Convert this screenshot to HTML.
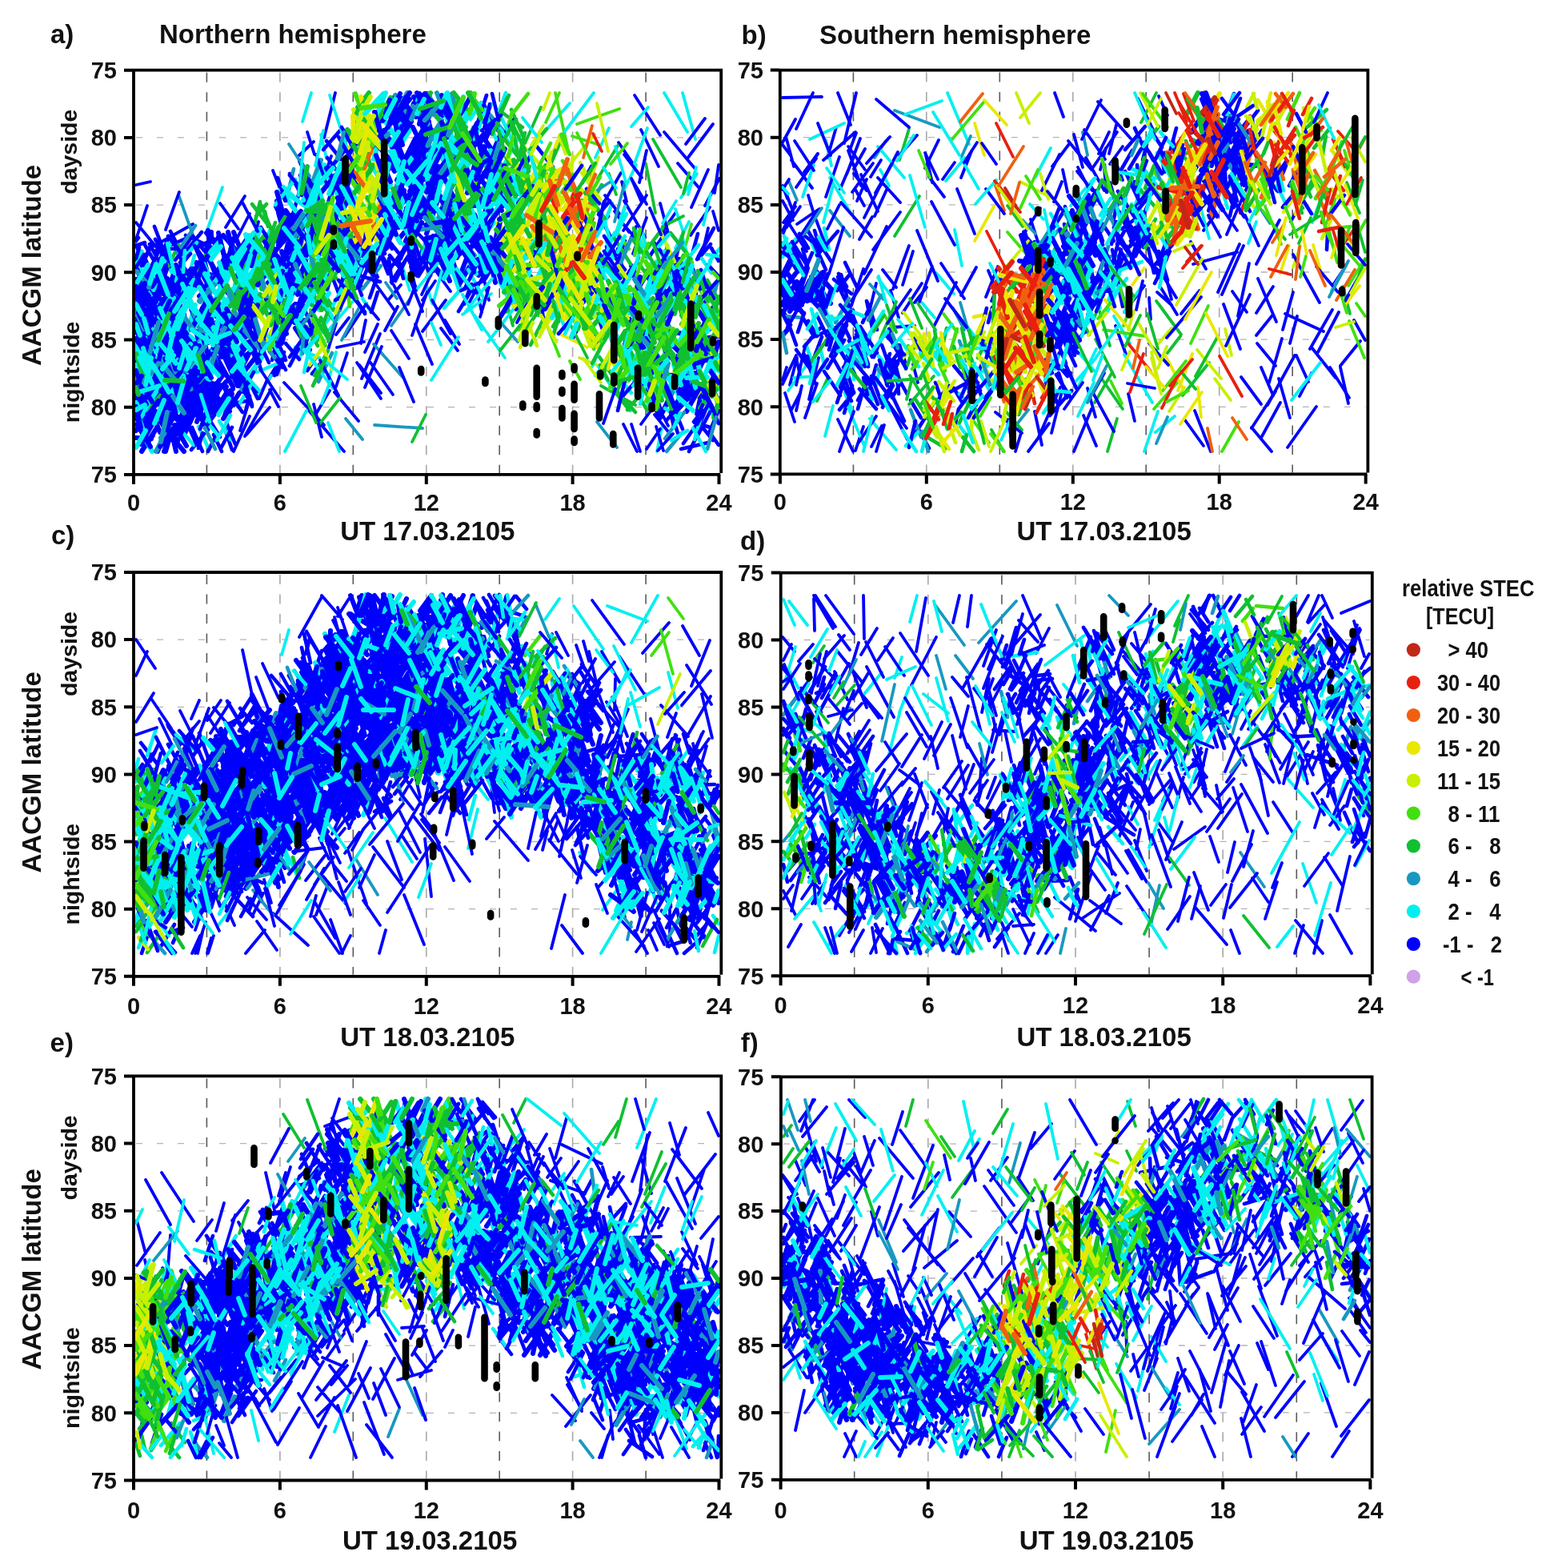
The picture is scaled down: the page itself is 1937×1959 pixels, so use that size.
<!DOCTYPE html><html><head><meta charset="utf-8"><style>html,body{margin:0;padding:0;background:#fff}svg{display:block}.tk{font:bold 29px 'Liberation Sans', Arial, sans-serif;fill:#111}.lb{font:bold 33px 'Liberation Sans', Arial, sans-serif;fill:#111}.sl{font:bold 28.5px 'Liberation Sans', Arial, sans-serif;fill:#111}.lg{font:bold 30px 'Liberation Sans', Arial, sans-serif;fill:#111}</style></head><body>
<svg xmlns="http://www.w3.org/2000/svg" width="1937" height="1959" viewBox="0 0 1937 1959">
<rect width="1937" height="1959" fill="#fff"/>
<line x1="258.4" y1="90.7" x2="258.4" y2="590.9" stroke="#5a5a5a" stroke-width="1.6" stroke-dasharray="12 12.5"/>
<line x1="441.3" y1="90.7" x2="441.3" y2="590.9" stroke="#5a5a5a" stroke-width="1.6" stroke-dasharray="12 12.5"/>
<line x1="624.2" y1="90.7" x2="624.2" y2="590.9" stroke="#5a5a5a" stroke-width="1.6" stroke-dasharray="12 12.5"/>
<line x1="807.1" y1="90.7" x2="807.1" y2="590.9" stroke="#5a5a5a" stroke-width="1.6" stroke-dasharray="12 12.5"/>
<line x1="349.9" y1="90.7" x2="349.9" y2="590.9" stroke="#a8a8a8" stroke-width="1.6" stroke-dasharray="12 12.5"/>
<line x1="532.8" y1="90.7" x2="532.8" y2="590.9" stroke="#a8a8a8" stroke-width="1.6" stroke-dasharray="12 12.5"/>
<line x1="715.6" y1="90.7" x2="715.6" y2="590.9" stroke="#a8a8a8" stroke-width="1.6" stroke-dasharray="12 12.5"/>
<line x1="170" y1="171.9" x2="898.2" y2="171.9" stroke="#b4b4b4" stroke-width="1.3" stroke-dasharray="8 18"/>
<line x1="170" y1="256.1" x2="898.2" y2="256.1" stroke="#b4b4b4" stroke-width="1.3" stroke-dasharray="8 18"/>
<line x1="170" y1="340.3" x2="898.2" y2="340.3" stroke="#b4b4b4" stroke-width="1.3" stroke-dasharray="8 18"/>
<line x1="170" y1="424.5" x2="898.2" y2="424.5" stroke="#b4b4b4" stroke-width="1.3" stroke-dasharray="8 18"/>
<line x1="170" y1="508.7" x2="898.2" y2="508.7" stroke="#b4b4b4" stroke-width="1.3" stroke-dasharray="8 18"/>
<line x1="1066.4" y1="90.6" x2="1066.4" y2="590.4" stroke="#5a5a5a" stroke-width="1.6" stroke-dasharray="12 12.5"/>
<line x1="1249.3" y1="90.6" x2="1249.3" y2="590.4" stroke="#5a5a5a" stroke-width="1.6" stroke-dasharray="12 12.5"/>
<line x1="1432.2" y1="90.6" x2="1432.2" y2="590.4" stroke="#5a5a5a" stroke-width="1.6" stroke-dasharray="12 12.5"/>
<line x1="1615.2" y1="90.6" x2="1615.2" y2="590.4" stroke="#5a5a5a" stroke-width="1.6" stroke-dasharray="12 12.5"/>
<line x1="1157.8" y1="90.6" x2="1157.8" y2="590.4" stroke="#a8a8a8" stroke-width="1.6" stroke-dasharray="12 12.5"/>
<line x1="1340.8" y1="90.6" x2="1340.8" y2="590.4" stroke="#a8a8a8" stroke-width="1.6" stroke-dasharray="12 12.5"/>
<line x1="1523.7" y1="90.6" x2="1523.7" y2="590.4" stroke="#a8a8a8" stroke-width="1.6" stroke-dasharray="12 12.5"/>
<line x1="977.8" y1="171.7" x2="1706.4" y2="171.7" stroke="#b4b4b4" stroke-width="1.3" stroke-dasharray="8 18"/>
<line x1="977.8" y1="255.9" x2="1706.4" y2="255.9" stroke="#b4b4b4" stroke-width="1.3" stroke-dasharray="8 18"/>
<line x1="977.8" y1="340" x2="1706.4" y2="340" stroke="#b4b4b4" stroke-width="1.3" stroke-dasharray="8 18"/>
<line x1="977.8" y1="424.1" x2="1706.4" y2="424.1" stroke="#b4b4b4" stroke-width="1.3" stroke-dasharray="8 18"/>
<line x1="977.8" y1="508.3" x2="1706.4" y2="508.3" stroke="#b4b4b4" stroke-width="1.3" stroke-dasharray="8 18"/>
<line x1="258.4" y1="718" x2="258.4" y2="1217.8" stroke="#5a5a5a" stroke-width="1.6" stroke-dasharray="12 12.5"/>
<line x1="441.3" y1="718" x2="441.3" y2="1217.8" stroke="#5a5a5a" stroke-width="1.6" stroke-dasharray="12 12.5"/>
<line x1="624.2" y1="718" x2="624.2" y2="1217.8" stroke="#5a5a5a" stroke-width="1.6" stroke-dasharray="12 12.5"/>
<line x1="807.1" y1="718" x2="807.1" y2="1217.8" stroke="#5a5a5a" stroke-width="1.6" stroke-dasharray="12 12.5"/>
<line x1="349.9" y1="718" x2="349.9" y2="1217.8" stroke="#a8a8a8" stroke-width="1.6" stroke-dasharray="12 12.5"/>
<line x1="532.8" y1="718" x2="532.8" y2="1217.8" stroke="#a8a8a8" stroke-width="1.6" stroke-dasharray="12 12.5"/>
<line x1="715.6" y1="718" x2="715.6" y2="1217.8" stroke="#a8a8a8" stroke-width="1.6" stroke-dasharray="12 12.5"/>
<line x1="170" y1="799.1" x2="898.3" y2="799.1" stroke="#b4b4b4" stroke-width="1.3" stroke-dasharray="8 18"/>
<line x1="170" y1="883.3" x2="898.3" y2="883.3" stroke="#b4b4b4" stroke-width="1.3" stroke-dasharray="8 18"/>
<line x1="170" y1="967.4" x2="898.3" y2="967.4" stroke="#b4b4b4" stroke-width="1.3" stroke-dasharray="8 18"/>
<line x1="170" y1="1051.5" x2="898.3" y2="1051.5" stroke="#b4b4b4" stroke-width="1.3" stroke-dasharray="8 18"/>
<line x1="170" y1="1135.7" x2="898.3" y2="1135.7" stroke="#b4b4b4" stroke-width="1.3" stroke-dasharray="8 18"/>
<line x1="1067.7" y1="718.6" x2="1067.7" y2="1217.2" stroke="#5a5a5a" stroke-width="1.6" stroke-dasharray="12 12.5"/>
<line x1="1251.9" y1="718.6" x2="1251.9" y2="1217.2" stroke="#5a5a5a" stroke-width="1.6" stroke-dasharray="12 12.5"/>
<line x1="1436.1" y1="718.6" x2="1436.1" y2="1217.2" stroke="#5a5a5a" stroke-width="1.6" stroke-dasharray="12 12.5"/>
<line x1="1620.3" y1="718.6" x2="1620.3" y2="1217.2" stroke="#5a5a5a" stroke-width="1.6" stroke-dasharray="12 12.5"/>
<line x1="1159.8" y1="718.6" x2="1159.8" y2="1217.2" stroke="#a8a8a8" stroke-width="1.6" stroke-dasharray="12 12.5"/>
<line x1="1344" y1="718.6" x2="1344" y2="1217.2" stroke="#a8a8a8" stroke-width="1.6" stroke-dasharray="12 12.5"/>
<line x1="1528.2" y1="718.6" x2="1528.2" y2="1217.2" stroke="#a8a8a8" stroke-width="1.6" stroke-dasharray="12 12.5"/>
<line x1="978.7" y1="799.5" x2="1711.8" y2="799.5" stroke="#b4b4b4" stroke-width="1.3" stroke-dasharray="8 18"/>
<line x1="978.7" y1="883.5" x2="1711.8" y2="883.5" stroke="#b4b4b4" stroke-width="1.3" stroke-dasharray="8 18"/>
<line x1="978.7" y1="967.4" x2="1711.8" y2="967.4" stroke="#b4b4b4" stroke-width="1.3" stroke-dasharray="8 18"/>
<line x1="978.7" y1="1051.3" x2="1711.8" y2="1051.3" stroke="#b4b4b4" stroke-width="1.3" stroke-dasharray="8 18"/>
<line x1="978.7" y1="1135.3" x2="1711.8" y2="1135.3" stroke="#b4b4b4" stroke-width="1.3" stroke-dasharray="8 18"/>
<line x1="258.4" y1="1347.4" x2="258.4" y2="1847.5" stroke="#5a5a5a" stroke-width="1.6" stroke-dasharray="12 12.5"/>
<line x1="441.3" y1="1347.4" x2="441.3" y2="1847.5" stroke="#5a5a5a" stroke-width="1.6" stroke-dasharray="12 12.5"/>
<line x1="624.2" y1="1347.4" x2="624.2" y2="1847.5" stroke="#5a5a5a" stroke-width="1.6" stroke-dasharray="12 12.5"/>
<line x1="807.1" y1="1347.4" x2="807.1" y2="1847.5" stroke="#5a5a5a" stroke-width="1.6" stroke-dasharray="12 12.5"/>
<line x1="349.9" y1="1347.4" x2="349.9" y2="1847.5" stroke="#a8a8a8" stroke-width="1.6" stroke-dasharray="12 12.5"/>
<line x1="532.8" y1="1347.4" x2="532.8" y2="1847.5" stroke="#a8a8a8" stroke-width="1.6" stroke-dasharray="12 12.5"/>
<line x1="715.6" y1="1347.4" x2="715.6" y2="1847.5" stroke="#a8a8a8" stroke-width="1.6" stroke-dasharray="12 12.5"/>
<line x1="170" y1="1428.6" x2="898.3" y2="1428.6" stroke="#b4b4b4" stroke-width="1.3" stroke-dasharray="8 18"/>
<line x1="170" y1="1512.8" x2="898.3" y2="1512.8" stroke="#b4b4b4" stroke-width="1.3" stroke-dasharray="8 18"/>
<line x1="170" y1="1597" x2="898.3" y2="1597" stroke="#b4b4b4" stroke-width="1.3" stroke-dasharray="8 18"/>
<line x1="170" y1="1681.1" x2="898.3" y2="1681.1" stroke="#b4b4b4" stroke-width="1.3" stroke-dasharray="8 18"/>
<line x1="170" y1="1765.3" x2="898.3" y2="1765.3" stroke="#b4b4b4" stroke-width="1.3" stroke-dasharray="8 18"/>
<line x1="1067.7" y1="1348.3" x2="1067.7" y2="1846.8" stroke="#5a5a5a" stroke-width="1.6" stroke-dasharray="12 12.5"/>
<line x1="1251.9" y1="1348.3" x2="1251.9" y2="1846.8" stroke="#5a5a5a" stroke-width="1.6" stroke-dasharray="12 12.5"/>
<line x1="1436.1" y1="1348.3" x2="1436.1" y2="1846.8" stroke="#5a5a5a" stroke-width="1.6" stroke-dasharray="12 12.5"/>
<line x1="1620.3" y1="1348.3" x2="1620.3" y2="1846.8" stroke="#5a5a5a" stroke-width="1.6" stroke-dasharray="12 12.5"/>
<line x1="1159.8" y1="1348.3" x2="1159.8" y2="1846.8" stroke="#a8a8a8" stroke-width="1.6" stroke-dasharray="12 12.5"/>
<line x1="1344" y1="1348.3" x2="1344" y2="1846.8" stroke="#a8a8a8" stroke-width="1.6" stroke-dasharray="12 12.5"/>
<line x1="1528.2" y1="1348.3" x2="1528.2" y2="1846.8" stroke="#a8a8a8" stroke-width="1.6" stroke-dasharray="12 12.5"/>
<line x1="978.9" y1="1429.2" x2="1711.6" y2="1429.2" stroke="#b4b4b4" stroke-width="1.3" stroke-dasharray="8 18"/>
<line x1="978.9" y1="1513.1" x2="1711.6" y2="1513.1" stroke="#b4b4b4" stroke-width="1.3" stroke-dasharray="8 18"/>
<line x1="978.9" y1="1597" x2="1711.6" y2="1597" stroke="#b4b4b4" stroke-width="1.3" stroke-dasharray="8 18"/>
<line x1="978.9" y1="1681" x2="1711.6" y2="1681" stroke="#b4b4b4" stroke-width="1.3" stroke-dasharray="8 18"/>
<line x1="978.9" y1="1764.9" x2="1711.6" y2="1764.9" stroke="#b4b4b4" stroke-width="1.3" stroke-dasharray="8 18"/>
<g fill="none" stroke-width="3.8" stroke-linecap="round">
<path stroke="#0000ff" d="M405 172l14 -56M392 177l-18 17M404 224l10 -29M790 203l-17 -25M859 198l32 -43M356 251l-15 -38M783 252l-6 -25M873 234l-26 -30M207 323l-37 -45M241 280l-55 31M313 316l10 -39M801 305l-25 -28M786 290l-18 -26M826 292l18 -26M863 294l24 -35M494 389l-28 -39M528 389l-15 -38M563 364l-31 -43M587 377l23 -44M602 390l-8 -37M410 437l10 -33M431 420l27 -41M515 419l19 -55M528 414l29 -39M455 427l-34 7M452 473l23 -56M348 508l-11 -21M355 478l50 53M448 526l-30 -36M491 493l-28 -40M300 538l11 -36M306 545l33 -59M800 564l-11 -34M835 532l-20 -39M801 530l29 -40"/>
<path stroke="#0000ff" stroke-width="4.6" d="M599 181l16 -26M603 173l9 -16M622 163l-17 -32M611 167l9 -17M430 207l16 -33M435 223l-5 -18M426 199l-18 -23M427 214l15 -34M650 222l12 -26M365 271l9 -31M377 244l-15 -27M728 228l11 -20M747 286l13 -16M200 329l-13 -24M186 344l-16 -38M177 314l-7 11M193 351l-12 -29M205 317l-11 -18M201 351l6 -23M232 298l-36 16M228 318l-15 -29M235 344l-10 -16M232 294l33 15M219 325l18 -25M498 316l-16 -20M486 323l4 31M488 336l-15 -23M481 317l-15 -36M501 323l7 -22M519 339l9 -28M520 289l24 26M520 344l-10 -21M754 324l10 -29M768 337l13 -36M781 337l-23 -29M798 321l-8 24M812 320l20 -30M839 345l9 -36M873 320l19 -35M866 314l6 -22M425 371l-9 -23M452 369l-8 -22M456 392l-13 -21M451 354l11 -25M573 389l17 -28M881 377l13 -16M883 359l-7 -22M392 417l-14 -38M340 450l8 -33M335 475l12 -20M357 462l-17 -32M348 462l7 -18M357 450l-9 -21M390 467l13 -16M298 483l4 -18M309 494l-9 -32M322 489l-20 -23M304 490l-11 -35M809 492l-14 -35M229 542l8 -19M253 564l-13 -30M222 536l18 -29M223 536l14 -29M290 562l-9 -26M277 564l-10 -21M275 546l-16 -26M847 541l-7 -21M853 536l-11 -27M872 527l14 -22M898 556l-10 -14M885 553l-34 8M886 541l12 -28"/>
<path stroke="#0000ff" stroke-width="6" d="M464 169l-16 -33M490 149l4 -18M509 148l-16 -27M503 123l-18 21M491 132l9 -15M483 161l25 -32M536 166l-16 -27M515 145l-16 24M527 150l-7 -20M537 187l-10 -32M511 161l-16 -27M536 152l-19 -31M552 181l8 -23M544 175l-19 -36M553 144l13 -20M586 182l6 -22M494 192l9 -38M504 214l-17 -36M483 216l4 -18M493 214l-14 -23M523 179l-14 23M530 209l-12 -25M529 192l3 25M518 178l19 20M520 202l12 -39M505 202l12 -20M551 170l7 33M565 193l-19 -24M528 212l15 -19M591 228l-13 -29M562 200l10 -34M611 202l14 -33M602 202l4 -18M623 199l-16 -23M630 227l-11 -29M380 255l13 -14M390 234l-15 -33M378 207l6 30M444 264l-15 -27M448 228l-14 -23M426 243l-22 -35M492 241l13 -16M472 233l22 -35M492 258l13 -20M512 239l14 -24M515 247l12 -21M527 233l-6 -28M513 248l17 -37M516 265l9 -34M543 244l23 7M533 270l16 -38M550 245l-25 -29M596 254l-7 -26M627 263l-19 -28M594 234l18 -28M601 250l15 -29M611 258l-15 -27M637 238l-36 17M675 270l-20 -36M367 309l5 -24M349 307l26 -29M354 274l-8 -23M384 300l-16 -30M375 293l11 -30M388 288l22 -24M415 306l-15 -26M422 284l13 -18M428 289l-17 -34M494 282l10 -35M484 307l8 -33M475 276l6 -25M481 291l11 -18M498 284l23 -28M516 283l-8 -21M498 299l23 -27M534 266l-13 -15M539 282l-10 -28M555 288l14 -19M554 273l-18 -26M533 292l13 -39M553 302l9 -17M563 303l20 -32M603 291l-24 -32M615 313l-18 -36M589 309l12 -23M617 269l-8 -19M617 310l7 -33M604 274l7 -27M672 306l16 -34M693 310l20 -29M740 288l-7 -16M277 340l13 -20M279 296l-34 13M297 315l-18 -21M255 330l9 -37M274 337l15 -23M298 343l17 -34M301 313l-9 -23M327 319l-9 -17M337 330l-23 -29M329 333l37 14M355 334l21 -29M356 346l18 -20M359 356l-19 -32M362 343l-10 -29M373 319l-20 -34M388 315l7 -26M404 337l13 -21M441 356l-12 -35M445 328l6 -27M450 357l-10 -34M433 321l18 -35M471 346l-18 -32M453 319l-18 -22M562 351l-17 -38M538 338l17 -37M542 313l14 -29M542 338l-9 -27M560 319l13 -19M574 352l-12 -38M573 357l19 -33M571 322l15 -25M598 344l14 -24M606 348l14 -24M613 313l15 -25M619 353l-7 -30M599 325l9 -16M668 315l18 10M736 357l-14 -33M184 373l-8 -17M180 366l-10 -17M174 373l28 9M182 376l8 -25M170 386l25 -33M187 341l-17 21M170 378l5 -9M224 391l-15 -19M203 367l12 -19M193 354l20 -26M224 349l-12 -14M225 381l-20 -34M209 385l8 -34M215 354l5 -23M233 383l-11 -40M230 336l23 27M264 361l-17 -30M259 354l-14 -26M298 382l-25 -31M263 359l-8 -35M260 366l17 -22M304 392l-9 -25M291 376l7 -24M355 377l-20 -24M353 344l19 24M378 372l-8 -31M359 348l37 13M363 374l-19 -28M401 372l9 -36M645 386l-8 -19M651 332l15 17M730 342l-8 27M735 372l-14 -23M773 370l-34 18M803 379l-7 -21M819 381l15 -17M820 388l19 -30M866 359l-18 -35M836 370l8 -38M181 438l11 -38M188 392l-7 -17M178 427l-8 -14M197 439l-17 -37M181 433l-11 -20M171 407l23 -32M193 433l-21 -36M176 410l22 -29M203 412l-13 -38M208 414l-13 -22M221 433l-7 -30M207 430l16 -18M233 427l-11 -26M230 393l-9 -16M248 439l15 -38M248 416l16 -20M223 420l20 -25M263 441l23 -33M260 428l11 -26M278 419l16 -24M280 408l7 -31M257 389l35 16M268 408l-15 -23M303 394l-9 -20M305 404l14 -30M325 424l-16 -35M305 416l-13 -27M341 399l16 -19M358 417l-11 -36M369 380l-22 21M341 424l25 -29M387 437l-18 -27M716 421l12 -24M755 415l-8 -22M799 414l-12 -15M822 410l17 -30M829 413l25 4M879 398l17 -19M898 420l-31 5M170 444l15 -26M170 468l15 -24M201 468l-12 -29M183 448l7 -26M188 447l23 -28M214 478l-8 -23M217 464l-14 -33M218 462l13 -16M196 429l17 13M234 417l-23 29M225 428l-13 18M254 473l8 -16M250 456l-8 -24M241 450l-22 -31M248 454l-17 -21M251 478l11 -36M293 459l-19 -21M295 447l-18 -23M277 467l-11 -19M291 483l-20 -36M303 467l15 -19M310 442l-24 15M298 477l7 -25M299 465l-15 -24M814 467l4 -18M868 459l-11 -18M850 476l-6 -22M872 465l8 -17M186 509l7 -19M172 498l16 -18M193 495l-23 -26M170 493l13 -16M185 505l-12 -29M189 493l-15 -22M173 502l9 -25M180 500l-10 -19M198 505l7 -23M218 507l-7 -28M231 496l-15 -22M215 491l-11 -40M207 492l25 -30M213 519l-18 -24M220 510l-23 -34M233 498l23 -26M226 475l11 -15M243 483l-12 -30M237 514l11 -28M245 512l-21 -36M233 514l23 -31M240 482l-18 -29M227 507l18 -22M250 496l-13 -19M258 490l-15 -31M274 504l-16 -38M259 503l28 -31M260 495l21 -30M281 485l11 21M287 514l-15 -17M268 507l-14 -27M825 522l-13 -27M844 514l10 -20M837 484l20 -24M870 466l-33 3M842 508l20 -27M871 517l8 -38M888 492l-20 3M177 564l20 -31M185 535l5 -19M177 549l9 -31M192 492l-16 34M178 562l13 -18M187 533l26 -32M220 557l-10 -18M229 527l-9 16M220 564l-5 -22M197 564l10 -26M205 564l9 -24"/>
<path stroke="#1898c0" d="M387 220l-26 -40M244 302l-20 -56M427 425l23 -43M503 471l-36 -41M771 559l-25 -32"/>
<path stroke="#1898c0" stroke-width="4.6" d="M633 168l-20 -24M361 237l6 -26M844 349l-20 -37M453 361l23 -29M317 465l17 -36M398 477l17 -36M833 564l19 -23"/>
<path stroke="#1898c0" stroke-width="6" d="M508 140l-14 -21M499 135l10 -19M556 142l-10 -26M565 117l4 20M533 191l8 -28M387 237l14 -37M485 263l20 -36M516 249l10 -17M647 228l13 -17M417 306l-17 -27M546 278l12 -34M593 319l-18 -20M191 384l7 -27M259 373l14 -28M294 356l6 22M362 369l-14 -21M859 381l11 -20M200 391l9 27M253 418l-12 -29M287 430l-13 -36M346 423l12 -16M836 408l-12 -14M170 465l8 -9M228 435l5 23M231 461l-6 -20M306 452l-19 -21M887 441l-13 -18M213 488l-11 -27M835 502l11 -24M170 519l6 -12M201 547l12 -17"/>
<path stroke="#00f0f0" d="M378 152l11 -36M682 163l30 -34M869 174l-16 -58M408 198l-7 -30M744 197l17 -37M780 237l15 -31M258 290l20 -56M854 290l-10 -29M512 363l-9 -30M540 379l-7 -23M411 412l33 -39M631 447l-38 -53M410 477l10 -37M321 497l18 -28M767 488l-20 -31M821 564l6 -30"/>
<path stroke="#00f0f0" stroke-width="4.6" d="M588 187l14 -36M620 174l-15 -38M629 207l20 -37M350 237l33 22M331 302l8 -18M756 277l9 -23M176 325l-0 29M203 335l11 -34M237 342l6 -23M526 325l6 -26M766 323l-8 -21M795 330l9 -33M828 350l-16 -20M856 353l8 -29M887 326l12 -15M464 390l-11 -17M555 385l22 -25M888 376l-15 -21M397 416l16 -20M347 454l-26 11M366 445l16 -22M369 434l30 13M744 469l24 -29M788 513l-11 -15M789 491l-22 -28M260 559l-12 -26M271 542l-20 -24M859 538l-20 12M896 527l-17 -28"/>
<path stroke="#00f0f0" stroke-width="6" d="M448 158l13 -22M480 182l-18 -36M503 161l-17 -33M518 143l6 -25M565 175l-8 -33M575 164l14 -27M572 172l12 -34M483 210l16 -37M531 186l-5 -21M540 209l10 -29M565 225l-15 -34M578 197l-17 -26M593 210l13 -15M391 252l25 -30M416 227l-12 -14M389 239l16 -33M452 258l-21 -28M402 228l18 -27M480 233l-14 -24M481 239l25 11M526 262l12 -19M546 226l-11 -18M544 228l-15 -20M528 213l14 24M579 213l-3 38M634 242l-23 17M630 248l22 2M654 241l-19 -29M675 240l-15 -20M377 274l-20 -28M476 290l9 -27M491 269l-9 27M505 305l20 -33M523 266l-7 19M540 270l25 32M573 304l15 -35M585 286l-11 -19M600 300l17 -22M613 278l14 -21M635 294l7 -19M282 347l8 -20M295 327l-10 -36M304 331l-16 -20M313 317l11 -14M296 330l15 -36M330 342l-13 -30M383 324l-19 -33M388 330l11 -37M432 334l9 -32M406 343l16 -24M433 355l9 -32M456 316l-18 -23M435 340l14 -26M550 327l-17 -28M529 316l23 -31M595 342l-12 -21M608 339l-10 -16M602 333l9 -18M671 349l11 -24M178 371l-8 -11M170 373l11 -24M173 392l22 -30M206 385l11 -24M230 369l-16 -31M240 366l-5 -22M244 362l11 -38M233 367l-6 -22M278 372l-7 -31M283 388l6 -26M301 362l11 -14M313 351l14 28M316 373l17 13M381 371l-6 -18M350 362l9 -33M383 361l13 -16M402 349l-16 -18M635 371l-10 -19M661 366l-7 -18M709 368l-12 -31M730 372l22 -30M784 392l-17 -22M784 370l-20 -28M790 393l-20 -31M794 390l5 -19M830 389l9 -22M817 357l7 -25M840 392l9 -34M202 426l-18 -21M202 378l-22 25M230 408l-14 -18M205 397l9 -17M221 425l13 -21M233 419l11 -38M224 409l18 15M240 406l25 -29M278 406l12 -35M285 392l-16 -19M264 402l9 -39M258 427l20 -36M338 385l14 14M732 416l-9 -40M774 425l-13 -21M752 394l6 -23M785 432l24 -30M814 420l-14 -24M866 392l-14 -17M876 380l22 33M170 432l12 -18M205 462l-31 6M170 466l5 -16M182 422l-12 7M176 461l-6 -28M198 437l-8 -25M216 446l-13 -15M231 479l-7 -32M193 436l16 -21M244 475l7 -25M236 467l5 -19M259 467l-7 -23M267 441l9 -21M263 454l9 -20M303 455l-27 -30M284 453l22 -27M790 444l3 31M807 456l-30 3M784 476l20 -28M817 480l13 -37M857 451l21 -33M877 472l-6 -22M879 438l-5 -23M170 499l24 3M206 487l5 -20M212 476l-6 21M849 491l-25 -33M852 504l-14 -34M862 500l9 -27M897 486l-7 -27M193 522l-11 -18M190 564l-9 -17"/>
<path stroke="#10c030" d="M656 179l20 -45M770 243l-9 -26M854 270l-26 13M641 407l-8 -29M751 482l43 24"/>
<path stroke="#10c030" stroke-width="4.6" d="M590 162l17 -23M654 171l-15 -34M628 141l25 18M651 200l-13 -18M638 205l-13 -19M626 216l12 -16M689 203l16 -37M735 260l17 -29M318 280l7 -28M320 270l13 -15M206 342l17 -36M755 337l-6 -21M810 346l-11 -16M825 339l9 -32M808 312l20 -27M836 352l18 -33M439 361l-20 -34M433 357l-8 31M898 375l-14 -25M390 425l11 -28M418 401l-22 -29M663 431l17 -34M693 407l16 -37M393 469l17 -31M755 465l17 -31M777 444l-12 -36M794 515l-27 -31M784 512l18 -21"/>
<path stroke="#10c030" stroke-width="6" d="M447 134l14 -18M466 181l-21 -28M558 160l-21 -24M575 173l-10 -40M562 181l20 -22M564 151l7 -23M583 136l-16 -20M462 207l-6 -29M579 154l-19 37M568 220l23 -30M609 212l-5 -21M428 259l9 -16M451 238l15 -32M571 238l7 -19M565 260l11 -30M563 237l13 -21M599 241l19 -21M632 247l-10 -21M639 230l-13 -24M666 254l-9 -21M653 232l8 -24M691 251l11 -35M403 296l-13 -34M389 281l15 -26M394 276l21 -27M433 295l-17 -25M444 305l-8 -28M423 310l-16 -28M575 304l-7 -20M627 295l19 -27M634 304l-11 -18M668 264l19 30M663 299l19 -37M716 266l-8 -19M747 289l-13 17M300 340l24 -31M313 315l19 -22M321 344l5 -20M400 339l18 -30M414 316l-21 -35M599 313l-21 -28M661 317l-19 -30M670 329l14 -22M688 348l-8 -39M692 354l-8 -32M740 295l-31 12M303 361l-10 -17M312 350l7 -17M308 375l16 -33M325 368l15 10M327 361l-5 -18M391 352l-11 -24M390 381l-9 -40M417 387l-20 -32M630 365l16 -18M632 389l9 -22M673 393l-17 -38M675 364l14 -36M710 377l-18 -30M698 391l14 -20M729 388l-14 -25M727 391l-15 -36M768 369l-8 -18M769 342l17 6M837 394l-13 -25M838 371l22 -32M843 392l9 -38M288 398l13 -30M347 412l-21 -32M310 407l21 -27M378 423l-13 -36M722 411l5 -22M749 392l-26 12M766 408l-21 -28M767 431l-9 -27M780 438l12 -39M798 401l-16 13M817 420l12 -16M802 423l12 -31M857 436l16 -32M859 427l7 -24M853 436l-22 -25M881 436l18 -28M885 403l-11 -32M801 444l-17 -23M791 447l-11 -25M814 444l-8 -37M832 440l-9 -24M834 467l-17 -29M865 475l-11 -33M874 483l-21 -36M895 453l-13 -27M898 459l-7 -10M191 484l9 -27M216 500l-19 -22M819 486l7 -28M819 501l12 -39M875 510l12 -19M882 494l-11 -15"/>
<path stroke="#40e010" d="M709 183l-15 -67M715 170l34 11M857 306l7 -26M761 487l8 -26"/>
<path stroke="#40e010" stroke-width="4.6" d="M634 160l6 -20M674 223l-10 -26M715 219l-12 -18M744 254l-7 -21M786 311l-13 -18M865 328l-11 -20M885 377l-17 -24M648 412l20 -31M742 436l15 -19"/>
<path stroke="#40e010" stroke-width="6" d="M451 185l7 -26M456 148l-12 -31M569 153l-11 -21M449 201l-9 -36M456 208l11 -33M449 240l-10 -15M565 208l14 14M687 238l-6 -25M703 240l15 -21M400 299l-9 -26M442 307l-11 -40M587 288l-6 -20M653 280l-19 -31M676 298l11 -19M684 284l-15 -38M739 279l-13 -28M319 328l14 -19M376 353l17 -28M656 336l-8 -23M679 337l-7 -28M689 319l16 -34M735 322l-7 -29M384 354l10 -16M658 355l-20 -29M639 378l-10 -40M704 353l18 -23M723 389l-11 -31M735 355l12 -18M768 388l-8 -17M789 362l-31 6M791 393l-15 -39M812 345l20 32M857 369l17 -27M313 396l20 -24M727 395l18 -24M767 377l-31 13M756 392l23 9M810 429l16 -27M830 406l-34 21M868 407l-19 -35M898 393l-8 -22M804 446l-9 -26M821 455l12 -14M856 449l-14 -27M882 447l-26 -33M818 507l15 -22M817 477l14 -16"/>
<path stroke="#c8f000" d="M679 137l8 -21M710 208l33 -40M724 447l22 9"/>
<path stroke="#c8f000" stroke-width="4.6" d="M655 223l-22 -29M678 209l-27 -30M707 192l-8 -22M739 251l-13 -15M807 317l-10 -24M879 366l-7 -22M671 432l-14 -36M693 384l-14 23M415 461l-15 -35M784 476l-21 -26"/>
<path stroke="#c8f000" stroke-width="6" d="M449 166l9 -38M457 172l-15 -35M458 200l14 -37M458 222l-8 -25M467 249l-12 -27M445 258l17 -35M468 237l-14 -34M668 263l8 -19M658 238l12 -20M705 246l8 -19M432 306l27 -32M454 271l-16 -21M635 296l-13 -17M667 297l7 -17M711 298l-16 -26M745 301l-9 -21M352 336l-14 -24M640 318l-17 -27M634 337l-13 -33M656 343l-14 -36M675 329l11 -40M703 339l-13 -24M710 311l-10 -19M736 337l-7 -28M332 374l23 -31M682 345l-24 5M710 398l-9 -36M696 367l-10 -35M722 391l-8 -24M715 397l16 -32M757 376l17 -21M333 424l12 -18M743 395l-7 -26M737 412l-16 -22M784 398l-8 -20M843 464l20 3M866 500l18 -26"/>
<path stroke="#e8e800" d="M697 416l37 18"/>
<path stroke="#e8e800" stroke-width="4.6" d="M682 214l15 -38M701 383l-26 32M769 463l11 -26"/>
<path stroke="#e8e800" stroke-width="6" d="M447 161l15 -16M456 139l-5 -18M465 182l9 35M454 234l-16 -25M704 262l17 -24M453 285l12 -23M465 272l14 -28M471 269l-12 -19M678 282l-13 -23M690 275l12 -24M725 294l-18 -31M647 316l21 -26M708 325l8 -30M732 347l-10 -31M642 383l27 -30M716 365l-9 -18M740 384l6 -28"/>
<path stroke="#f06010" d="M729 197l11 -40"/>
<path stroke="#f06010" stroke-width="4.6" d="M737 227l6 -20"/>
<path stroke="#f06010" stroke-width="6" d="M455 210l15 -39M681 241l12 -16M432 307l21 -33M475 258l-10 35M708 281l12 -21M738 253l-13 26M730 324l14 -34"/>
<path stroke="#e82010" d="M752 189l-11 -22"/>
<path stroke="#e82010" stroke-width="6" d="M710 266l7 -23M700 303l-17 -28M717 307l23 -34"/>
<path stroke="#0000ff" d="M825 169l-32 -50M408 230l-13 -37M802 222l-22 -29M823 208l-22 -46M898 206l-5 35M774 267l-18 -23M802 253l-13 -30M864 259l21 -47M170 299l14 -42M298 286l-23 -32M282 284l24 -39M779 288l29 -44M806 296l-26 -45M835 291l-10 -37M898 288l-7 -24M485 375l16 -19M520 363l-7 -30M527 368l22 -48M611 375l-10 -42M420 418l16 -21M451 429l6 -29M472 405l-16 35M572 438l-21 -28M574 430l-18 -30M420 483l14 -42M511 448l-22 -35M324 498l10 -24M395 517l17 -29M476 498l-30 -45M499 459l18 43M292 564l20 -44M430 564l-44 -51M796 564l-17 -34M838 543l-20 -25M829 563l-9 -30"/>
<path stroke="#0000ff" stroke-width="4.6" d="M596 156l12 -37M607 175l10 -23M613 132l-8 21M622 180l20 -30M425 219l-16 -22M432 214l18 -27M404 187l21 -24M410 213l22 -26M691 209l-21 -27M357 251l-10 -29M749 254l-16 -18M342 310l-16 -26M761 292l-11 -21M195 330l-14 -24M187 337l13 -26M179 327l11 -24M181 303l-11 4M232 339l-13 -33M223 310l-28 3M215 331l-18 -25M201 322l10 -27M255 313l-14 -18M234 312l18 -22M489 352l21 -32M485 342l-12 -30M504 348l-5 -20M471 317l9 -37M494 351l13 -26M497 329l14 -26M538 344l-10 -22M522 345l-10 -35M524 342l-8 -34M738 317l17 30M775 348l-25 -30M747 336l10 -16M844 337l-26 -33M845 345l-14 -25M873 323l15 -18M898 326l-9 -16M422 374l8 -33M409 362l7 -26M456 390l-17 -22M464 390l8 -25M593 366l-12 -16M580 380l9 -25M875 361l-9 -25M892 373l-12 -22M676 375l3 24M353 459l-16 -20M324 444l6 -19M326 462l-9 -31M362 457l11 -21M346 468l9 -28M384 463l11 -17M307 513l5 -18M322 498l-11 -22M308 501l-28 5M779 494l20 -23M239 562l16 -20M260 537l-14 -21M250 536l13 -36M231 543l16 -34M223 524l15 -21M260 564l8 -16M256 535l22 -30M854 554l23 -33M861 564l11 -21M869 527l9 -21M870 540l11 -26M867 527l11 -14M868 528l23 7"/>
<path stroke="#0000ff" stroke-width="6" d="M489 152l23 -28M503 150l-14 -24M491 130l5 36M497 151l-15 -17M480 142l8 -19M472 140l2 23M507 122l-9 18M506 169l11 -40M520 146l-13 -15M524 155l7 -30M510 157l14 -30M541 172l-9 -33M563 151l-12 -19M544 179l22 -32M550 141l-17 -24M567 157l21 -36M492 192l10 -34M497 186l-13 -15M496 225l13 -22M500 197l-20 -33M522 227l-26 -32M501 222l17 -24M521 230l8 -38M515 190l9 -17M512 215l22 -30M552 222l17 -26M556 220l12 -15M527 193l20 -34M595 195l-10 -27M580 189l8 -23M582 195l23 -28M618 204l-18 -23M611 197l20 -26M602 192l-9 -32M619 224l-8 -24M401 241l18 -22M381 253l12 -22M447 268l-15 -39M411 252l12 -38M425 242l9 -19M432 213l-6 20M488 272l-20 -35M490 255l8 -29M498 250l4 -19M535 264l-17 -22M519 234l-17 21M518 237l14 -35M519 245l9 -22M539 234l22 -25M566 245l-17 -36M533 261l9 -32M544 239l12 -19M584 241l9 -35M622 235l-17 -19M619 235l-5 -21M593 235l23 -29M612 239l-19 -26M645 243l-15 -36M663 260l19 -28M353 284l-5 -18M361 304l15 -22M378 307l-11 -38M346 301l17 -32M362 294l-17 -36M410 295l-24 -30M428 293l15 -27M425 268l11 -20M424 300l24 -29M487 271l-4 -18M477 295l7 -27M471 273l26 -33M489 276l-11 -21M502 278l20 -29M515 284l7 -31M517 283l25 -33M507 301l16 -33M549 309l22 -26M567 279l-11 -27M553 281l9 -26M570 275l-22 -29M549 301l10 -16M563 278l12 -26M569 280l-11 -24M607 298l-16 -19M604 300l14 -32M604 300l-11 -32M619 304l6 -27M606 312l-11 -31M679 285l-11 -29M735 300l-18 -32M266 351l14 -28M285 335l-12 -39M271 309l-11 -21M275 339l10 -19M274 311l-16 -20M273 352l-15 -38M313 322l-6 -19M290 327l18 -28M338 322l19 -25M352 339l-19 -30M358 333l16 -21M377 346l-19 -25M373 351l9 -25M342 338l24 -30M353 330l7 -26M385 344l-13 -38M398 319l17 -39M436 349l-14 -21M423 326l-22 -26M449 342l-14 -28M460 320l-12 -23M467 344l-12 -15M460 328l-15 -33M445 311l6 -23M546 338l-15 -39M559 313l-12 -14M554 345l-21 -23M565 320l-11 -40M592 340l-7 -24M587 317l-12 -14M585 325l-18 -31M561 311l13 -20M631 320l-18 -23M627 337l-7 -28M604 340l19 -35M603 343l-6 -19M613 319l9 -25M720 334l-37 2M747 324l-11 -23M174 376l6 -30M185 377l-12 -28M170 358l6 -8M179 355l-9 -21M205 380l-21 -30M190 341l-14 12M171 360l15 -19M191 368l16 -36M197 371l11 -35M208 377l8 -32M216 376l11 -22M223 364l8 -24M212 366l27 -30M219 369l-13 -21M208 393l26 -29M253 370l10 -27M241 362l-16 -24M227 356l12 -14M277 345l-28 25M278 395l-21 -33M259 365l17 -27M311 382l-6 -19M344 389l-11 -15M322 356l23 -30M356 359l13 -19M392 348l-27 18M357 368l16 -23M385 379l20 -35M378 378l12 -21M633 354l9 -21M699 367l8 -26M717 390l22 -24M733 368l21 -31M791 371l21 -35M799 355l-10 -23M817 384l12 -23M825 374l-15 -28M843 367l13 -27M853 360l-8 -35M170 407l8 -28M176 399l-6 -18M173 428l16 -23M173 417l23 -35M199 407l-12 -14M187 401l10 -32M181 410l-9 -38M174 398l7 -32M182 430l15 -18M214 424l-20 -24M208 419l-17 -38M204 412l15 -21M204 430l-9 -31M211 419l14 -23M244 435l-18 -22M235 431l-8 -25M248 407l-9 -21M283 410l-12 -36M264 411l-6 -21M274 437l-10 -38M290 436l-19 -24M267 420l12 -21M298 415l-15 -29M309 419l13 -38M310 403l-9 -41M307 421l-17 -25M328 425l11 -33M350 397l9 -19M340 400l23 -26M360 402l12 -22M352 429l6 -21M353 397l6 -20M751 431l-24 -34M785 434l15 -27M781 430l16 -36M812 423l10 -37M859 425l7 -18M887 411l-21 -34M886 436l-22 -28M193 462l-19 -37M185 473l-15 -23M184 469l-14 -25M184 443l-14 -35M216 452l-18 5M223 439l-4 -20M193 475l24 -30M207 460l23 -31M229 464l-15 -20M209 462l-16 -33M253 443l-8 -29M246 475l-25 -32M241 443l-10 -24M255 472l-13 -15M248 451l-11 -25M223 430l16 29M276 434l21 8M253 452l22 -27M286 453l-20 -27M277 446l-10 -27M305 472l-11 -21M306 452l10 -20M286 457l20 -29M297 476l-13 -31M822 436l9 -18M861 422l-17 28M837 428l14 14M892 447l6 -20M202 523l-26 -30M175 491l7 -25M186 493l-16 8M189 477l12 -18M185 498l9 -19M180 505l-7 -27M183 497l-13 0M206 507l-21 -33M224 499l-9 -29M226 502l-15 -34M209 497l-18 -29M200 520l11 -22M220 504l-11 -22M214 484l10 -25M258 495l-13 -16M258 497l-19 -24M246 479l-16 -19M259 484l-7 -19M224 524l20 -36M246 490l-17 -37M250 522l-11 -34M244 518l-11 -19M246 527l14 -38M264 516l-18 -23M268 505l-16 -38M257 507l17 -20M270 512l-20 -28M252 476l31 7M261 521l12 -33M249 505l22 -26M828 515l8 -17M825 513l-5 -18M853 499l10 -36M848 489l15 -20M858 514l16 -29M849 493l8 -30M881 497l12 -20M891 512l-15 -31M176 555l20 -35M170 538l9 -13M178 533l-8 -11M170 547l19 1M170 520l8 -23M203 530l11 -37M222 551l-26 -29M233 557l-15 -26M213 549l24 -28M204 532l27 -32M207 537l12 -19"/>
<path stroke="#1898c0" d="M763 227l-20 13M496 373l-14 -20M489 407l23 -33M453 549l-21 -26"/>
<path stroke="#1898c0" stroke-width="4.6" d="M437 164l-14 35M221 316l23 -34M874 354l-14 -27M893 365l5 -17M343 447l-17 -25M298 493l12 -22M831 548l24 -33"/>
<path stroke="#1898c0" stroke-width="6" d="M535 155l-19 -22M534 182l18 -32M542 143l-6 -26M487 166l-19 17M601 204l21 7M391 248l-6 -17M494 237l9 -24M537 262l12 -23M369 295l20 -29M550 283l-35 5M392 333l-6 -24M630 332l-17 -20M188 359l-18 -21M249 376l20 -24M333 370l-6 -23M804 379l-8 -34M180 411l-10 -22M196 410l16 -32M250 410l-8 -19M309 413l-15 -22M799 406l-12 -21M854 422l7 -23M214 464l-9 -35M244 435l13 -20M249 477l20 -26M324 435l-18 -22M170 485l13 -25M239 486l-19 -21M867 485l-6 -20M196 525l-17 -20M195 564l10 -19"/>
<path stroke="#00f0f0" d="M434 186l-22 -67M706 164l36 -48M859 165l-29 -49M394 207l10 -44M793 204l16 -44M851 247l20 -30M803 309l-9 -24M844 310l17 -33M541 380l11 -41M614 367l-36 26M551 431l-12 -28M641 387l-31 40M539 475l34 -54M416 485l-21 -28M356 564l27 -51"/>
<path stroke="#00f0f0" stroke-width="4.6" d="M603 145l11 -15M640 175l-14 -29M644 191l-19 -30M344 256l25 -32M769 294l12 -36M762 300l-8 -30M170 332l7 -18M261 344l-8 -21M231 322l15 -19M756 321l12 -30M810 322l-8 -35M845 340l-15 -26M858 316l-6 -21M877 323l12 18M416 382l11 -21M574 364l-10 -29M603 370l-18 -33M418 400l-21 -35M706 411l-11 -33M351 445l-15 -25M384 415l-9 31M380 465l8 -37M297 508l16 -26M791 482l13 -16M242 556l-12 -14M288 549l-14 -23M831 510l16 11M868 549l8 -28"/>
<path stroke="#00f0f0" stroke-width="6" d="M456 162l-8 -21M495 172l-20 -30M476 145l-5 -19M500 182l13 -21M568 155l-9 -39M583 179l-10 -23M501 217l-9 -28M467 199l11 -36M498 220l17 -23M542 223l-7 -30M541 191l6 -28M576 187l-12 -16M623 210l-10 -22M379 250l18 -21M403 251l-8 -22M431 264l-15 -33M418 227l15 -24M476 246l12 -15M489 254l-16 -38M528 237l-23 -27M497 200l21 29M533 239l12 -38M532 234l11 -32M559 232l20 -32M608 199l-24 33M611 267l-10 -25M660 255l-19 -24M642 231l17 -23M656 239l21 -23M393 308l-13 -35M498 272l6 -24M500 303l-19 -35M514 309l8 -33M515 301l-17 -30M598 288l-12 -37M583 298l7 -27M576 300l-13 -23M612 279l17 -35M610 301l-9 -35M658 286l-9 -24M257 322l19 -22M291 332l15 -20M303 355l24 -31M319 326l-12 -33M316 312l9 -26M319 338l14 -19M365 325l13 -34M407 348l-9 -27M419 286l25 28M430 345l-8 -22M440 342l-16 -27M471 333l-11 -35M444 336l7 -25M566 337l-11 -33M572 316l17 -33M555 348l19 -37M607 340l-10 -33M658 322l-17 -30M669 331l12 -33M203 394l-18 -29M170 355l15 -24M207 384l5 -17M192 362l11 -39M220 364l25 27M237 372l5 -22M243 361l-20 -24M285 363l-11 -35M271 386l-14 -23M267 354l12 -15M284 376l17 -32M340 396l18 -37M351 336l-40 10M361 369l-9 -38M360 383l14 -38M399 387l12 -21M640 376l5 -19M636 373l23 -28M651 370l11 -31M686 362l12 -24M737 373l-11 -16M754 389l-4 -20M805 390l-17 -21M800 396l12 -40M843 362l-22 -35M805 370l11 -28M803 393l9 -31M826 363l24 -31M175 419l-5 -14M217 418l-9 -25M199 396l18 -24M208 416l-9 -31M212 420l-8 -39M248 432l19 -23M241 412l15 -25M251 399l16 -23M272 401l9 -27M279 413l7 -19M252 406l14 -32M298 410l9 -17M340 428l8 -18M741 415l-17 -19M768 416l15 -31M802 413l9 -22M798 428l11 -17M840 431l-15 -28M850 426l10 -24M882 415l14 -16M180 450l-10 -16M186 474l11 -27M188 458l-15 -18M181 464l8 -16M178 467l-8 -11M183 443l15 -30M195 440l14 -22M215 443l-23 8M201 458l17 -23M260 473l-13 -15M222 451l16 -21M235 465l17 -31M271 459l-5 -22M262 474l5 -20M310 470l17 -23M304 452l-12 -28M786 470l24 -29M787 468l12 -32M792 461l20 -27M827 452l-20 -32M862 457l-11 -31M898 463l-13 -16M189 504l-19 -32M179 515l19 -30M215 490l14 -30M223 513l-7 -34M810 507l14 -29M851 481l-9 -25M830 494l21 -32M898 507l-8 -24M179 520l-9 -17M180 541l-9 -27"/>
<path stroke="#10c030" d="M747 223l25 -41M807 204l12 62M625 438l25 -32M734 447l-22 -43M399 530l26 -33"/>
<path stroke="#10c030" stroke-width="4.6" d="M615 168l10 -20M621 153l15 -34M656 187l-17 -35M647 190l-8 -35M657 208l-25 -32M662 187l21 -26M676 221l18 -33M731 262l-12 -16M335 283l-4 -19M332 313l12 -35M247 338l11 -21M804 317l-15 -20M788 330l-20 -32M828 338l11 -18M848 312l6 -22M863 323l-25 -32M408 357l23 -30M429 367l11 -18M884 376l-12 -38M396 426l13 -35M397 432l-14 -24M691 408l17 -28M691 420l11 -35M768 479l17 -37M773 480l-24 -34M809 513l-12 -20M786 512l-19 -25M771 489l13 -31"/>
<path stroke="#10c030" stroke-width="6" d="M446 141l12 -17M471 154l17 -32M530 136l8 -20M563 165l11 -32M577 182l-12 -31M601 148l-13 -32M458 190l-24 -28M526 179l-3 36M587 203l-13 -33M583 201l-12 -22M617 198l9 31M443 241l22 -32M470 262l-11 -15M583 206l-11 18M583 220l-13 37M587 266l-13 -32M656 241l-9 -18M652 240l-10 -40M633 253l7 -18M672 253l18 -36M668 245l14 -38M397 298l7 -27M384 282l18 -25M396 281l14 -27M388 276l9 -33M450 283l-20 22M414 279l8 -24M549 292l-13 -26M630 308l15 -32M642 295l12 -22M647 277l-16 -22M671 280l9 -32M687 293l-12 -39M706 279l-23 13M755 273l-23 -32M331 316l-15 -23M322 349l15 -19M392 344l13 -19M419 347l-17 -22M400 312l-11 -21M640 312l-20 -25M660 318l-12 -20M689 317l-12 -35M670 332l-8 -22M681 351l26 -31M720 339l14 -16M307 392l-8 -26M299 384l-15 -26M309 369l13 -33M345 352l-13 -23M325 395l17 -27M402 387l-15 -26M405 377l-12 -24M391 365l20 -36M653 374l-20 -32M644 349l37 8M663 393l14 -36M698 396l-20 -32M707 371l10 -17M718 371l13 -35M735 364l-23 -29M773 359l-20 -35M764 385l16 -20M803 388l13 -15M822 365l12 -18M843 388l7 -19M210 420l18 -30M284 423l19 -31M353 406l-18 -28M338 406l21 -33M349 414l21 -30M738 421l-11 -19M741 407l15 -17M780 400l-9 -21M766 407l19 -22M784 431l22 -29M779 422l23 -26M811 405l5 -25M818 405l-4 -18M859 411l-12 -34M870 422l-18 -28M852 405l18 -23M886 404l13 -33M181 475l-11 -33M790 463l-24 -31M786 474l20 -33M842 444l-23 -28M800 468l17 -25M806 453l13 -18M858 458l17 -23M849 444l16 -35M876 450l-12 -16M874 444l8 -19M184 491l-14 -19M189 509l23 -29M822 510l-12 -34M840 512l-9 -23M892 522l7 -24"/>
<path stroke="#40e010" d="M682 153l17 -37M742 207l-21 -41M699 445l-14 -35"/>
<path stroke="#40e010" stroke-width="4.6" d="M642 140l18 -23M671 213l17 -34M679 209l30 9M796 343l14 -39M840 327l-24 13M433 350l4 33M396 421l-8 -34M718 402l-23 -32"/>
<path stroke="#40e010" stroke-width="6" d="M463 172l8 -26M602 137l-16 -21M587 142l6 -25M448 192l17 -25M445 220l11 -20M460 230l-18 -28M589 242l10 -31M657 238l19 -28M714 237l-20 -23M416 247l-5 23M416 273l8 -24M622 298l18 -24M625 276l14 -16M687 298l-8 -20M697 290l7 -19M736 300l6 -21M392 319l10 -18M629 346l14 -28M643 319l13 -17M698 341l26 -30M683 323l12 -35M731 317l-22 12M656 395l-7 -25M642 367l-18 15M668 376l-17 -24M731 356l15 -23M713 372l25 -30M767 397l-8 -35M764 392l23 -33M801 390l-18 -22M795 361l22 -32M825 362l-18 -35M337 436l8 -23M336 403l15 -20M741 426l-10 -36M752 402l18 -21M788 410l20 -25M822 390l10 39M835 409l-21 17M866 425l-13 -35M898 402l-15 -20M775 473l23 -27M831 438l10 -27M871 447l-9 -27M886 452l-24 -33M820 495l-11 -38M888 493l10 -12"/>
<path stroke="#c8f000" d="M664 181l15 -24M737 228l11 -32"/>
<path stroke="#c8f000" stroke-width="4.6" d="M635 219l12 -14M716 195l-2 19M750 249l-23 -33M738 228l-13 -25M843 327l-17 -36M674 421l16 -34M652 401l11 -22M683 401l8 -37M387 456l19 -25"/>
<path stroke="#c8f000" stroke-width="6" d="M469 168l-15 -36M451 142l12 -21M437 205l11 -15M436 187l12 -22M458 238l-7 -22M469 245l-18 -22M583 257l-14 -39M668 266l13 -21M703 252l-18 -29M705 210l-20 10M444 292l13 -20M471 301l-13 -21M666 289l9 -28M674 296l19 -24M697 290l-11 -32M739 286l-10 -24M385 316l-10 -16M642 325l-15 -28M633 302l31 2M656 337l-20 -34M694 329l12 -23M709 354l-14 -29M726 337l-10 -29M330 369l17 -27M672 372l22 -29M669 368l-19 -36M708 368l15 -24M716 393l-20 -29M711 369l25 -32M745 365l-14 -30M752 388l12 -30M316 382l18 25M726 399l12 33M717 416l10 -38M853 407l12 -40M898 455l-8 -14M887 489l12 -18"/>
<path stroke="#e8e800" stroke-width="4.6" d="M695 220l-11 -24M746 434l12 -16"/>
<path stroke="#e8e800" stroke-width="6" d="M441 145l1 26M461 187l-12 -27M454 218l-0 27M658 233l12 -19M699 262l-7 -22M440 286l9 -38M443 302l27 -31M641 303l19 -23M688 281l10 -29M696 304l-10 -33M642 338l13 -21M693 334l-18 -21M708 343l-19 -29M749 346l-23 -34M669 366l-11 -18M742 362l-6 -24M744 425l-14 -16"/>
<path stroke="#f06010" stroke-width="4.6" d="M734 241l10 -23"/>
<path stroke="#f06010" stroke-width="6" d="M455 232l-23 -30M722 245l-14 -34M452 303l-16 -28M693 314l-28 -31M723 274l-18 -34M709 332l-13 -33M737 321l14 -18"/>
<path stroke="#e82010" stroke-width="6" d="M695 265l-5 -24M704 271l21 -29M708 337l18 -26"/>
<path stroke="#0000ff" d="M857 180l24 -32M393 193l-9 -28M799 228l9 -40M868 210l-38 -45M188 227l-18 4M753 256l23 -40M790 225l18 30M881 257l18 -34M207 287l17 -47M295 300l17 -33M322 289l-19 -36M782 312l13 -29M791 317l17 -45M826 293l-14 -33M879 311l6 -26M511 393l-19 -37M510 380l9 -23M528 375l16 -24M611 359l-11 37M419 398l15 -31M473 399l-16 -19M481 413l16 -30M563 417l-23 -42M646 403l13 -24M456 484l21 -51M540 455l-21 -50M350 499l-23 -35M423 494l-23 -44M449 456l27 35M754 529l15 -43M308 543l29 -34M402 546l-10 -41M822 563l19 -21M808 561l17 -25"/>
<path stroke="#0000ff" stroke-width="4.6" d="M623 150l-8 -33M626 144l-24 19M605 161l7 -31M443 206l-20 -35M443 222l-10 -18M429 200l23 -29M442 186l-15 -27M646 217l10 -21M384 245l-9 -26M382 242l-20 -23M707 236l20 -29M748 268l14 -17M747 286l8 -34M170 334l10 -16M170 301l3 -4M188 309l-11 23M170 323l4 -14M208 322l-15 -39M226 316l-16 -21M211 320l-14 -19M256 325l-12 -17M257 338l-14 -31M220 338l18 -21M486 338l23 -33M484 310l-15 -21M467 339l17 -37M503 339l-16 -20M523 345l10 -16M522 342l13 -37M525 324l-12 -37M517 342l-8 -36M754 329l20 -33M772 338l-17 -24M770 318l-15 -23M779 340l-7 -29M818 342l17 -28M859 341l-10 -17M871 324l20 -37M898 345l-13 -14M450 357l-31 18M440 371l-17 -21M462 372l8 -23M445 343l30 9M581 360l15 -30M602 352l-26 11M874 376l24 -27M378 438l14 -33M698 417l18 -21M343 469l13 -23M336 453l-18 -38M325 452l-10 -17M362 446l24 -34M374 449l-17 -20M303 515l-21 -30M315 506l-13 -40M305 487l12 -22M315 508l-9 -18M772 513l9 -38M220 537l20 -28M253 541l-5 19M222 552l14 -31M246 556l-12 -27M236 528l-13 -31M294 555l-11 -27M276 560l14 -26M842 533l-4 -18M833 525l24 -27M872 544l15 -29M891 550l-13 -16M898 529l-9 -23M871 530l15 -26"/>
<path stroke="#0000ff" stroke-width="6" d="M478 174l-10 -34M482 142l5 -17M503 181l-11 -32M485 159l13 -38M478 151l20 -26M532 140l-11 -24M497 177l17 -25M501 133l11 -17M525 149l13 -17M505 156l7 -18M526 167l12 -25M564 145l-12 -26M524 117l22 21M558 172l-6 -19M551 143l-20 -26M587 172l9 -18M508 208l-13 -34M479 219l-9 -25M489 202l-23 -28M467 181l13 -18M519 216l11 -40M526 204l-14 -17M530 188l-14 -29M520 196l9 -27M503 205l16 -32M548 213l12 -16M539 215l14 -29M531 204l13 -17M595 161l-27 22M595 202l-16 -28M592 218l13 -35M608 214l11 -26M611 166l-29 22M616 217l15 -31M627 190l-26 15M394 268l-13 -28M397 248l-11 -22M415 239l15 -25M425 240l-17 -30M432 240l10 -38M421 260l8 -27M480 239l-5 -21M488 227l-11 -26M512 228l-20 -26M538 261l-20 -28M515 236l-10 -16M501 232l15 34M508 260l13 -14M545 261l-10 -32M533 240l15 -32M547 220l-10 19M594 239l-12 -26M556 254l39 3M595 224l7 -18M629 249l-18 -37M608 255l-17 -24M616 241l-4 -18M638 243l-8 -26M648 254l18 -21M359 285l17 -21M376 292l-19 -29M356 275l-10 -35M348 306l14 -26M354 302l24 -31M411 289l-5 -20M416 280l12 -33M422 247l9 29M485 301l14 -24M495 293l-8 -20M490 310l-18 -28M482 311l15 -38M513 291l-6 -27M516 289l-22 -32M514 304l13 -26M521 276l-9 -22M506 283l21 -28M566 298l-9 -17M563 284l-11 -23M558 292l-26 6M563 275l-31 6M558 295l16 -36M597 307l-14 -21M596 298l-19 -25M632 252l-22 28M612 312l22 -29M593 294l19 -30M604 281l6 -17M644 264l-20 10M691 296l18 -23M738 286l-12 -23M278 354l-19 -34M257 314l7 -24M281 323l-8 -32M293 324l-8 -34M284 329l8 -31M303 325l12 -27M314 332l5 -18M297 345l9 -27M347 331l-16 -29M355 330l-14 -16M353 324l10 -16M367 340l17 -31M373 314l5 -20M370 328l18 -29M348 331l24 -29M383 319l9 -39M447 318l-23 -30M412 314l10 -26M423 338l-22 -27M446 348l10 -23M451 330l-13 -29M454 311l4 -20M457 315l11 -27M540 322l14 -25M551 328l-15 -18M536 311l13 -21M539 322l9 -21M541 295l16 27M575 317l-15 -37M559 325l11 -20M575 344l8 -21M591 319l-13 -22M617 322l10 31M611 335l-16 -38M626 305l-21 6M600 314l-12 -14M660 335l15 -23M698 346l-11 -40M181 354l-11 13M193 387l-8 -19M174 372l17 -21M190 382l-20 -24M171 380l19 -28M185 382l-15 -19M170 372l19 12M192 380l14 -34M190 358l15 -21M225 369l-16 -21M219 381l16 -23M191 375l16 -27M207 369l-10 -24M196 388l14 -22M233 352l-15 -20M215 368l16 -28M255 362l-14 -26M231 356l19 -29M244 357l9 -24M284 365l-13 -24M273 387l-21 -29M301 387l8 -28M309 394l6 -26M344 356l9 -17M345 387l7 -24M374 388l10 -34M363 355l17 5M366 366l-8 -23M389 393l14 -22M626 395l19 -32M666 376l12 -17M681 386l16 -29M754 375l-23 -31M772 389l-14 -27M776 359l12 -21M792 379l8 -33M822 370l14 -35M869 367l-23 -28M865 389l-8 -22M843 341l4 30M182 398l14 -24M203 397l-17 -26M184 430l16 -23M177 434l-7 -11M185 398l-10 -19M187 420l-14 -29M186 395l-12 -17M194 425l-20 -32M233 417l-19 -26M222 442l10 -40M208 435l7 -30M203 396l9 -20M207 425l9 -29M213 420l17 -27M233 402l-8 -20M239 412l19 -36M268 434l-7 -22M267 435l16 -30M267 378l-12 29M296 427l-16 -35M275 395l-5 -20M281 429l11 -21M322 415l-13 -36M318 424l-17 -33M283 416l25 -30M286 426l9 -16M342 420l5 -22M380 413l-15 -29M368 403l8 -30M347 432l16 -30M382 400l-28 2M388 417l-25 -29M764 402l-9 -21M799 435l5 -24M803 401l-13 -16M834 405l10 -27M870 438l11 -36M865 424l23 -28M175 477l-5 -14M184 468l10 -17M200 475l-11 -24M190 459l-9 -35M217 475l-11 -27M206 441l-9 -15M220 457l12 -14M233 457l-21 -32M197 457l9 -39M216 448l15 -22M231 437l-10 -22M243 446l-23 15M259 441l-6 -22M233 454l16 -22M236 463l-12 -35M257 463l-21 -29M258 467l-14 -38M268 442l17 -21M264 472l-10 -17M275 471l-9 -29M298 467l-20 -31M281 447l16 35M292 455l19 -27M322 453l-11 -26M804 434l-13 -16M828 456l-21 -33M849 458l-17 -19M882 442l-18 -35M898 445l-31 10M180 485l12 -34M172 519l11 -24M170 492l13 -18M182 496l17 -35M190 502l-16 -27M170 480l7 -10M183 505l-13 -22M230 504l-13 -33M201 489l9 -28M221 524l-16 -36M213 482l16 -22M200 505l9 -23M225 506l-6 -22M212 510l-9 -37M252 518l-8 -29M223 494l21 -35M248 519l-14 -23M266 493l-22 25M239 520l-7 -31M228 498l19 -34M251 505l-7 -21M247 477l11 -14M254 484l-16 31M246 511l9 -21M269 514l15 -25M272 508l19 -22M258 516l13 -33M280 522l10 -30M279 523l20 -32M270 510l18 -22M843 508l-16 -38M823 517l-12 -37M845 514l21 -24M860 498l11 -31M856 496l13 -16M898 478l-12 -17M880 496l11 -24M176 534l-6 -26M188 558l-17 -28M182 523l16 -22M200 540l-11 -24M191 529l11 -15M200 558l22 -27M230 564l-17 -20M216 501l4 18M190 526l23 -32M207 564l8 -28M220 540l5 -19"/>
<path stroke="#1898c0" d="M768 277l13 -50M410 427l14 -39M647 427l-22 -25M468 531l60 4"/>
<path stroke="#1898c0" stroke-width="4.6" d="M421 198l9 -33M789 298l-13 30M829 334l24 -31M374 411l15 -21M379 412l-1 30M269 561l-13 -27M884 561l11 -40"/>
<path stroke="#1898c0" stroke-width="6" d="M514 149l8 -17M560 169l6 -18M531 150l19 -21M551 216l17 -25M618 198l6 -19M405 274l-18 -36M481 254l-12 -19M554 267l10 -33M367 286l13 -20M553 296l-22 -24M448 323l-24 -30M186 359l6 -21M250 377l17 -22M282 356l11 27M382 365l-13 -35M811 377l-18 -28M187 442l11 -39M244 415l-21 -29M271 426l10 -16M329 432l-10 -33M821 395l16 -22M180 478l18 -24M219 475l-17 -21M232 463l24 -30M263 459l9 -26M815 437l-19 -22M230 516l-14 -21M826 487l9 -33M898 500l-11 -19M209 515l-8 37"/>
<path stroke="#00f0f0" d="M653 147l24 31M789 158l21 -24M380 178l-7 66M783 230l-14 -47M770 235l-16 -26M860 243l10 -34M828 279l17 -28M879 281l9 -39M522 360l25 -31M582 389l33 -41M602 412l-24 -44M404 449l30 25M740 458l10 -22M402 504l11 -28M424 564l-14 -36"/>
<path stroke="#00f0f0" stroke-width="4.6" d="M601 128l-13 21M624 138l8 -22M672 226l-10 -36M354 233l20 19M746 295l10 -18M770 293l13 -26M218 342l-9 -38M231 313l-2 27M474 317l7 -19M757 348l-8 -19M772 315l9 -20M823 308l13 -15M853 332l20 -26M883 318l15 2M440 363l11 -27M589 360l-18 -24M868 358l20 -31M384 436l20 -24M706 417l14 -28M327 440l23 -30M395 456l-15 -19M765 464l24 -29M324 488l-26 -29M800 505l10 -38M262 527l-11 -34M288 519l-17 31M842 534l8 -18M882 564l-16 -29"/>
<path stroke="#00f0f0" stroke-width="6" d="M456 142l23 -25M474 135l8 -19M482 147l12 -23M521 142l9 -18M551 134l7 -17M574 140l5 -19M504 226l-16 -37M488 181l10 -16M568 227l-10 -34M536 199l7 -18M551 179l28 17M585 206l-23 -27M382 264l13 -33M398 230l18 -20M391 258l6 -23M411 242l15 -38M427 233l15 28M497 229l8 -27M480 230l6 -25M509 230l24 -28M515 268l12 -28M545 252l6 -25M555 248l8 -23M583 235l8 -20M603 258l11 -40M611 240l11 -22M654 270l-23 -28M635 260l-19 -24M374 309l-19 -24M432 278l-14 -20M483 294l-11 -19M502 284l-21 -35M504 281l7 -28M554 271l-14 -18M584 298l11 -15M577 288l-9 -33M580 299l26 -32M604 284l-9 -38M634 285l9 -22M264 324l12 -16M307 341l6 -22M305 346l-15 -24M287 343l19 -32M292 324l25 -33M328 318l-15 -18M387 339l-17 -30M385 295l3 21M433 337l-17 -29M426 320l7 -22M427 311l-11 -25M443 342l-12 -25M452 328l19 -23M538 325l7 -26M564 340l-13 -29M556 319l18 -20M595 330l-20 -28M620 340l-18 -38M653 326l20 -31M665 332l16 -28M187 354l8 -24M177 393l-7 -13M218 389l18 -29M210 368l-14 -36M222 397l21 -35M245 390l-17 -35M262 382l-13 -23M269 366l-13 -24M281 356l10 -24M321 374l-18 -28M304 356l-8 -20M350 374l-18 -36M391 376l-22 -35M356 391l10 -31M357 364l-14 -40M375 398l18 -34M629 358l11 -32M636 346l8 31M690 397l17 -30M727 362l6 -28M740 392l10 -29M782 364l-25 -28M815 394l-18 -28M778 363l16 -32M816 365l11 -26M808 373l12 -20M856 357l9 -25M871 376l-19 -36M185 416l-5 -18M214 420l7 -19M222 411l13 -35M214 417l-14 -32M196 431l15 -28M251 397l-10 -15M240 412l21 15M278 402l-17 -21M271 427l-24 -28M287 416l-29 12M266 431l6 -26M313 437l-25 -30M384 421l-14 -20M714 421l7 -17M768 429l-18 -33M792 415l-17 -20M824 402l20 -28M861 399l-5 -23M883 415l12 -27M889 400l-9 -18M189 447l-7 34M202 474l-18 -29M185 455l-6 -20M205 476l-18 -23M190 479l-16 -32M220 454l-20 -25M203 461l14 -17M209 448l9 -40M224 460l7 -23M249 455l-22 -29M236 450l-6 -19M245 435l-12 26M273 469l-14 -16M306 467l-15 -35M290 464l12 -15M792 470l-8 -31M804 477l-10 -24M779 440l8 -26M820 467l14 -17M850 474l16 -26M898 444l-11 14M880 470l8 -19M199 482l-26 8M222 503l8 -29M211 490l-19 -33M273 518l13 -20M848 497l18 16M869 484l-8 -32M884 471l-26 1M181 506l-11 6M170 559l12 -21M193 529l12 -29"/>
<path stroke="#10c030" d="M851 234l-35 -60M854 242l7 -26M640 404l22 -39M395 528l-19 -46M515 552l17 -34"/>
<path stroke="#10c030" stroke-width="4.6" d="M627 179l18 -30M625 140l9 -18M630 188l-7 -25M637 214l19 -26M648 199l8 -33M661 214l-7 -26M721 238l23 -34M338 300l18 -29M340 289l-14 -33M335 281l-20 -26M527 310l-12 -17M799 315l-7 -30M821 336l-13 -21M825 329l-9 -26M853 353l8 -31M446 373l-9 -21M443 360l-17 -28M896 389l-9 -18M412 421l-11 -24M411 425l-19 -32M654 417l21 -32M698 402l-7 -27M391 482l16 -34M760 475l-10 -19M740 454l19 -36M807 467l-33 9M810 494l-17 -20"/>
<path stroke="#10c030" stroke-width="6" d="M470 173l-16 -24M554 126l-29 10M560 159l-28 9M599 140l-14 -24M578 166l-7 -19M587 175l-15 -34M455 203l-14 -22M566 204l-11 -31M564 213l17 -32M579 194l17 12M377 241l7 -33M461 262l8 -21M500 259l-9 -23M586 236l-6 -18M581 267l17 -23M591 245l-21 -35M617 249l19 -34M644 245l-11 -22M642 260l-13 -25M664 241l-6 -22M683 253l19 -27M401 302l-11 -32M403 251l-15 11M383 263l25 3M396 276l6 -18M427 308l-8 -22M431 282l13 -19M568 273l27 -31M636 281l16 -20M645 308l-16 -39M646 272l16 -27M662 295l-14 -25M694 312l13 -27M710 295l-24 -34M728 251l-6 22M335 322l13 -38M318 351l17 -28M404 333l7 -32M398 348l9 -17M431 314l-9 -19M649 337l-7 -27M628 310l12 -14M660 317l11 -15M682 347l-9 -28M684 318l6 -24M264 388l20 -31M294 383l5 -19M288 382l19 -21M295 353l-7 -18M343 353l-14 -24M382 355l15 -25M375 360l16 -21M410 381l-13 -19M649 375l-11 -17M644 352l15 23M659 356l21 25M682 373l5 -18M723 362l-23 -25M705 371l-11 -18M719 361l-6 -20M721 356l-3 36M770 392l-23 -30M779 384l-9 -31M826 356l11 -22M843 387l6 -20M850 377l17 -30M198 425l13 -33M293 412l12 -16M348 403l-10 -28M363 394l-12 18M730 410l13 -27M732 410l-11 -25M754 427l9 -16M770 433l11 -19M799 426l-17 -23M794 424l-13 -25M823 407l16 -32M808 399l10 29M800 419l14 -32M831 437l15 -24M861 398l-8 -17M869 396l6 -24M898 407l-9 -19M254 464l-6 -20M806 468l-11 -36M836 441l-30 23M843 455l-13 -38M801 465l14 -35M860 449l-5 -22M845 469l16 -35M844 463l13 -26M894 443l-19 -32M898 461l-4 -8M173 493l-3 -9M206 475l23 1M827 500l-17 -37M867 477l28 10M890 495l-16 -31"/>
<path stroke="#40e010" d="M774 136l-53 19M784 179l-21 26M725 474l-13 -23"/>
<path stroke="#40e010" stroke-width="4.6" d="M635 196l6 -25M712 193l-11 -25M738 242l12 -21M793 319l7 -33M846 332l12 -15M898 348l-7 -8M407 432l-16 -33M723 396l-21 -25"/>
<path stroke="#40e010" stroke-width="6" d="M481 131l-30 4M562 159l17 -37M466 181l-12 -17M436 214l19 -28M600 201l-22 -34M469 264l-6 -19M631 210l27 10M684 252l-9 -29M683 242l8 -31M419 289l-7 -32M462 269l-11 -16M640 270l13 -21M668 273l5 -23M677 300l-9 -30M729 296l15 -37M730 299l7 -25M404 318l14 -27M634 325l12 -22M688 331l-29 0M696 332l15 -29M734 328l-21 19M398 372l17 -30M657 399l-15 -37M646 356l-13 -23M669 378l-13 -33M712 370l10 -16M736 379l-9 -32M756 374l13 -18M757 377l-7 -32M801 378l-9 -16M809 391l-14 -21M823 358l16 -31M354 394l-15 -22M751 426l-15 -24M763 408l11 -33M779 406l-14 -36M784 432l7 -24M805 409l16 -31M850 430l16 -18M871 427l15 -28M780 458l-5 -25M811 455l19 -33M825 476l-8 -18M877 441l-32 25M820 511l8 -35M808 501l16 -35"/>
<path stroke="#c8f000" d="M760 189l-14 -60M751 478l-22 -30"/>
<path stroke="#c8f000" stroke-width="4.6" d="M664 192l11 -22M684 210l5 -20M721 249l22 13M783 347l-10 -15M419 391l13 -30M649 425l13 -38M650 434l16 -31M695 427l-19 -33M752 459l15 -28"/>
<path stroke="#c8f000" stroke-width="6" d="M440 172l11 -26M446 177l21 -32M451 206l9 -28M476 185l-21 -23M477 236l-13 -15M465 251l8 -33M665 243l9 -16M659 266l15 -23M707 227l-36 5M401 298l12 -39M456 261l-28 5M462 290l-12 -22M659 281l13 -35M690 274l15 24M695 308l-12 -21M726 306l10 -24M411 294l-16 22M643 315l-7 -22M655 333l-18 -38M671 322l15 15M703 319l9 -22M719 334l-14 -36M738 354l-14 -32M341 377l4 -19M653 394l16 -25M681 375l-22 -26M692 363l9 -22M725 371l12 -38M733 362l-12 -25M744 357l-13 -24M857 395l14 -38M325 425l12 -29M737 404l-24 -31M740 432l22 -30M898 419l-11 -14M812 493l6 -17M897 501l-11 -20"/>
<path stroke="#e8e800" stroke-width="4.6" d="M705 399l-11 -32M760 461l8 -30"/>
<path stroke="#e8e800" stroke-width="6" d="M472 176l-19 -21M450 191l8 -26M447 258l14 -30M699 213l-20 25M455 308l22 -34M462 304l-10 -40M450 287l-12 -28M639 305l15 -22M708 291l-20 -33M732 247l-5 26M668 332l-15 -34M708 331l9 -35M726 337l-8 -34M735 345l13 -35M713 359l-8 -18M724 373l-12 -21"/>
<path stroke="#f06010" stroke-width="6" d="M698 231l11 -32M697 256l-10 -30M463 276l-37 6M658 269l32 21M723 282l-11 -21M727 325l15 -31"/>
<path stroke="#e82010" stroke-width="6" d="M677 263l16 -30M728 272l-7 -28M730 347l-14 -19"/>
<path stroke="#000" stroke-width="8.6" stroke-linecap="round" d="M431.5 198.5V228.7M480.2 177.3V242.2M416.9 285.1V289.5M416.9 303.4V307.8M465.0 317.2V338.0M513.7 298.5V302.9M513.7 343.0V348.6M526.2 461.0V465.4M673.4 278.8V305.3M721.6 317.7V322.1M670.7 370.2V382.8M622.8 398.9V408.0M656.3 415.7V429.1M606.4 474.5V478.9M670.7 459.8V495.6M653.3 504.5V508.9M670.7 506.3V510.7M670.7 539.0V543.4M702.4 466.1V470.5M702.4 487.1V491.5M702.4 510.0V522.5M717.6 457.7V462.1M717.6 479.7V499.8M717.6 516.8V536.0M717.6 548.6V553.0M750.2 466.1V470.5M749.0 492.3V522.5M767.3 406.1V450.1M767.3 469.6V478.8M766.3 542.0V555.4M798.0 392.0V396.4M797.1 459.8V495.6M814.5 506.5V510.9M843.1 471.3V483.0M863.2 379.5V435.0M891.0 424.0V428.4M890.1 477.2V492.2"/>
</g>
<g fill="none" stroke-width="3.8" stroke-linecap="round">
<path stroke="#0000ff" d="M1027 121l-49 1M1055 179l15 -63M1329 146l-11 -30M1441 162l-19 -39M988 194l-10 -13M1005 215l17 -23M1061 190l9 -24M1034 197l11 -38M1088 221l13 -21M1099 234l23 -44M1156 210l17 -35M1201 222l13 -33M1315 208l21 -28M1353 209l-11 -41M1373 192l13 -27M1366 209l30 -44M984 248l-6 -16M995 234l25 -36M1080 272l19 -38M1065 240l26 -36M1125 253l-28 -31M1180 246l-19 -25M1334 240l-6 -28M1380 238l-23 -41M1365 238l-19 -24M983 284l17 -26M991 275l-13 -24M1024 261l-28 19M1074 299l16 -28M1218 292l-22 -56M1504 288l14 -19M1533 293l27 -63M1613 277l18 -32M1116 361l20 -54M1546 315l-55 15M1522 365l27 -60M1064 376l25 -39M1123 397l-10 -34M1128 391l24 -37M1201 369l19 -35M1232 371l15 -38M1405 390l25 -33M1464 374l-12 -50M1558 390l-18 -26M1570 391l21 -33M1666 356l14 -21M1143 407l-28 2M1436 372l2 27M1550 436l-21 -56M1612 429l9 -34M1637 436l28 -49M987 481l9 -34M1408 445l-14 -38M1586 478l16 -55M1675 457l25 -31M978 475l5 -16M1011 499l12 -52M1369 521l-10 -36M1576 505l-25 -34M1612 522l-14 -49M1685 504l-10 -45M1066 564l-19 -40M1069 563l10 -30M1133 535l-29 -40M1259 532l14 -36M1285 564l26 -35M1370 557l-16 -38M1418 526l-8 -34M1564 535l30 -46M1609 559l36 -51"/>
<path stroke="#0000ff" stroke-width="4.6" d="M1524 149l27 9M1552 179l-20 -27M1543 171l16 -20M1531 147l11 -30M1548 169l24 -31M1428 200l5 -20M1400 214l15 -26M1464 209l-9 -18M1451 188l4 27M1462 190l8 -30M1468 218l10 -37M1556 195l21 -32M1397 264l-10 -36M1421 206l2 33M1417 270l-20 -31M1562 264l-17 -31M1537 270l8 -36M1542 259l-14 -32M1550 238l-13 -16M1595 237l12 -30M1585 229l13 -22M1611 232l20 -36M1313 290l15 -24M1378 301l-6 -17M1392 301l-14 -21M1396 284l-23 -33M1430 265l-28 21M1416 297l-9 -24M1413 289l-7 -26M1660 276l-2 36M978 304l29 21M997 340l-19 -33M978 320l6 -11M1005 339l10 -23M1039 327l-15 -23M1391 340l9 -16M1410 316l-18 -32M1391 349l14 -30M1392 347l16 -19M1435 326l-22 -25M1414 323l13 -37M1428 298l-16 32M1457 349l-20 -22M1442 341l-7 -31M1459 350l-11 -36M1444 330l21 -24M1046 363l15 -19M1033 379l8 -17M1404 374l-11 -35M1377 372l7 -29M1403 383l-6 -29M986 401l-8 -13M978 420l7 -8M1047 408l-33 14M1036 425l-14 -29M1072 410l-14 -36M1057 364l6 37M1091 414l-8 -38M1078 403l9 -20M1355 408l-9 -22M1356 413l-15 21M1015 453l12 -32M1056 448l-9 -17M1051 465l-10 -18M1050 484l9 -40M1096 441l-21 -33M1082 442l-12 -24M1081 458l-8 -19M1077 458l10 -39M1129 449l-18 -38M1127 449l-17 -30M1125 478l-7 -25M1132 456l-8 -25M1232 437l-7 -23M1331 429l13 28M1309 469l11 -18M1315 466l-8 -17M1307 478l17 -37M1049 512l18 -22M1062 492l-9 -28M1097 505l-14 -34M1087 485l8 -29M1130 526l-18 -38M1116 482l-8 -18M1115 497l10 -18M1123 479l-14 -23M1174 497l12 -15M1217 487l-25 -30M1202 502l-10 -17M1211 490l17 -37M1227 496l-7 -17M1338 497l-18 -29M1312 519l27 -31M1161 560l-18 -33M1141 546l15 -24"/>
<path stroke="#0000ff" stroke-width="6" d="M1494 181l21 -25M1505 174l11 -19M1518 161l-16 -37M1527 187l-7 -25M1514 207l8 -30M1489 175l33 16M1525 221l14 -21M1527 225l8 -36M1537 191l-12 -25M1536 203l33 4M1551 185l-14 -18M1537 196l23 -32M1511 263l7 -20M1525 258l-9 -24M1517 237l8 -29M1522 251l-17 -25M1351 278l9 -34M1363 307l15 -23M1350 274l20 -35M1337 267l18 15M1352 279l20 -36M1296 340l11 -24M1316 321l-14 -16M1278 333l12 -16M1312 333l-10 -25M1280 327l13 -24M1333 339l13 -34M1334 292l5 19M1340 323l-11 -15M1300 333l29 10M1369 319l-11 -22M1346 337l-8 -20M1368 312l-12 -22M1358 337l-10 -22M1009 376l-13 -16M1002 381l-17 -22M978 348l9 -16M996 362l9 -16M987 367l-8 -19M987 389l20 -28M1038 379l-24 -33M1041 364l-22 -26M1025 367l9 -24M1002 371l10 -21M999 381l19 -28M1320 385l10 -34M1330 353l-5 21M1311 365l12 -23M1325 357l-20 -27M1360 393l13 -26M1348 367l15 -29M1368 361l-6 -28M1362 362l17 -21M1320 403l-11 -21M1334 439l12 -38M1339 412l-7 -20M1320 433l11 -36M1333 423l-7 -24"/>
<path stroke="#1898c0" d="M1118 138l56 21M1359 194l-6 -29M1062 295l-25 -32M1587 279l-15 -23M1205 412l-14 -27M1266 536l19 -24"/>
<path stroke="#1898c0" stroke-width="4.6" d="M1527 176l10 -32M1403 254l12 -31M1306 308l16 -20M1413 319l-34 2M981 395l22 2M1037 426l12 -16M1338 418l7 -32M1208 451l-9 -25M1151 546l-13 -34"/>
<path stroke="#1898c0" stroke-width="6" d="M1541 212l-13 -17M1374 291l-11 -31M1353 319l-9 -29M1350 363l-24 -29"/>
<path stroke="#00f0f0" d="M1055 154l-43 20M1211 180l-27 -64M1039 207l-7 -32M1182 226l24 -29M1029 278l12 -46M1063 266l-26 -44M1223 236l-22 -38M1338 257l29 -34M1511 298l-12 -44M1640 278l10 -28M1118 376l-21 -29M1405 390l22 -33M1145 427l-23 -28M1412 429l-20 -34M1369 465l-25 -29M985 488l25 -35M1347 520l20 -42M1031 545l10 -38M1120 562l-33 -39M1468 520l-24 20"/>
<path stroke="#00f0f0" stroke-width="4.6" d="M1533 143l9 -25M1463 222l-17 -31M1424 251l-11 -26M1416 264l10 -27M1448 235l-21 -27M1539 232l7 -25M1604 238l-7 -27M1323 285l-10 -18M1367 293l15 -27M1430 300l-11 -24M1439 308l-8 -35M978 306l5 -8M1036 312l-6 -27M1427 327l-31 12M1036 380l10 -26M1385 376l14 -34M1384 389l15 -32M1042 418l-5 -19M1056 416l-17 -21M1081 429l21 -34M1233 441l-25 -34M1354 410l12 -15M1015 453l-8 -23M1058 450l-11 -16M1064 438l3 36M1095 481l7 -32M1148 458l-23 -34M1177 455l-24 -29M1243 446l-15 18M1319 461l-8 -18M1065 514l-9 -23M1221 518l-22 -26M1238 490l-18 -31M1317 485l-7 -17M1132 557l15 -17M1208 544l-17 -23"/>
<path stroke="#00f0f0" stroke-width="6" d="M1299 303l-19 7M1316 354l-9 -36M1334 332l11 -22M1356 328l13 -37M1031 375l-10 -33M1325 377l-13 -28M1337 373l-8 -21M1374 385l-8 -22M1336 419l8 -32"/>
<path stroke="#10c030" d="M1426 153l19 -37M1124 200l12 -39M1699 266l-16 -38M1606 299l-22 -27M1706 315l-9 -31M1687 392l-9 -34M1100 423l20 -46M1365 403l15 -37M1476 418l-31 -42M1393 471l-24 -47M1021 501l14 -30M1164 513l-27 -44M1403 511l-27 -39M1478 494l33 -41M1277 537l-20 -23"/>
<path stroke="#10c030" stroke-width="4.6" d="M1533 166l-12 -20M1423 191l25 -33M1487 206l-15 -21M1579 192l7 -17M1613 196l25 -33M1399 255l-19 -26M1367 250l10 -25M1420 267l14 -31M1436 230l5 -20M1444 259l-19 -22M1577 255l13 -21M1627 266l-14 -36M1657 248l-18 -28M1428 299l16 -25M1465 284l-14 -23M1361 418l-10 -19M1144 429l-12 32M1168 413l5 29M1211 451l-9 -41M1222 447l17 -32M1179 513l-14 -17M1274 509l-21 -27M1263 504l-25 -28M1165 531l-21 -32M1160 547l22 13M1217 564l-14 -18"/>
<path stroke="#10c030" stroke-width="6" d="M1484 141l13 -25M1507 216l7 -32M1456 301l24 -28M1312 329l7 -18M1313 375l-16 -28M1336 364l18 -35M1314 412l-19 -33"/>
<path stroke="#40e010" d="M1189 175l40 -47M1690 221l-10 -33M1601 305l-20 -47M1698 282l-43 4M1284 319l-25 -29M1671 328l-10 -40M1685 357l21 -34M1117 413l-14 -23M1379 412l52 8M1706 395l-11 -16M1442 511l29 -33M1216 525l20 28M1527 564l21 -37"/>
<path stroke="#40e010" stroke-width="4.6" d="M1651 163l-13 -17M1637 196l-18 -37M1458 235l-16 -21M1568 239l-23 -28M1569 267l22 -36M1644 248l16 -28M1659 277l9 -28M1181 463l-9 -27M1187 442l9 -31M1184 478l-10 -23"/>
<path stroke="#40e010" stroke-width="6" d="M1309 477l-9 -24"/>
<path stroke="#c8f000" d="M1286 154l-16 -38M1447 158l-22 -42M1275 227l41 21M1690 306l-14 -23M1616 334l9 -27M1157 428l-28 -38M1448 429l16 -19M1449 482l-10 -42M1526 473l-30 -36M1461 514l19 -30M1236 558l-10 -32"/>
<path stroke="#c8f000" stroke-width="4.6" d="M1558 134l9 -17M1577 171l10 -40M1593 164l-9 -37M1640 162l-11 -27M1613 201l17 -38M1686 218l-20 -28M1568 260l-21 -30M1688 267l-24 -31M1443 294l15 -29M1652 298l13 -27M1138 416l8 19M1127 449l22 -27M1149 445l10 -16M1162 444l12 -21M1205 445l-26 15M1241 478l-19 -35M1237 474l-12 -25M1174 505l19 -29M1273 500l13 -25M1171 546l-11 -16M1215 511l-1 26"/>
<path stroke="#c8f000" stroke-width="6" d="M1503 222l-27 12M1479 230l8 -25M1287 374l17 -19M1261 433l7 -23M1276 478l-14 -32M1300 460l-17 -32M1279 448l24 -27"/>
<path stroke="#e8e800" d="M1230 125l28 31M1697 273l-16 -42M1600 341l11 -34M1652 344l-11 -38M1680 382l19 -25M1478 485l-22 -41M1497 484l4 37"/>
<path stroke="#e8e800" stroke-width="4.6" d="M1593 159l-21 -34M1584 174l5 -19M1591 138l19 -22M1475 216l20 -32M1590 210l9 -37M1601 193l-9 -15M1630 211l14 -18M1604 265l24 -33M1455 298l-14 -19M1255 388l-38 8M1226 420l34 15M1304 490l-10 -24M1186 561l-20 -30"/>
<path stroke="#e8e800" stroke-width="6" d="M1512 137l12 -20M1469 246l-7 -22M1471 305l21 -29M1268 364l-11 -25M1258 396l-9 -32M1262 419l-12 -30M1271 375l-2 27M1310 419l-16 -20M1314 426l-10 -17M1262 463l12 -20M1301 464l-14 -20"/>
<path stroke="#f06010" d="M1200 152l28 -35M1698 187l8 -15M1255 263l-11 -31M1588 346l21 -39M1670 375l23 -38M1558 549l-18 -27"/>
<path stroke="#f06010" stroke-width="4.6" d="M1566 166l8 -17M1587 152l13 -25M1458 190l24 2M1568 164l-15 29M1604 224l-11 -37M1622 214l-4 -19M1576 247l11 -26M1629 250l-13 -38M1661 273l-12 -24M1255 502l-8 -25M1280 489l22 -25"/>
<path stroke="#f06010" stroke-width="6" d="M1508 175l14 -32M1503 152l-17 -25M1490 201l13 -19M1487 239l-24 -33M1512 272l13 -36M1489 285l-19 -24M1497 286l-10 -30M1243 397l15 -33M1253 360l12 -18M1288 365l20 -35M1301 373l-7 -32M1298 361l16 -34M1250 407l6 -18M1274 425l9 -25M1307 419l-7 -32M1275 463l-15 -24M1275 479l-13 -26M1269 447l24 -33"/>
<path stroke="#e82010" d="M1464 190l27 -39M1492 151l-13 -34M1696 191l-24 -27M1679 305l14 -20M1483 327l18 -20M1438 464l-29 -36M1452 510l19 -39"/>
<path stroke="#e82010" stroke-width="4.6" d="M1551 172l11 -27M1578 151l17 -20M1628 143l11 -20M1584 225l-17 -36M1589 207l9 -30M1612 187l-20 -24M1681 208l-15 -34M1679 238l-13 -18M1652 278l10 -41M1302 497l10 -15M1293 504l-5 -23M1159 545l17 -32M1162 535l11 -29"/>
<path stroke="#e82010" stroke-width="6" d="M1528 165l-17 -27M1505 162l6 -20M1481 229l-12 -21M1471 261l21 -24M1494 242l-12 -27M1493 262l12 -30M1459 283l16 -28M1494 285l-26 -32M1271 379l13 -34M1248 335l23 29M1313 373l-10 -25M1264 434l-16 -34M1288 396l12 -21M1296 400l10 -17M1263 479l-13 -33M1245 445l14 -17M1309 472l-12 -23"/>
<path stroke="#c02818" d="M1470 142l-13 -26"/>
<path stroke="#c02818" stroke-width="4.6" d="M1484 226l-24 -34M1313 495l-17 -24"/>
<path stroke="#c02818" stroke-width="6" d="M1518 178l-11 -35M1494 166l16 16M1295 367l6 -23M1248 438l21 -33"/>
<path stroke="#0000ff" d="M978 178l16 -29M1063 156l-16 -40M1352 174l24 -49M1459 144l-11 -24M992 208l-9 -34M1038 194l-16 -40M1058 218l17 -45M1067 211l14 -25M1076 232l-16 -44M1124 194l22 -25M1172 224l-16 -33M1205 203l16 -25M1381 199l-26 -37M1375 212l7 -27M1403 225l-10 -26M1015 235l-26 -35M992 267l-9 -24M1050 236l17 -40M1097 264l-21 -46M1071 251l12 -27M1093 270l15 -33M1255 267l-23 -31M1302 238l22 -45M1361 236l-14 -27M979 278l15 -20M978 288l13 -24M995 303l26 -40M1034 286l15 -30M1091 312l34 -47M1288 274l9 28M1525 296l-15 -27M1546 288l-39 -57M1036 342l18 -58M1128 356l13 -42M1507 336l-19 -34M1570 330l29 -55M1087 387l8 -33M1120 359l-17 -22M1143 378l15 -19M1205 373l-29 -44M1246 365l-11 -27M1471 393l-20 -33M1446 365l18 16M1547 395l14 -66M1649 378l-33 -60M1681 376l15 -27M1204 403l-23 -30M1458 422l43 -51M1570 419l20 -25M1606 392l48 22M1706 425l-14 -25M1000 470l-5 -23M1460 456l-24 -27M1635 477l-15 -33M989 512l11 -21M1019 480l-8 -26M1147 478l-6 -23M1366 491l14 -25M1591 494l-15 -35M1639 466l-15 29M993 527l-12 -36M1089 558l13 -26M1095 564l10 -33M1244 515l33 26M1265 553l-6 -29M1314 541l13 -52M1342 564l22 -53M1504 557l-23 -32M1589 564l-25 -30"/>
<path stroke="#0000ff" stroke-width="4.6" d="M1529 143l20 -27M1525 170l13 -20M1566 132l-25 17M1529 177l8 -29M1565 147l2 40M1426 219l7 -18M1406 187l25 -29M1441 200l-12 -22M1452 184l-13 -20M1466 176l6 35M1550 215l13 -32M1590 229l-16 -32M1380 206l3 34M1418 260l23 -29M1423 250l-17 -36M1523 239l5 -18M1546 251l-9 -31M1534 234l11 -27M1541 244l19 -25M1589 229l18 -27M1597 239l-13 -15M1639 267l-15 -24M1337 309l-7 -29M1391 277l7 -30M1378 306l-8 -26M1396 305l9 -16M1416 303l-15 -34M1420 291l-22 -27M1418 292l17 -37M1003 335l-15 -30M978 342l14 -28M1009 332l-6 -21M1010 310l-11 -18M1022 309l-12 -20M1025 313l-7 -25M1390 330l8 -29M1391 352l10 -40M1371 347l10 -27M1391 349l-20 -36M1417 327l-17 -31M1416 323l-17 -22M1429 309l8 -16M1447 330l11 -30M1450 347l-11 -16M1443 354l15 -31M1051 343l6 20M1055 363l-8 -17M1066 395l-17 -35M1370 389l11 -27M1365 359l23 5M1005 391l-8 24M978 418l10 -12M986 408l-8 -16M1021 420l-11 -19M1017 420l-13 -22M1044 440l14 -34M1049 419l17 -31M1096 412l-12 -34M1235 403l5 -19M1356 415l-13 -15M1019 470l-24 -33M1015 468l-10 -25M1054 459l17 -22M1068 467l-22 -35M1036 437l6 -22M1085 455l-6 -17M1080 452l-19 -26M1085 458l-18 -29M1070 413l20 33M1111 471l17 -29M1104 465l17 -22M1108 420l22 23M1144 422l11 25M1227 429l14 22M1334 470l-16 -19M1314 456l24 10M1324 434l7 -17M1046 503l13 -38M1055 516l10 -34M1050 494l-20 -30M1072 500l12 -22M1072 511l11 -39M1103 499l11 -17M1119 451l4 41M1134 493l-19 -35M1111 495l-17 -23M1176 498l-7 -20M1220 506l-12 -26M1198 511l24 -33M1217 522l22 -33M1231 497l19 -23M1308 480l7 -23M1333 497l-10 -31M1151 522l-13 -22M1193 532l5 -21"/>
<path stroke="#0000ff" stroke-width="6" d="M1489 165l21 -33M1502 163l13 -20M1527 168l-13 -19M1501 213l20 -31M1487 221l20 -32M1522 210l-7 -28M1550 188l-25 13M1546 188l-5 35M1525 195l17 -34M1531 206l-11 -28M1522 219l20 -29M1558 189l-10 -32M1511 251l10 -23M1521 270l-18 -29M1520 244l-12 -31M1362 317l9 -40M1364 305l13 -19M1354 269l-18 -24M1339 279l20 -32M1363 304l-14 -28M1372 288l-24 -31M1289 327l19 -30M1314 346l-13 -26M1274 326l41 8M1291 307l-12 -14M1290 322l-10 -32M1316 349l14 -33M1333 314l-6 -20M1332 317l11 -23M1333 310l-8 -23M1358 310l18 -23M1376 324l-13 -27M1357 343l-19 -22M1347 327l11 -15M978 379l18 -27M982 363l-4 -7M1004 392l-21 -26M996 374l13 -39M978 364l16 -22M980 388l22 -29M1004 377l17 -29M1031 385l8 -24M1031 382l-9 -34M1029 390l-16 -17M1012 375l13 -22M1321 377l15 -28M1342 362l-12 -28M1332 369l16 -26M1313 364l14 -30M1367 380l-19 -23M1349 376l20 -28M1355 358l-15 26M1354 385l-18 -29M1322 408l14 -35M1313 405l23 23M1308 421l15 -24M1348 387l-32 24M1349 425l-22 -31"/>
<path stroke="#1898c0" d="M1093 197l14 -21M996 250l-10 -23M1298 308l23 -37M1104 374l-17 -19M1210 413l-10 -35M1445 554l14 -33"/>
<path stroke="#1898c0" stroke-width="4.6" d="M1563 178l-20 -32M1449 224l-5 -18M1392 281l-7 -19M1375 339l10 -31M983 441l-5 -25M1044 403l17 -30M1077 459l-17 -22M1110 477l-13 -16M1160 564l-7 -25"/>
<path stroke="#1898c0" stroke-width="6" d="M1525 200l13 -29M1308 344l11 -19M1359 324l-26 -32M1351 406l-22 -32"/>
<path stroke="#00f0f0" d="M1177 126l-46 17M1443 174l-25 -58M1130 222l-33 -39M1294 221l19 -36M1003 246l14 -40M1111 232l-11 -20M1219 255l26 -30M1304 274l-17 -19M1560 304l10 -27M1193 287l9 45M1192 367l-22 -26M1664 363l18 -31M1168 397l-16 -19M1348 482l22 -46M1366 475l12 -32M1019 470l-27 2M1440 503l-35 -60M1080 557l-20 -48M1251 550l16 -35"/>
<path stroke="#00f0f0" stroke-width="4.6" d="M1423 192l15 -22M1466 183l-16 -18M1395 215l30 4M1414 211l30 12M1460 262l-10 -18M1534 260l-9 -33M1608 257l-12 -25M1375 269l13 -21M1399 272l-6 -22M1435 281l-12 -23M978 321l16 -22M993 328l-13 -33M1024 326l-11 -26M1458 309l-10 -18M1388 362l8 -18M1388 376l20 -28M1009 411l12 -19M1053 395l-20 7M1041 410l-9 -22M1057 386l22 9M1352 420l9 -32M1342 393l5 -19M1031 459l-6 -24M1067 450l-22 -26M1083 455l-7 -33M1123 477l-25 -32M1169 440l15 13M1173 468l-23 -27M1238 435l-38 0M1306 475l16 -30M1090 499l-9 -17M1206 486l12 -32M1241 486l5 -22M1304 516l17 -25M1152 564l9 -34"/>
<path stroke="#00f0f0" stroke-width="6" d="M1303 323l14 -33M1327 336l18 -23M1344 322l16 -27M1364 338l-21 -35M1019 371l7 -23M1343 365l-12 -36M1340 344l34 19M1356 355l8 -22M1318 421l7 -21"/>
<path stroke="#10c030" d="M1688 202l18 -31M1694 256l9 -31M1118 295l31 -50M1623 304l15 -32M1693 357l13 -33M1120 415l-12 -34M1152 410l-15 -37M1387 432l-13 -43M1447 436l-13 -44M1459 441l16 -21M1136 505l31 -35M1133 499l6 -23M1368 503l22 -38M1230 554l-12 -47M1384 564l12 -41"/>
<path stroke="#10c030" stroke-width="4.6" d="M1658 137l-26 23M1484 191l8 -16M1493 205l-11 -29M1546 225l17 -32M1642 185l20 -25M1387 261l17 -26M1400 254l-21 -27M1431 235l11 -28M1461 260l-9 -32M1557 263l17 -27M1623 254l18 -23M1629 248l12 -25M1327 291l10 -15M1431 309l22 -27M1644 271l10 -31M1013 453l22 -31M1174 450l9 -40M1200 459l-8 -26M1217 435l-6 -22M1247 463l-7 -17M1160 514l10 -15M1263 502l19 -28M1273 518l12 -35M1184 536l-11 -34M1199 528l15 -31M1202 564l6 -21"/>
<path stroke="#10c030" stroke-width="6" d="M1503 149l-18 -25M1473 251l18 -35M1470 267l-9 -22M1351 342l-15 -33M1304 362l16 -29M1256 411l11 -14M1283 445l6 -23"/>
<path stroke="#40e010" d="M1459 159l-31 -42M1275 260l22 -48M1600 293l-22 -30M1695 296l12 -21M1625 346l7 -26M1675 313l12 -30M1408 387l-8 -27M1196 415l-17 -23M1404 407l12 -33M1705 447l-19 -46M1485 488l-27 14M1225 520l13 -23"/>
<path stroke="#40e010" stroke-width="4.6" d="M1609 149l15 -33M1665 209l12 -32M1451 249l-20 -30M1582 231l-12 -31M1625 256l-10 -30M1462 283l-14 -29M1144 458l-9 -26M1219 478l-8 -28M1207 472l-8 -27M1276 484l-8 -22"/>
<path stroke="#40e010" stroke-width="6" d="M1288 450l19 -26"/>
<path stroke="#c8f000" d="M1300 116l-25 31M1694 213l-9 -23M1310 249l-10 -32M1251 341l34 -40M1470 381l32 -57M1360 419l23 -28M1692 402l-23 7M1449 450l-26 -46M1539 444l-8 -33M1538 500l-20 -27"/>
<path stroke="#c8f000" stroke-width="4.6" d="M1574 178l-12 -32M1571 162l-14 -17M1590 162l19 -32M1636 211l-4 -19M1654 193l-9 -22M1588 255l-19 -31M1647 237l-14 -33M1454 285l-7 -33M1435 277l11 -21M1235 426l24 -29M1156 435l-14 -19M1161 475l-7 -21M1161 416l5 42M1190 448l-16 -22M1211 455l-5 -20M1211 443l19 -28M1173 518l10 -39M1253 526l9 -39M1304 500l9 -29M1155 521l12 -19M1223 562l-11 -28"/>
<path stroke="#c8f000" stroke-width="6" d="M1494 264l-9 -20M1487 295l12 -32M1263 380l-15 26M1294 411l19 -33M1268 465l-8 -33M1309 446l-23 -29M1293 442l10 -21"/>
<path stroke="#e8e800" d="M1230 194l-12 -40M1218 301l24 -43M1633 317l-7 -33M1415 356l15 -21M1414 414l-34 -40M1472 488l18 -46M1475 530l27 -40"/>
<path stroke="#e8e800" stroke-width="4.6" d="M1584 133l4 -17M1605 127l-34 24M1644 157l-13 13M1464 204l17 -38M1606 185l-12 -23M1618 211l12 -20M1664 188l10 -16M1457 289l11 -32M1257 420l-17 -33M1163 454l-8 -37M1155 512l12 -29M1291 494l-15 -24M1168 524l16 -27"/>
<path stroke="#e8e800" stroke-width="6" d="M1500 206l-13 -18M1487 265l-21 -28M1484 282l-13 -22M1265 383l-12 -23M1268 391l-20 -28M1250 413l16 -23M1258 409l13 -33M1303 406l12 -35M1258 439l-16 -20M1268 472l10 -36M1301 458l-7 -17"/>
<path stroke="#f06010" d="M1501 145l-20 -29M1690 203l-9 -30M1590 303l15 -23M1624 308l-5 41M1416 460l8 -35"/>
<path stroke="#f06010" stroke-width="4.6" d="M1607 134l-13 -17M1599 139l17 -22M1492 207l-10 -29M1564 186l-7 28M1628 212l-17 -38M1660 212l14 -24M1568 226l13 -23M1659 243l-16 -30M1263 489l-17 -22M1277 499l-12 -15"/>
<path stroke="#f06010" stroke-width="6" d="M1519 148l-14 -32M1500 205l14 -39M1496 246l-6 -19M1469 249l20 -36M1519 247l-11 -29M1464 279l19 -26M1472 265l-5 38M1267 354l-11 -20M1301 384l13 -28M1297 395l-6 -29M1305 355l-10 -20M1289 390l-7 -22M1265 415l-17 -24M1298 410l-16 -34M1284 424l10 -39M1247 457l17 -29M1285 473l11 -26M1311 441l-4 23"/>
<path stroke="#e82010" d="M1483 152l-15 -36M1489 165l-16 -24M1275 265l-32 -39M1264 350l-31 -61M1586 336l27 7M1412 490l17 -48M1552 495l-28 -50"/>
<path stroke="#e82010" stroke-width="4.6" d="M1615 139l-13 -22M1589 150l18 -24M1499 195l-16 -32M1611 204l-17 -23M1614 195l-21 -36M1594 199l-6 -23M1550 266l14 -30M1663 254l12 -34M1268 476l12 -18M1277 497l9 -16M1157 548l16 -36M1173 524l-17 -23"/>
<path stroke="#e82010" stroke-width="6" d="M1510 149l10 -24M1505 202l9 -24M1476 227l-22 -26M1448 234l40 9M1488 267l12 -35M1462 305l20 -22M1467 269l-8 -23M1259 397l-11 -36M1240 359l25 -32M1301 394l-14 -30M1288 371l-16 -19M1273 396l-7 -19M1298 396l-30 23M1302 394l-5 -21M1266 477l-22 -31M1292 457l-24 -27"/>
<path stroke="#c02818" d="M1271 260l-15 -25"/>
<path stroke="#c02818" stroke-width="4.6" d="M1592 214l11 -23M1281 511l7 -17"/>
<path stroke="#c02818" stroke-width="6" d="M1502 141l16 -19M1491 248l7 -26M1261 419l21 9M1304 432l-17 -22"/>
<path stroke="#0000ff" d="M995 161l21 -45M1095 124l41 35M1413 173l-41 -46M1642 153l17 -37M1017 213l-24 -37M1006 216l16 -24M1069 165l-40 35M1081 212l-21 -29M1083 204l29 -33M1165 228l-8 -34M1178 224l15 -21M1245 205l-18 -26M1335 176l29 36M1386 192l9 -36M1387 205l16 -22M978 237l8 -13M1017 267l-7 -23M1032 246l17 -50M1080 257l-11 -20M1083 238l-16 -21M1094 241l21 -37M1317 252l10 -25M1336 273l-27 -34M1379 255l-17 -24M1008 314l-21 -33M979 291l15 -38M1033 310l-13 -35M1089 296l-38 -43M1193 306l-29 -54M1277 296l23 -36M1484 241l20 41M1573 307l-17 -38M1080 342l28 -59M1172 351l-26 -63M1527 368l27 -61M1706 331l-22 -26M1064 382l15 -46M1149 377l16 -44M1167 408l28 -55M1239 376l13 -30M1428 351l-8 36M1470 372l-17 -28M1476 392l23 -29M1595 402l-23 -54M1672 365l-27 -32M1109 404l29 -42M1208 409l-14 -19M1532 432l30 -64M1603 412l13 -47M1647 440l26 -50M995 481l11 -48M978 480l17 -36M1594 457l-23 -28M1669 472l-30 -38M995 513l7 -31M1006 522l15 -43M1330 511l23 -33M1409 479l34 6M1618 444l-34 62M1686 497l-24 -38M1049 564l18 -50M1073 553l22 -33M1134 549l-24 -46M1269 564l7 -23M1302 556l-9 -42M1298 546l27 -62M1392 539l-26 -48M1513 564l-20 -51M1576 547l24 -44"/>
<path stroke="#0000ff" stroke-width="4.6" d="M1538 178l-7 -18M1541 142l-14 -19M1532 169l16 -20M1538 155l12 -32M1632 165l-12 -23M1411 211l15 -25M1430 186l-12 -26M1444 199l13 -27M1436 190l16 27M1472 220l8 -34M1557 199l21 -26M1624 201l-8 -18M1418 227l4 18M1423 261l16 -19M1450 250l-18 -25M1555 271l-23 -35M1527 234l-6 -24M1531 216l1 19M1593 253l-7 -27M1603 259l13 -16M1600 239l-8 -35M1311 291l13 -32M1339 288l-8 -30M1389 305l6 -28M1398 304l-4 -18M1413 307l6 -23M1412 308l17 -30M1424 305l-8 -19M1663 267l17 -23M978 315l17 12M984 336l7 -17M1008 331l-18 -29M1032 337l-15 -34M1021 319l26 -30M1006 295l15 11M1385 328l-27 -31M1394 343l-14 -32M1394 329l-4 -17M1424 343l-16 -35M1413 335l-14 -24M1419 320l16 -34M1452 337l-12 -36M1447 340l-12 -14M1446 318l-21 -36M1447 344l15 -30M1042 349l22 18M1071 359l-15 -31M1058 358l-10 -16M1393 383l-9 -27M1373 361l13 -34M995 431l-9 -25M984 409l14 -25M1005 433l20 -23M1033 431l5 -18M1065 400l-15 -19M1062 423l-8 -17M1042 413l21 -24M1086 427l-27 -32M1225 417l8 -32M1375 433l-11 -34M1016 476l18 -27M1018 478l-9 -33M1053 408l-15 37M1034 460l21 -35M1056 465l10 -28M1080 456l-12 -34M1087 475l-23 -27M1092 446l8 -20M1120 467l-10 -22M1114 465l-12 -34M1132 460l-10 -18M1105 463l7 -21M1231 453l8 -30M1323 461l-9 -34M1347 441l-28 -31M1343 444l-13 -30M1332 454l-12 -31M1064 501l-9 -17M1067 491l-11 -34M1095 511l-21 -25M1084 493l-5 -21M1102 504l-13 -34M1109 482l-10 -32M1108 480l14 -26M1115 481l-15 -25M1103 509l12 -26M1214 486l-8 -29M1214 475l-27 15M1201 496l10 -23M1225 488l-11 -27M1214 497l27 -32M1345 485l-15 -33M1322 505l-9 -20M1136 559l8 -33M1210 522l11 -21"/>
<path stroke="#0000ff" stroke-width="6" d="M1519 143l-17 -26M1512 130l-5 -14M1524 178l-7 -17M1503 217l8 -22M1526 197l-10 -25M1511 230l20 -36M1556 230l-7 -32M1555 200l-12 -23M1513 201l25 -32M1555 231l-18 -38M1531 206l14 -26M1494 239l7 -20M1493 268l21 -25M1528 262l-15 -23M1516 237l9 -17M1370 295l-6 -18M1350 300l-10 -37M1339 310l18 -31M1357 293l-7 -24M1346 306l6 -19M1289 336l18 -30M1292 334l17 -27M1314 324l-13 -16M1277 336l16 -25M1288 329l-12 -35M1283 349l14 -26M1331 329l-16 -31M1328 336l-5 -24M1335 309l9 -22M1366 332l-9 -16M1349 335l19 -32M1332 336l19 -32M1350 355l-14 -31M978 381l21 6M993 380l-15 -19M995 357l-12 -17M982 374l-4 -19M989 370l-9 -19M985 378l-7 -11M1022 357l7 -17M1009 365l18 -24M1011 372l9 -20M1018 377l10 -16M1031 392l-11 -30M1330 369l-14 -29M1344 397l-19 -32M1305 349l12 -15M1337 365l-9 -36M1362 386l16 -18M1362 386l-11 -40M1355 364l-12 -17M1354 384l13 -28M1346 433l-19 -35M1316 421l-9 -26M1331 411l-9 -19M1337 433l-22 -26M1326 393l-16 -18M1336 432l-5 -18"/>
<path stroke="#1898c0" d="M1202 195l11 -25M1006 292l21 -32M1278 275l16 17M1661 371l24 -45M1359 503l24 -46"/>
<path stroke="#1898c0" stroke-width="4.6" d="M1414 194l8 -19M1347 294l-16 -27M1377 288l17 -34M1387 356l-17 10M1042 419l-18 -33M1085 400l16 -31M1122 435l-7 -18M1237 481l-9 -30"/>
<path stroke="#1898c0" stroke-width="6" d="M1359 277l-12 -33M1327 341l19 -37M1008 363l15 -38"/>
<path stroke="#00f0f0" d="M1199 194l-33 -54M1667 173l-19 -42M1121 201l21 -32M985 242l-7 -8M1055 241l-22 -31M1156 284l-19 -65M1349 255l20 -33M1313 300l-8 -38M1561 277l13 -25M1107 378l-9 -33M1250 356l-13 -27M1115 433l25 -29M1166 435l24 -30M1345 476l24 -28M1370 446l26 -37M1016 502l22 -27M1614 500l36 -47M1079 564l11 -44M1430 564l17 -50"/>
<path stroke="#00f0f0" stroke-width="4.6" d="M1429 183l10 -21M1382 262l-10 -22M1421 240l9 -22M1433 262l5 -21M1453 241l13 -22M1555 244l-16 -27M1345 295l-13 -34M1383 305l19 -35M1398 288l9 -40M1433 292l-19 -37M1004 344l-14 -24M1032 312l-9 -16M1393 339l-19 -32M1457 321l-8 38M1395 365l-20 -25M1374 371l16 -33M1022 416l-8 -30M1053 435l-16 -24M1086 442l-15 -36M1086 418l18 -29M1355 407l-7 -27M1012 479l7 -29M1059 471l10 -31M1072 425l-25 14M1077 453l-10 -19M1089 440l20 -26M1186 453l-20 -25M1218 481l-16 -31M1327 459l7 -29M1046 481l13 -26M1111 513l-9 -18M1228 495l-14 16M1315 488l22 2M1145 564l-17 -26M1216 553l-12 -34"/>
<path stroke="#00f0f0" stroke-width="6" d="M1336 350l-20 -35M1305 320l19 18M1352 319l-17 -19M989 368l-11 -18M1327 378l-9 -19M1315 390l14 -20M1350 363l-15 -27M1366 397l-20 -35"/>
<path stroke="#10c030" d="M1674 186l20 -34M1698 234l-17 -29M1278 283l-19 -26M1649 270l-37 23M1417 370l-30 -37M1092 414l13 -20M1169 412l-22 -33M1406 433l19 -39M1364 464l-23 -48M1494 470l28 -50M1161 487l-8 -22M1151 473l-42 3M1494 486l-20 -24M1254 564l-15 -27"/>
<path stroke="#10c030" stroke-width="4.6" d="M1420 230l10 -33M1473 231l-15 -37M1560 217l17 -22M1637 221l-12 -19M1653 191l4 -21M1400 224l-10 -19M1404 245l10 -23M1461 245l-10 -15M1466 227l-7 -19M1556 259l6 -23M1628 260l-13 -15M1638 246l-9 -21M1395 286l19 -29M1461 303l-10 -25M1243 362l-2 42M1150 472l14 -23M1162 441l6 -19M1215 451l-9 -20M1204 441l13 -19M1081 484l-18 -22M1152 504l14 -20M1254 494l19 -23M1153 545l8 -17M1186 529l-14 -23M1184 535l17 -20"/>
<path stroke="#10c030" stroke-width="6" d="M1502 165l-6 -30M1339 287l16 -35M1301 321l-9 -16M1287 333l-25 28M1358 360l-10 -28M1304 413l-9 -35"/>
<path stroke="#40e010" d="M1162 222l-14 -34M1300 249l-18 -29M1621 296l-15 -38M1687 269l-12 -25M1668 313l-11 -26M1700 333l-21 -25M1683 391l-8 -26M1372 398l16 -20M1488 429l22 -47M1402 504l-14 -28M1453 488l29 -37M1255 564l-17 -22"/>
<path stroke="#40e010" stroke-width="4.6" d="M1631 153l12 -18M1388 238l-11 -40M1573 261l-8 -36M1586 247l-10 -23M1659 237l-15 -17M1658 290l-7 -25M1140 461l24 -33M1211 448l14 -38M1249 457l-7 -27M1166 534l-11 -32"/>
<path stroke="#40e010" stroke-width="6" d="M1291 447l13 -35"/>
<path stroke="#c8f000" d="M1434 156l17 -33M1706 202l-17 -30M1284 286l-38 -54M1490 304l-23 10M1688 366l18 -31M1410 412l7 -23M1402 462l10 -23M1447 460l11 -27M1451 492l-12 -45M1257 522l-19 42"/>
<path stroke="#c8f000" stroke-width="4.6" d="M1571 135l-5 -18M1566 161l20 -25M1598 149l-9 -17M1626 194l18 -38M1657 214l-9 -39M1571 241l-9 -17M1678 249l-10 -33M1452 272l7 -21M1446 304l-6 -20M1233 427l14 -37M1160 447l-12 -20M1149 449l-12 -15M1188 455l-6 -19M1209 436l-27 6M1239 443l7 -19M1225 447l28 17M1192 501l-19 -24M1282 477l11 -19M1180 564l-10 -31M1200 544l-18 -33M1194 553l-10 -29"/>
<path stroke="#c8f000" stroke-width="6" d="M1487 229l6 -19M1482 294l-11 -32M1291 423l-24 -33M1281 464l-14 -36M1243 464l25 -33M1290 458l-12 -32"/>
<path stroke="#e8e800" d="M1674 232l17 -26M1595 319l12 -47M1664 322l11 -33M1481 399l33 -59M1534 445l-27 -54M1455 484l-23 -26"/>
<path stroke="#e8e800" stroke-width="4.6" d="M1601 167l-9 -37M1589 140l9 -16M1628 162l8 -29M1563 228l-12 -39M1593 207l16 -18M1612 205l15 -33M1619 268l11 -29M1449 296l19 -30M1221 416l10 -21M1181 440l-5 -24M1270 518l8 -35M1278 486l10 -16M1177 554l19 -21"/>
<path stroke="#e8e800" stroke-width="6" d="M1485 217l21 -36M1485 228l17 27M1259 390l6 -26M1250 344l36 8M1294 334l-1 40M1283 424l-16 -31M1291 424l11 -18M1276 408l20 -30M1253 422l-1 24M1302 467l-16 -27"/>
<path stroke="#f06010" d="M1248 232l31 -49M1263 267l11 -39M1696 310l-33 -42M1656 357l-19 -44M1515 564l-6 -29"/>
<path stroke="#f06010" stroke-width="4.6" d="M1576 156l24 -35M1638 169l15 -21M1564 223l-8 -20M1588 218l-18 -28M1620 224l21 -33M1681 199l-26 22M1623 254l12 -37M1647 245l20 -31M1263 522l12 -37M1277 510l14 -27"/>
<path stroke="#f06010" stroke-width="6" d="M1510 166l11 -32M1512 198l10 -20M1497 233l-33 2M1509 222l8 23M1459 275l16 -35M1459 269l12 -18M1275 384l5 -21M1259 341l21 6M1288 377l10 -26M1274 382l18 -35M1301 366l-10 -23M1254 430l16 -34M1282 411l-12 -34M1288 424l10 -23M1255 448l8 -23M1286 455l-16 10M1307 458l-14 -25"/>
<path stroke="#e82010" d="M1498 170l-25 -43M1266 196l-21 -42M1683 255l18 -33M1478 335l24 -28M1679 331l-13 -43M1462 482l28 -33"/>
<path stroke="#e82010" stroke-width="4.6" d="M1610 157l7 -19M1653 159l-23 13M1562 162l5 24M1605 183l13 -14M1599 191l19 -30M1630 191l16 -22M1624 273l-9 -34M1673 284l-25 5M1264 506l-16 -19M1295 516l19 -37M1186 535l4 -18M1179 530l9 -28"/>
<path stroke="#e82010" stroke-width="6" d="M1506 140l17 30M1517 224l12 -24M1490 241l-15 21M1487 233l-9 -23M1533 246l-19 -31M1476 278l9 -23M1476 290l13 -32M1249 380l4 -19M1242 365l22 -24M1289 361l15 -37M1293 356l-17 -21M1298 418l-17 -29M1296 411l-15 -30M1288 458l-19 -23M1249 472l22 -35M1292 452l-11 -31"/>
<path stroke="#c02818" d="M1497 330l-16 -21"/>
<path stroke="#c02818" stroke-width="4.6" d="M1586 219l10 -24"/>
<path stroke="#c02818" stroke-width="6" d="M1518 191l-8 -17M1485 284l-9 -33M1280 407l-18 -32M1248 459l10 -35"/>
<path stroke="#000" stroke-width="8.6" stroke-linecap="round" d="M1297.3 261.9V266.3M1297.3 313.0V337.7M1312.5 325.2V329.6M1299.1 364.9V394.2M1299.1 417.0V431.2M1312.5 425.5V436.3M1250.3 411.1V493.5M1214.7 464.7V500.7M1265.6 492.8V557.4M1313.4 475.9V513.7M1455.7 137.4V161.0M1407.9 151.2V155.6M1393.6 200.5V227.1M1344.8 235.0V243.3M1344.8 272.3V273.9M1456.6 238.7V263.5M1645.5 158.4V172.4M1627.3 184.2V239.4M1693.4 147.8V243.3M1694.3 278.0V316.0M1676.0 287.5V331.4M1410.9 361.2V393.5M1677.2 361.7V366.1"/>
</g>
<g fill="none" stroke-width="3.8" stroke-linecap="round">
<path stroke="#0000ff" d="M374 796l28 -50M434 811l-18 -36M780 805l-40 -55M683 817l7 -25M731 837l-11 -31M736 826l-7 -25M864 857l23 -57M336 888l-16 -42M769 848l-1 39M888 838l-36 43M170 902l22 -36M224 929l-14 -21M247 932l-22 -44M259 900l17 -25M263 916l24 -38M777 909l-19 -32M784 920l-19 -49M826 881l34 39M869 947l17 -24M869 981l14 -49M500 999l15 -25M527 1005l-27 -43M612 966l6 49M614 997l-15 -28M415 1042l15 -32M436 1035l16 -37M454 1036l-14 26M525 1065l-26 -52M549 1053l-22 -29M608 1048l22 -27M669 1061l26 -45M706 1044l-11 -25M709 1024l6 -25M405 1059l-39 5M382 1100l24 -31M431 1066l18 -26M505 1109l-39 -51M504 1109l34 -53M587 1101l-31 -43M726 1097l-11 -35M339 1128l-9 -29M327 1118l-12 -28M383 1124l22 -39M432 1129l-28 -34M458 1129l-24 -69M748 1108l22 -25M219 1132l21 26M244 1162l13 -38M293 1156l-12 -27M346 1187l-25 -36M424 1191l-32 -46M475 1156l-21 -31M689 1185l17 -67M809 1191l-16 -28M821 1187l-11 -25M795 1189l29 -41"/>
<path stroke="#0000ff" stroke-width="4.6" d="M616 759l8 -16M609 788l-12 -29M623 789l-15 -38M603 765l-13 -21M625 771l8 -27M658 761l-13 -16M648 810l-14 -34M396 845l23 -35M392 843l10 -30M385 846l-8 -37M612 812l12 -17M609 847l10 -16M609 847l-6 -25M661 854l-20 -30M631 833l-5 -21M649 809l-7 -17M659 813l26 33M366 879l17 -21M372 863l-11 -19M365 874l-26 -30M710 871l-19 -32M704 878l14 -30M725 871l11 -22M729 875l-14 -27M722 859l-7 -17M730 881l15 -19M754 888l-20 -24M315 903l-15 -18M303 895l-16 9M300 903l-16 -27M170 968l8 -13M197 955l-21 -27M222 971l10 -16M209 974l13 -34M226 951l13 -20M236 972l-11 -27M229 949l9 -27M238 978l24 -31M766 955l10 -37M759 946l10 -20M779 939l-6 -22M801 942l-7 -22M802 957l-19 -28M799 943l-26 2M777 975l11 -28M818 951l27 -32M829 955l11 -17M832 965l-13 -17M855 969l18 -31M865 978l-14 -29M851 945l-7 -27M856 955l-22 4M493 992l16 -21M489 1001l-21 13M477 1021l-10 -28M531 1003l14 -24M561 977l-8 -19M550 1015l7 -19M569 1013l19 -33M554 996l19 -24M572 987l-9 -31M566 1019l8 -29M881 1005l-14 -32M893 980l-35 1M887 1008l12 -15M734 1032l17 -23M708 1048l24 -27M747 1034l-6 -18M750 1048l-15 -27M898 1044l-16 -20M866 1041l16 -21M883 1044l-18 -32M358 1051l-16 24M297 1116l-22 -29M264 1134l11 -36M282 1120l11 -32M270 1109l13 -17M288 1113l20 -34M300 1109l20 -27M302 1114l-9 -35M302 1111l-15 -17M823 1113l-12 -37M827 1120l20 -26M177 1191l8 -24M215 1191l-21 -27M202 1181l16 -26M870 1175l-12 -15M851 1157l-5 -21M846 1191l-9 -20M880 1169l-25 22M872 1150l4 -18M882 1173l-21 -27"/>
<path stroke="#0000ff" stroke-width="6" d="M448 769l15 -17M446 765l-8 -21M472 770l-10 -26M460 780l-11 -34M438 767l28 17M446 765l6 -21M457 801l9 -35M489 772l-21 -28M468 789l11 -39M495 775l-8 -31M467 772l23 -27M479 803l8 -19M467 786l20 -25M527 800l-14 -19M531 767l-28 7M527 788l-17 -29M544 787l13 -18M557 786l11 -28M547 794l-11 -15M540 784l5 -22M545 778l8 -35M551 750l31 28M583 792l13 -37M581 769l21 15M571 790l-14 -16M581 775l10 -31M411 850l8 -19M429 835l9 -18M433 836l-12 -18M427 850l22 -32M447 817l-21 -26M434 824l-11 -26M409 839l12 -17M413 824l14 -17M415 843l14 -20M456 836l-28 3M454 839l23 -30M483 820l-24 -31M460 792l-28 26M456 816l10 -29M441 829l17 -31M472 844l-8 -33M465 839l9 -35M450 847l-13 -22M496 829l-10 -18M473 834l10 -19M503 824l-22 -35M483 831l10 -41M494 834l-20 -27M486 827l-11 -15M466 822l23 -31M485 826l-16 -37M467 828l24 -30M499 847l10 -19M523 820l17 -20M521 830l-9 -34M526 817l14 -25M502 828l23 -35M535 832l-11 -21M513 818l-12 -23M501 842l21 -27M532 837l8 -35M550 843l-21 -26M535 844l11 -30M585 821l-9 -17M599 842l-25 -30M582 825l17 -30M393 889l6 -28M396 857l8 -19M413 873l-5 -19M393 862l19 -23M388 865l14 -23M388 864l15 -25M404 860l-7 -23M399 858l10 -25M396 862l-11 -31M396 858l10 -29M429 879l12 -23M424 841l-17 22M428 854l13 -23M423 860l-24 -30M420 859l10 -22M423 838l-16 19M422 854l18 -23M434 875l10 -34M425 873l-11 -17M464 881l-10 -31M459 874l18 -28M463 869l-21 -25M468 867l-23 -28M453 870l19 -23M460 886l16 -22M453 890l23 -34M469 877l-12 -18M472 876l-12 -31M472 857l-7 -19M484 868l11 -38M475 865l15 -22M491 878l12 -27M468 864l27 -32M495 860l6 -25M494 891l-12 -30M506 884l-14 -16M487 881l-10 -36M466 894l21 -31M501 869l15 -38M503 889l6 -26M534 851l-7 -17M534 895l-19 -31M524 871l-15 -21M532 874l-13 -30M507 830l25 27M533 901l-13 -39M536 872l11 -16M575 889l-24 -32M548 890l-11 -16M549 877l-11 -22M540 864l14 -31M545 862l14 -25M557 886l7 -22M535 892l10 -39M549 887l-17 -23M573 862l16 -22M590 879l-10 -18M597 880l-10 -26M580 860l-8 -37M579 867l8 -21M579 886l8 -21M597 856l-21 6M564 869l10 26M610 857l15 11M610 872l-14 -29M613 854l-19 -22M639 888l-10 -24M626 861l6 -22M647 880l-13 -19M630 834l20 21M681 879l-17 -25M665 860l-12 -20M348 934l-14 -28M352 882l-5 23M324 930l12 -26M316 937l14 -25M340 911l-20 -30M335 926l-16 -36M370 927l15 -22M366 901l-14 -29M356 925l14 -23M354 924l11 -21M369 895l-8 -18M352 909l17 -21M376 915l-7 -26M345 917l20 -23M345 930l15 -23M392 924l-8 -33M389 931l-14 -23M385 932l15 -37M409 919l-24 -32M391 908l12 -39M386 899l11 -15M393 900l16 -24M406 936l-22 -25M375 896l28 10M410 924l12 -17M419 935l-13 -35M432 931l6 -24M422 933l14 -36M427 904l-12 -24M422 920l-14 -36M428 918l16 -20M430 930l5 -21M405 884l16 29M438 905l17 -21M476 920l-11 -33M440 910l13 -27M469 906l-27 -31M462 943l11 -39M466 922l-10 -36M462 902l-16 -31M472 921l-17 -28M447 904l24 -31M468 932l17 -25M508 898l-15 -25M508 898l-32 14M468 901l21 -35M476 894l4 -18M490 915l9 -40M506 907l-8 -16M494 910l9 -20M469 918l8 -25M503 918l-10 -39M541 909l-22 -27M536 940l-14 -37M514 903l15 -19M505 914l-5 -23M513 928l-10 -27M508 916l-6 -25M541 934l-20 -32M549 918l9 -27M545 901l17 -26M545 915l-16 -29M565 906l-24 -34M547 925l-13 -25M547 901l24 -27M551 910l-14 -20M556 902l11 -31M542 898l-8 -28M530 917l10 -19M589 920l-19 -37M571 920l23 -31M584 940l9 -30M600 918l-12 -22M587 899l8 -30M559 912l15 -29M583 923l-9 -18M615 909l-12 -21M600 924l-13 -23M615 921l12 -22M607 903l-12 -28M616 909l-11 -18M643 900l6 -17M620 919l17 -26M686 908l-22 -32M669 935l-10 -37M710 907l9 -33M708 905l-19 -32M713 923l11 -39M711 901l15 -17M721 910l11 -34M712 917l13 15M748 900l-34 21M726 928l19 -31M287 945l-8 -22M287 936l-12 -19M291 967l-18 -33M276 949l-6 -29M289 961l-5 -20M293 924l8 37M289 945l9 -24M312 971l-7 -27M307 971l17 -21M306 977l-14 -23M304 962l-20 -23M290 945l11 -20M303 978l-8 -23M289 927l9 19M304 947l-15 -18M332 943l15 -35M327 974l-15 -37M336 963l17 -27M311 952l23 27M338 953l-14 -30M313 956l14 -26M329 961l-18 -27M313 944l15 -37M353 953l-14 -39M334 956l14 -16M351 960l19 -28M357 966l10 -35M347 960l21 -26M391 953l-21 -26M351 946l22 -26M376 958l-17 -34M352 943l9 -18M371 971l9 -18M358 970l-9 -17M401 947l12 -16M399 964l-21 -24M381 968l12 -26M381 974l22 -25M380 939l34 2M405 962l-8 -33M392 949l15 -28M393 973l12 -35M384 956l8 -17M439 938l-16 -22M420 929l-3 24M424 979l20 -25M432 971l-16 -29M426 965l11 -17M403 968l19 -24M430 920l-14 13M442 939l-12 -17M414 947l9 -35M442 960l16 -33M485 919l-37 14M444 952l16 -25M450 955l-8 -17M462 974l-9 -36M451 967l-8 -36M452 968l12 -21M474 962l-14 -30M456 968l6 -19M483 939l-7 -22M489 948l15 -38M487 945l8 -20M473 971l15 -29M483 951l-15 -25M476 972l10 -27M506 970l-9 -26M483 953l18 -22M498 954l15 -28M510 949l-8 -29M537 937l-13 -17M538 961l-33 5M505 952l17 -27M535 959l14 -28M570 950l-16 -31M557 936l-14 -18M547 965l-13 -40M560 953l-28 12M557 967l11 -25M537 958l11 -25M530 978l10 -35M586 955l14 -24M596 953l-12 -24M596 948l-32 7M583 941l13 -24M595 944l-26 11M580 922l-28 22M596 973l-21 -34M581 966l-22 -35M593 971l9 -40M626 945l-14 -15M615 943l-20 11M616 974l10 -34M629 918l-5 18M648 969l-7 -19M639 949l-13 -33M647 959l5 -18M658 943l-12 -14M682 944l-7 -26M687 968l-21 -30M689 952l-19 -24M665 963l18 -32M667 976l10 -36M684 966l17 -26M690 941l6 -17M680 958l25 -31M711 953l-11 -15M703 949l21 -24M704 974l-15 -20M694 967l9 -23M731 954l-21 -28M727 950l-10 -36M727 940l-22 -26M753 978l-23 -27M719 963l10 -30M728 973l25 -31M198 1011l-18 -26M171 1014l14 -29M200 991l11 -32M203 1000l20 -22M215 1007l9 -34M216 990l17 -19M191 993l19 -27M194 996l9 -31M225 991l10 -28M241 1020l8 -27M234 976l14 -18M246 1018l13 -19M276 991l-7 -29M272 983l16 -28M258 985l12 -29M284 1021l7 -27M292 989l-13 -31M266 986l22 24M279 1024l-10 -34M272 1005l18 -29M281 993l16 -27M293 990l12 -15M307 1001l18 -37M304 1002l-16 9M305 1010l8 -31M326 1024l-15 -29M305 1008l-9 -18M314 992l-24 -31M302 986l8 -17M344 1028l-18 -38M353 964l-23 20M342 998l-18 -33M341 1010l-11 -16M325 982l-8 22M337 986l-6 -28M325 980l-5 -23M339 988l-13 -28M373 991l-18 -20M371 978l-4 -18M360 979l-13 -19M349 1000l10 -19M364 1009l-10 -23M367 992l13 -22M369 987l13 -18M361 1007l-13 -29M341 982l18 -26M363 984l-12 -21M380 1000l10 -27M379 957l22 35M389 1018l-12 -39M395 1005l-15 -34M419 1016l-21 -32M410 1011l-11 -16M377 1022l13 -40M374 998l18 -27M376 1023l14 -28M412 1011l9 -39M436 1022l11 -33M436 988l-18 -31M443 989l-13 -38M444 995l-13 -39M445 1002l-17 5M421 1007l13 -26M447 1016l-12 -16M413 982l13 -18M431 993l-21 -32M451 981l-11 39M444 987l16 -26M437 980l11 -18M439 997l8 -17M437 1020l10 -41M621 1003l32 1M634 993l13 -15M649 993l-12 -38M684 1003l-14 -32M653 1002l16 -25M672 1007l18 -21M676 1006l7 -27M714 1008l-16 -18M683 961l21 16M705 996l-19 -32M700 991l-11 -38M699 1013l11 -16M720 997l-9 -33M696 983l-12 -24M695 990l18 -27M717 1004l12 -20M717 982l9 -23M725 1020l7 -33M738 999l11 -26M740 1006l-27 3M736 983l-16 -22M716 983l5 23M714 1022l7 -29M746 1016l23 -26M765 991l-23 2M769 992l-20 16M787 999l-21 -31M771 984l-11 -25M778 995l-13 -25M767 1020l15 -36M799 1023l8 -29M812 998l-15 -22M800 1013l-17 -32M811 987l-7 -22M825 993l-10 -18M838 982l-8 -18M854 981l-11 -26M838 1002l6 -21M870 989l-10 -33M846 971l29 20M186 1062l12 -38M170 1019l3 -14M202 1055l-8 -17M211 1037l-8 -18M204 1047l9 -22M234 998l-15 24M228 1043l-22 -35M258 1052l-8 -22M250 1055l12 -32M230 1035l41 9M289 1035l-18 -28M279 1057l-26 -31M283 1035l-19 -32M272 1023l17 -25M262 1048l12 -17M284 1060l7 -19M272 1034l-10 -32M293 1025l-23 16M288 1035l-17 -30M298 1055l-15 -17M310 1038l-9 -20M304 1066l21 -34M285 1038l17 -20M311 1052l16 -22M306 1053l-8 -36M306 1049l-17 -21M296 1038l9 -27M308 1059l-15 -19M345 1049l-24 -31M336 1039l-6 -22M327 1028l19 2M352 1068l-18 -36M326 1025l-11 -24M336 1032l25 21M350 1055l-18 -22M353 1028l-18 -29M328 1046l-8 -17M361 1028l-7 -17M369 1042l-12 -24M353 1046l15 -18M363 1046l8 -19M368 1065l20 -27M349 1029l12 -21M359 1041l-11 -32M372 1056l10 -15M361 1043l12 -16M379 1036l24 -33M396 1030l-17 -28M392 1028l9 -16M400 1029l-13 -22M386 1025l16 -22M772 1059l-26 -29M762 1025l15 13M768 1031l13 -23M743 1034l12 -40M763 1059l-11 -27M793 1060l-11 -26M784 1051l9 -19M792 1033l8 -21M815 1049l-19 -24M803 1032l-9 -16M816 1060l11 -19M801 1043l13 -27M825 1024l-5 -25M814 1034l16 33M841 1061l15 -28M836 1029l17 -29M847 1061l16 -23M180 1084l6 -24M207 1057l-23 33M211 1088l16 -23M199 1108l24 -32M232 1095l-12 -39M211 1101l-23 -27M183 1056l36 6M247 1072l-11 -15M252 1083l-12 -29M234 1063l2 24M262 1083l9 -27M274 1096l18 -34M283 1087l-8 -19M275 1105l9 -34M272 1095l-10 -29M277 1095l-6 -20M280 1068l-18 -32M307 1110l18 -36M309 1093l-10 -32M317 1096l-15 -33M303 1085l-7 -33M301 1086l15 -18M293 1083l10 -31M303 1094l-18 -20M308 1068l-22 -25M321 1070l-7 -23M304 1094l11 -29M328 1076l9 -36M329 1071l27 10M348 1108l-8 -31M342 1091l-8 -30M356 1084l-17 -35M757 1090l-8 -34M771 1064l-24 24M769 1070l-5 -21M806 1096l-12 -21M812 1066l-17 -25M800 1087l-16 -35M801 1082l6 -23M781 1072l22 -27M821 1086l6 -23M826 1093l-12 -19M838 1076l-7 -29M830 1073l-3 37M823 1081l-21 13M873 1072l-26 -29M872 1084l-10 -16M845 1097l9 -37M887 1083l11 -24M865 1076l23 4M880 1098l7 -19M879 1101l-6 -20M874 1045l11 29M170 1123l17 3M207 1152l22 -33M207 1120l15 -30M230 1096l-6 33M212 1097l-21 5M244 1132l-20 -26M251 1147l-14 -26M264 1119l-15 -25M780 1138l8 -26M786 1117l25 20M792 1139l-16 -20M787 1130l-7 -20M850 1125l16 -18M865 1137l-16 -27M870 1114l-15 -38M855 1117l14 -26M870 1092l15 18M878 1110l-12 -32M883 1132l-17 -30M872 1122l17 -27M892 1127l-8 -17"/>
<path stroke="#1898c0" d="M686 796l-17 -42M472 1118l-28 -46"/>
<path stroke="#1898c0" stroke-width="4.6" d="M624 807l-23 -30M647 792l11 -21M383 863l-15 -25M695 870l-7 -28M741 970l12 -16M504 1000l-13 -38M898 1046l-9 -30M363 1088l-16 -22M309 1110l19 -23M206 1191l-19 -22"/>
<path stroke="#1898c0" stroke-width="6" d="M456 801l16 -20M511 780l-10 -24M538 824l-14 -27M544 812l-5 -18M390 864l-12 -23M485 868l-8 -17M521 860l13 -34M632 892l10 -29M641 889l-10 -22M368 918l21 -31M423 923l-5 -21M477 929l-11 -14M500 910l7 -17M575 931l-9 -29M595 923l-15 -19M599 937l-11 -36M712 914l-24 -31M271 975l-9 -30M362 970l14 -25M379 958l11 -17M481 947l-14 39M500 960l15 -26M563 941l5 -23M610 958l-10 -30M643 943l-13 -20M692 948l-21 5M717 961l9 -37M253 985l8 -18M317 985l-13 -19M349 1004l-11 -16M313 1010l14 -28M649 990l-11 -35M737 1006l-19 -35M767 1013l-15 -19M836 982l9 -26M196 1013l34 22M197 1062l15 -38M239 1028l-12 -35M240 1039l18 -25M290 1058l16 -28M314 1030l14 -17M788 1051l-12 -30M182 1079l10 -41M231 1092l-11 -27M264 1082l9 -30M277 1089l-24 -34M285 1101l16 -32M791 1070l4 -18M852 1103l23 -33M859 1105l18 -34M173 1142l14 -16M213 1137l12 -39M873 1101l-16 10"/>
<path stroke="#00f0f0" d="M681 774l18 -26M789 803l33 -59M698 834l-9 -41M767 875l18 -39M847 885l-12 -45M618 991l-23 -44M515 1077l-34 -55M740 1089l-16 -24M753 1137l26 -37M272 1157l17 -22"/>
<path stroke="#00f0f0" stroke-width="4.6" d="M618 799l-9 -22M652 789l-18 -24M632 772l21 2M623 820l-4 -20M617 844l13 -24M636 853l21 -25M367 893l-16 -27M709 875l-12 -25M184 944l11 -33M255 974l-5 -18M812 971l-13 -24M806 940l16 -20M845 970l-13 -24M874 1016l16 -22M723 1043l11 -25M371 1093l-15 -31M820 1128l-6 -22M810 1117l18 -35M179 1166l14 -26M211 1169l-20 -27M898 1154l-7 -10"/>
<path stroke="#00f0f0" stroke-width="6" d="M447 780l10 -37M467 779l17 -21M501 803l-17 -20M516 801l-11 -20M516 799l-18 -29M554 787l14 -29M569 814l-13 -30M572 782l20 -34M594 778l-7 -17M553 793l27 12M461 839l12 -15M458 834l19 -23M509 814l-20 -30M525 854l-12 -39M515 824l10 -21M557 843l-13 -18M539 818l-9 -34M532 818l10 -33M574 851l-12 -39M570 838l-14 -17M411 866l-17 -38M416 851l30 10M482 883l-17 -36M545 882l-28 -31M569 851l-12 -18M557 868l8 -24M578 864l8 -21M585 879l-4 -19M612 891l-6 -18M635 887l-22 -29M618 863l10 -24M682 882l-11 -36M329 895l-18 28M403 920l-8 -33M427 910l13 -19M439 898l14 -17M485 929l-12 -16M533 919l-9 -27M584 929l12 -14M575 898l-22 -26M576 911l15 -21M594 913l7 -31M623 898l-6 -28M607 901l20 -32M600 908l12 -16M624 919l12 -21M620 926l17 -28M647 924l-11 -16M660 912l4 -20M712 902l-20 -31M719 898l-9 -17M685 922l17 -29M329 963l13 -33M380 936l-12 -16M391 977l8 -31M411 951l14 -28M466 959l-19 -33M472 982l25 -31M507 959l6 -22M511 953l-12 -21M524 960l-20 -27M551 937l8 -17M548 966l-16 -29M582 975l-9 -19M592 974l-11 -32M600 971l17 -24M596 961l26 -32M610 962l-16 -21M601 946l16 -21M624 941l9 -17M631 987l10 -39M644 976l-9 -19M637 964l-8 -32M644 977l16 -28M671 948l-11 -18M655 955l11 -25M675 951l17 -25M714 951l-16 -31M713 970l-9 -34M710 954l-20 2M706 957l11 -23M178 1007l-8 -21M222 984l-10 -19M208 1016l-14 -29M194 982l29 24M236 998l10 -19M269 993l-12 -30M321 1017l-7 -29M349 966l-23 11M354 1018l17 -27M423 963l-34 18M454 1018l9 -17M639 1021l-10 -25M652 978l-5 -22M676 1021l-12 -30M722 1012l-20 -26M707 1005l-6 -19M711 998l9 -38M722 1013l22 -27M754 1017l-12 -23M767 1002l14 -23M795 998l12 -27M797 980l-20 -24M801 991l9 -17M817 1006l15 -32M827 974l-30 3M839 1007l-18 -35M860 983l-12 -22M865 997l-26 -29M178 1045l18 -33M200 1028l-8 -22M188 1054l-14 -32M223 1029l-8 -24M204 1041l17 -30M213 1055l-7 -25M248 1046l6 -20M241 1044l-25 -31M223 1033l20 -36M235 1028l12 -14M237 1021l-12 -20M277 1041l11 -14M287 1025l11 -22M334 1042l9 -22M360 1060l-11 -36M406 1027l-4 -18M809 1041l-10 -27M833 1040l-22 2M808 1032l12 -15M848 1036l-8 -22M838 1031l11 -20M184 1105l-10 -40M170 1071l5 -23M189 1103l-8 -20M215 1067l8 -18M236 1099l-19 -28M219 1075l-13 -30M209 1099l-16 -37M247 1091l18 -38M224 1092l17 -23M279 1069l-19 -28M268 1070l-9 -22M314 1050l29 16M756 1064l12 -20M773 1076l-14 -17M797 1074l-19 -28M822 1097l20 -31M868 1078l-20 -37M871 1083l-25 -29M877 1102l-11 -28M201 1116l-11 -22M170 1121l10 -11M218 1146l20 -35M217 1126l16 -24M193 1149l20 -28M234 1137l-14 -16M229 1097l-38 5M246 1145l5 -21M245 1146l-10 -30M773 1108l23 20M770 1138l13 -30M859 1127l7 -28M862 1106l9 -16M842 1111l7 -28M885 1122l-13 14"/>
<path stroke="#10c030" d="M670 753l-21 42"/>
<path stroke="#10c030" stroke-width="4.6" d="M612 830l-15 -20M663 849l-11 -25M694 797l-30 28M791 937l5 -22M884 1050l-14 -24M829 1115l-10 -23M184 1190l12 -18M878 1182l18 -33"/>
<path stroke="#10c030" stroke-width="6" d="M505 796l10 -16M576 764l-11 -17M505 900l11 -34M660 858l-11 -22M528 909l5 -19M676 908l9 -28M665 924l-18 -22M663 933l11 -17M692 915l9 -26M510 958l14 -24M631 978l-25 -30M174 1017l24 -30M201 1003l-7 -19M179 981l-9 -15M196 990l-17 -24M181 993l6 -20M183 977l10 -15M202 986l-12 34M638 991l10 -30M785 989l-12 -27M170 1042l8 -10M178 1043l-8 -24M205 1009l-18 28M226 1064l-13 -31M400 1030l-16 -22M802 1026l17 -24M184 1098l-14 -16M177 1065l8 -24M202 1078l14 -18M759 1068l-22 -26M179 1133l7 -19M189 1145l7 -32M173 1118l13 -37M170 1132l9 -13M191 1131l-11 -31M213 1116l-22 -30"/>
<path stroke="#40e010" d="M854 773l-19 -26"/>
<path stroke="#40e010" stroke-width="4.6" d="M656 819l20 -26"/>
<path stroke="#40e010" stroke-width="6" d="M670 874l-14 -26M668 922l-13 -29M179 1036l-9 -23M172 1055l20 -32M183 1077l-11 -18M192 1125l10 -21"/>
<path stroke="#c8f000" d="M822 905l28 -63"/>
<path stroke="#c8f000" stroke-width="4.6" d="M185 1186l-12 -15M206 1127l-33 19"/>
<path stroke="#c8f000" stroke-width="6" d="M663 864l-11 37M179 994l9 -23M183 1067l9 -24"/>
<path stroke="#0000ff" d="M428 774l-26 -30M437 803l-15 -44M836 778l-33 38M702 822l-27 -32M748 865l-12 -51M774 852l-22 -38M170 844l14 -30M348 872l-20 -43M805 867l-31 -47M889 880l-31 -49M233 934l-24 -29M215 931l-16 -33M223 933l26 -32M288 909l-21 -25M765 930l20 -44M766 915l-17 -46M824 939l-11 -41M890 922l-13 -55M864 951l13 -34M877 973l-11 -44M516 1011l-18 -23M525 996l-11 -49M624 1013l-9 -33M402 1040l20 -31M419 1040l25 -33M468 1035l-19 -39M462 1055l42 -51M541 1037l-15 -20M549 1062l-32 -42M660 1075l-42 -49M678 1062l6 -24M702 1050l23 -32M687 1051l10 -25M411 1073l-12 -26M425 1078l-12 -24M433 1101l-16 -20M502 1099l-18 -48M531 1048l8 72M721 1092l-35 -43M721 1103l13 -47M316 1143l13 -27M346 1141l34 -61M395 1143l15 -38M431 1114l20 -29M484 1140l19 -29M759 1141l-14 -36M240 1191l10 -22M259 1191l5 -19M260 1191l7 -22M341 1141l44 40M428 1191l-15 -42M474 1191l8 -29M728 1191l-26 -35M796 1162l13 -47M835 1177l-18 -40M837 1125l0 42"/>
<path stroke="#0000ff" stroke-width="4.6" d="M608 809l-13 -27M620 786l-11 -24M613 797l17 -19M613 778l-13 -18M618 757l37 13M645 788l-21 -30M640 779l-22 -35M388 828l-8 -36M389 841l-11 -19M407 830l-18 -29M611 820l-6 -25M597 825l-6 -23M643 842l14 -37M634 832l9 -27M650 816l-6 -28M641 842l-15 -31M358 875l18 -26M365 867l-14 -25M372 876l7 -28M372 850l2 19M715 882l-19 -27M705 881l-11 -15M739 878l12 -16M743 869l-17 -29M731 894l-7 -25M707 843l17 11M301 910l18 -23M292 906l22 -35M313 930l-12 -18M192 974l9 -33M189 961l-14 -23M180 981l-10 -15M212 955l-17 -34M205 975l17 -19M249 974l17 -34M230 941l11 -31M263 955l-14 -39M243 966l-13 -31M762 960l5 -19M782 958l-14 -21M767 984l8 -39M781 948l19 -22M799 970l7 -19M817 956l-22 -32M782 953l14 -20M811 942l-5 26M810 957l14 -17M807 972l13 -36M848 951l-14 -18M842 960l7 -23M838 948l11 -24M854 972l9 -16M491 983l12 -15M487 1022l-19 -31M474 955l4 28M536 1016l16 -20M556 977l13 -15M584 980l-10 -21M583 1018l-10 -38M594 985l-13 -21M576 983l-7 -18M567 1014l9 -21M891 1004l6 -23M885 990l-13 -29M892 1005l6 -16M704 1047l24 -34M729 1069l-8 -36M726 1039l9 -34M719 1056l27 -30M898 1025l-16 -20M866 1066l15 -29M375 1087l8 -22M355 1102l-10 -33M261 1119l12 -31M275 1132l-7 -20M287 1106l-20 3M301 1090l27 13M316 1145l-27 -29M283 1138l14 -28M327 1126l-16 -37M819 1091l6 32M838 1133l-15 -27M838 1131l-7 -29M197 1188l-14 -38M188 1146l19 13M216 1178l10 -22M854 1176l-20 6M849 1163l-22 -25M863 1178l-11 -34M898 1165l-19 -23M871 1184l14 -35M871 1153l16 -22"/>
<path stroke="#0000ff" stroke-width="6" d="M451 808l7 -18M471 792l-12 -23M472 773l-6 -25M469 781l-9 -38M452 769l10 -25M438 807l8 -23M478 805l23 -33M493 786l-41 2M487 771l-7 31M484 791l-13 -23M484 782l7 -28M471 780l9 -37M525 763l14 -19M516 774l26 12M510 809l18 -31M517 780l24 -28M537 771l33 7M562 761l-10 -16M545 786l-13 -14M563 805l-5 -21M566 776l-9 -22M567 784l11 -21M582 790l6 -24M567 748l16 34M584 773l-10 -24M425 827l-17 -31M406 812l20 -23M433 811l-5 -22M445 842l-19 -33M418 857l-11 -34M409 816l10 -23M433 820l13 -24M417 856l16 -37M410 849l10 -24M432 847l-19 -36M457 801l-30 21M465 817l5 -22M452 818l3 36M469 842l-14 -17M463 797l-32 14M453 855l21 -31M476 835l-11 -15M454 836l-20 -35M499 819l6 -20M493 825l18 -34M485 849l-4 -19M505 820l-16 -20M492 840l-14 -22M486 843l-10 -26M469 846l11 -32M506 813l-17 7M496 829l12 -30M469 816l9 -20M492 848l22 -32M530 807l-12 -14M517 849l-11 -38M501 839l14 -16M494 845l21 -26M512 851l17 -20M518 835l13 -19M554 813l-37 14M532 831l14 -20M539 818l5 -18M550 842l-13 -29M584 840l12 -17M596 848l-13 -15M581 841l14 -18M403 863l11 -23M404 895l13 -27M390 861l-13 -21M416 887l-13 -15M405 873l-23 -34M405 885l-5 -21M376 879l14 -23M399 858l-23 -30M395 879l18 -29M437 865l-12 -15M429 864l14 -17M444 893l-8 -20M424 872l6 -23M429 866l15 -35M452 858l-21 -25M432 885l-16 -32M435 875l7 -26M423 854l-18 34M419 865l8 -16M454 871l-14 -36M458 870l11 -31M473 870l-17 -23M455 887l7 -30M451 860l19 -36M480 889l-17 -26M454 892l-23 -34M456 888l18 -29M461 891l-7 -21M462 867l-13 -39M492 870l-14 -26M490 893l11 -20M507 882l-12 -26M490 861l4 -20M481 876l-16 -22M485 860l-9 -31M479 862l-9 -17M481 864l-10 -25M490 887l-23 -26M540 875l-27 3M510 879l28 2M508 894l-9 -36M495 866l15 -25M529 865l-10 -37M516 870l-22 -29M496 862l18 -25M530 863l-12 -23M549 889l19 -26M528 834l30 20M532 859l23 -31M546 899l8 -33M550 880l-15 -25M542 891l13 -15M566 844l-25 29M547 857l-20 -26M583 879l11 -34M595 875l-8 -37M600 866l-14 -16M561 881l16 -23M577 883l18 -26M579 896l14 -36M581 870l10 -20M572 853l9 22M597 896l19 -31M616 879l-6 -18M617 865l9 -23M589 834l11 21M617 860l22 1M644 870l-16 -25M643 877l-10 -25M638 860l-8 -18M690 881l-12 -35M676 862l6 -24M336 915l10 -23M339 912l-11 -21M332 921l-14 -20M339 920l-6 -27M331 900l-16 -32M316 913l17 13M370 915l7 -22M369 928l7 -32M374 925l-9 -18M380 933l-11 -32M345 920l14 -22M366 926l-6 -21M352 906l15 -21M383 901l-12 -33M373 932l9 -31M417 910l-15 -38M396 896l-9 -20M400 911l-14 -32M396 929l17 -22M381 920l12 -29M383 929l11 -30M405 929l5 -22M401 915l6 -28M377 901l24 -29M424 907l24 -29M413 922l14 -28M440 903l-12 -34M422 926l24 -27M417 908l17 -19M418 905l-9 -21M426 927l17 -26M438 926l-19 -33M445 910l-11 -28M436 882l14 12M440 900l6 -19M478 909l-19 -25M455 904l-10 -30M462 919l19 -29M466 916l-15 -22M458 877l-15 32M461 898l-8 -20M456 919l-9 -35M499 938l-15 -32M475 906l8 -31M490 910l14 -16M507 908l-17 -34M513 893l-28 6M489 898l-14 -19M510 940l-16 -35M459 909l27 -32M501 893l-10 -15M538 914l-15 -19M529 877l-24 19M528 905l9 -16M498 907l18 -26M512 903l-17 20M536 936l-23 -32M521 931l14 -31M526 917l-18 -29M561 915l-7 -30M552 893l18 3M538 903l20 -33M557 920l-22 -34M571 926l-19 -37M566 929l-10 -38M550 928l13 -39M529 904l14 -33M536 919l16 -21M565 923l-14 -31M570 931l-6 -23M588 895l-18 -21M569 903l15 -18M581 907l18 -36M561 903l14 -26M572 915l8 -23M622 918l-8 -34M598 911l9 -16M622 899l-18 -23M594 904l8 -29M595 919l8 -20M644 922l14 -28M631 869l-10 38M655 928l-11 -18M677 904l-14 -16M699 930l6 -19M717 941l-9 -34M678 891l25 18M738 918l-8 -36M751 903l-16 -23M731 912l-6 -19M733 890l12 -14M715 919l6 -24M730 936l-11 -33M270 941l7 -21M292 943l-16 -32M273 949l10 -39M278 976l10 -23M280 947l-12 -22M295 954l-6 -21M298 972l-16 -39M306 949l21 -36M283 944l18 -23M298 947l-14 -21M308 957l-14 -29M315 960l-19 -25M287 944l21 -29M306 971l20 -30M297 945l-9 -17M334 952l18 -26M315 942l11 -32M322 973l13 -20M330 983l-18 -33M323 968l17 -27M352 961l-12 -15M344 914l1 35M352 943l-10 -34M351 958l-19 -22M356 941l17 -26M344 950l16 -36M349 976l10 -25M381 974l-13 -29M356 967l-11 -36M364 957l7 -22M375 973l-20 -28M369 949l-22 -24M373 959l-9 -37M406 946l-12 -27M384 914l23 34M399 962l-15 -22M380 954l24 -33M389 975l-15 -21M386 954l13 -35M383 958l11 -22M417 963l-15 -23M395 954l-15 -23M415 967l12 -22M429 953l14 -35M435 920l-12 36M411 948l34 5M425 958l13 -21M423 948l8 -21M420 950l18 -35M436 945l-7 -21M412 947l12 -20M447 973l-12 -23M461 950l13 -31M440 949l15 -31M455 947l-15 -35M469 972l-11 -32M461 931l-21 17M461 947l-7 -20M433 948l19 -30M461 961l17 -19M483 947l23 -25M474 946l6 -20M492 959l12 -14M495 947l-9 -19M495 913l-15 36M479 949l24 -27M502 954l-12 -26M512 954l-21 9M498 947l-12 -24M526 942l-29 0M525 948l-18 -37M489 955l39 1M512 957l9 -38M524 966l9 -20M548 961l-6 -18M529 943l13 -15M554 962l-7 -23M546 952l-12 -38M552 948l-14 -27M530 976l19 -25M526 965l17 -23M555 953l11 -33M576 939l9 -17M576 971l-13 -21M580 948l-7 -34M602 957l-32 2M580 942l-5 -18M573 953l-5 -22M566 945l7 -28M572 940l-9 -21M589 962l10 -38M597 952l8 -25M611 945l10 22M590 956l14 -36M617 976l15 -29M651 981l-13 -36M625 954l13 -32M661 977l-15 -26M644 961l-6 -26M656 937l3 33M685 976l-27 -32M674 959l-24 2M673 946l-6 -23M675 951l-15 -22M702 972l14 -37M690 952l7 -26M700 958l-8 -18M714 978l-21 -27M682 957l19 -26M680 937l14 -16M732 976l-9 -28M749 967l-7 -24M736 951l-11 -26M738 976l10 -24M741 966l-14 -24M728 979l-9 -26M187 1019l8 -33M188 998l16 -36M208 1009l15 -19M216 1011l5 -18M214 1016l-8 -28M213 997l6 -23M211 988l16 -37M205 1015l16 -29M204 983l-11 -15M252 999l-13 -20M260 995l-5 -22M238 1021l-9 -32M250 1012l-10 -17M253 999l12 -15M255 994l15 -20M292 991l-20 -28M273 1013l21 -25M288 979l-10 -16M273 1008l-15 -22M266 989l-11 -21M271 983l12 -14M283 997l15 -34M317 1001l-33 2M297 1009l13 -26M321 995l-23 -34M294 993l9 -17M291 1010l10 -24M286 1020l12 -26M289 955l19 26M287 1025l19 -37M357 967l-17 22M326 1010l12 -20M343 1009l-12 -24M314 996l16 -20M318 1020l15 -24M337 989l-10 -36M338 983l11 -26M360 987l-21 -24M385 969l-20 29M364 980l8 -23M374 992l-24 -30M362 988l15 -32M370 1004l11 -32M373 1018l-12 -21M390 989l-20 -34M362 984l-11 -16M363 1006l20 -35M389 1010l-19 -30M381 1001l17 -26M392 1009l-21 -35M390 1015l-17 -29M388 999l-10 -40M388 1009l-8 -17M393 985l-13 -15M408 1011l-24 -27M385 1025l13 -37M404 995l-10 -29M408 1010l14 -16M439 1014l-17 -34M413 981l24 -28M435 990l-20 -31M423 1018l15 -28M437 987l-13 -36M445 981l-29 11M412 997l16 -25M442 1022l-16 -26M435 957l21 29M465 1002l-12 -29M480 1012l-23 -29M458 996l11 -16M454 1005l16 -29M455 1004l10 -18M628 994l9 -30M632 1010l-14 -25M630 993l15 -25M655 1003l19 -34M651 1010l10 -20M672 989l-16 -25M651 991l17 -20M720 988l-12 -25M698 1001l-15 -38M705 1018l-4 -18M712 1007l-7 -25M681 973l34 12M720 1023l-12 -34M712 971l-18 8M706 981l8 -25M718 1011l6 -20M714 993l10 -17M750 1010l-23 -27M742 1005l5 -18M745 983l-7 -22M745 1002l-17 -38M737 1012l-21 -30M748 999l-19 -25M768 1016l-16 -34M756 1020l15 -36M770 1014l-12 -16M766 1003l-25 -32M761 1022l-18 -38M771 988l9 -29M754 1009l-14 -23M793 986l24 -31M796 1012l-17 -31M768 985l27 -30M800 1011l22 -35M818 1022l-12 -38M820 988l13 -14M860 1015l-15 -19M860 999l10 -31M867 1020l-18 -23M206 1034l-28 13M170 1010l5 -13M217 1051l-16 -30M218 1024l7 -28M219 1062l6 -24M204 1055l-11 -23M193 1059l22 -31M258 1047l-18 -22M262 1056l-13 -21M261 1037l-13 -26M248 1040l-13 -17M262 1050l13 -16M291 1034l-26 23M252 1038l13 -22M289 1064l-25 -30M287 1035l-7 -20M275 1049l-11 -32M286 1057l-9 -26M286 1041l-20 -36M254 1048l21 -28M315 1061l9 -21M318 1049l-9 -31M315 1047l-8 -28M325 1050l-13 -17M313 1019l9 -18M295 1055l12 -21M294 1030l-5 -20M314 1044l-21 -29M307 1051l-12 -18M327 1050l13 -37M357 1047l-14 -33M339 1010l17 9M315 1064l13 -39M357 1054l-25 -31M339 1035l-15 -36M332 1029l-23 -28M353 1024l-24 -26M334 1050l-10 -38M372 1054l13 -39M342 1030l17 -21M369 1051l-13 -29M384 1060l-14 -26M355 1056l-5 -20M362 1042l13 -23M376 1050l7 -25M353 1036l14 -26M421 1024l-23 -27M398 1012l-19 7M401 1041l-9 -18M370 1041l23 -32M410 1054l-10 -40M407 1029l-17 -34M745 1032l8 -22M762 1065l-17 -29M784 1043l-20 -31M777 1027l-13 -21M763 1040l20 -26M796 1028l19 -29M788 1036l-9 -19M810 1043l-25 12M779 1060l11 -27M809 1049l-12 -37M819 1056l-6 -18M815 1053l-10 -36M842 1050l-37 2M860 1035l-12 -29M842 1058l20 -28M864 1061l-21 -32M868 1031l-38 15M178 1066l-8 -13M201 1099l-26 -31M223 1101l-6 -19M224 1073l-16 -24M220 1100l8 -21M210 1066l-21 21M229 1079l-8 -30M249 1071l-9 -16M235 1081l-11 -37M254 1085l-13 -30M266 1078l17 -33M287 1076l-15 -28M272 1079l8 -31M274 1075l7 -17M248 1067l23 -26M253 1070l11 -30M293 1083l-10 -20M304 1073l-20 -36M300 1106l24 -29M316 1089l-10 -34M305 1077l16 32M304 1096l8 -25M302 1076l-18 -38M291 1072l16 9M284 1094l19 -22M293 1101l14 -27M290 1084l23 -30M328 1078l10 -34M324 1068l-7 -20M316 1081l8 -23M333 1089l-8 -29M323 1072l20 -26M764 1106l18 -34M755 1064l11 -23M752 1077l21 -29M802 1092l7 -19M793 1093l16 -24M816 1108l-24 -34M814 1082l-15 -35M796 1101l14 -20M833 1088l-6 -18M823 1091l-10 -17M829 1071l6 -24M801 1074l16 -34M825 1102l-10 -31M853 1103l-14 -37M851 1088l13 -19M849 1102l20 -26M884 1071l-8 -20M883 1094l15 -24M867 1089l5 -21M878 1068l20 3M170 1099l9 -12M205 1125l-12 -18M223 1118l-33 9M207 1121l10 -40M200 1117l12 20M243 1152l23 -34M259 1123l-22 -31M255 1122l6 -22M246 1120l-8 -26M763 1118l28 20M802 1122l-10 -23M804 1135l-19 -34M803 1135l-17 -20M866 1109l-6 -25M848 1122l-5 -19M869 1141l-17 -21M889 1129l-15 -27M878 1120l17 -23M887 1122l-22 -26M873 1142l-9 -31M891 1131l7 -12M874 1117l-12 32"/>
<path stroke="#1898c0" d="M341 1143l-25 -31M784 1174l5 -22"/>
<path stroke="#1898c0" stroke-width="4.6" d="M628 806l-13 -17M620 826l25 14M705 832l19 29M237 959l-19 -36M749 968l7 -26M546 985l-13 -17M878 1052l14 -20M372 1091l9 -22M335 1092l-36 9M833 1175l19 -33"/>
<path stroke="#1898c0" stroke-width="6" d="M462 778l-7 -20M590 808l-18 -26M511 808l-14 -16M577 831l26 -33M409 857l-7 -21M520 863l-6 -22M569 890l-14 -19M635 874l8 -17M333 919l12 -28M385 914l21 -31M426 934l-24 -32M505 936l8 -25M527 929l-13 -20M570 931l-10 -25M604 906l6 -17M634 885l23 7M719 937l-8 -28M313 941l8 -16M371 958l6 -22M461 934l-16 32M516 965l-26 4M520 949l-22 -35M605 938l-9 -19M595 978l10 -38M622 963l14 -23M660 949l-9 -37M209 1018l-9 -23M275 1008l-8 -19M311 1022l-9 -33M346 1000l-19 -30M401 981l-20 -24M664 1004l11 -25M736 999l-25 -32M784 1017l-16 -32M831 987l14 -36M228 1026l-20 -31M197 1041l7 -22M277 1014l-39 1M264 1062l-15 -30M294 1059l20 -30M380 1028l-10 -27M843 1016l-17 33M178 1103l-6 -20M197 1065l14 -25M266 1067l10 -28M273 1083l-22 -27M776 1071l-8 -34M817 1106l-13 -37M847 1082l-14 -26M877 1094l-11 -33M218 1136l11 -20M206 1116l-6 -22"/>
<path stroke="#00f0f0" d="M754 811l-37 -54M352 818l9 -31M766 840l-21 -28M759 882l29 -45M800 908l-12 -43M610 999l-17 -22M585 1060l12 -49M451 1093l-21 34M243 1155l6 -27M363 1167l26 -42"/>
<path stroke="#00f0f0" stroke-width="4.6" d="M614 795l8 -30M634 798l22 -33M639 768l-5 -25M599 823l13 -25M602 812l-15 -16M672 831l-20 -24M699 869l10 -32M698 883l-8 -29M170 961l3 -13M220 918l22 18M796 963l12 -22M837 969l22 -30M586 1024l8 -30M866 997l13 -32M898 1052l-7 -15M360 1080l-9 -31M835 1125l-18 -22M173 1184l11 -27M181 1169l9 -17M217 1190l-19 -28M893 1190l5 -20"/>
<path stroke="#00f0f0" stroke-width="6" d="M439 803l9 -26M488 763l12 -20M529 799l-11 -31M517 752l-22 28M555 773l-16 -29M566 776l-18 -22M540 799l8 -28M561 796l11 -26M579 810l18 -28M427 820l-21 -28M453 817l12 -30M436 798l38 14M481 815l9 -29M521 799l12 23M520 845l-21 -33M547 821l-16 -38M541 839l-9 -23M574 850l-8 -19M586 856l-26 -31M565 816l22 -29M447 872l-12 -37M468 857l-7 -18M493 878l-16 -27M522 878l16 -32M545 856l29 8M546 867l-11 -31M595 886l-15 -34M570 881l8 -18M614 866l9 -24M616 875l8 -25M649 865l-7 -28M661 867l-6 -27M373 926l-17 -27M402 912l-8 -28M420 911l-18 -29M472 904l11 -30M488 928l13 -20M494 903l17 10M569 891l0 36M581 904l-20 -34M579 920l21 -31M608 930l-19 -29M616 914l-16 -28M617 905l-18 -30M623 901l-25 -30M650 906l-19 -25M643 926l-6 -23M662 918l-39 6M660 902l7 -30M698 907l4 -18M680 896l12 30M709 929l17 -32M346 954l-10 -22M403 939l-12 -21M436 939l-17 -22M418 960l10 -23M445 975l11 -33M481 955l-12 -39M515 962l-24 -34M515 965l-7 -24M560 979l-11 -32M536 941l18 18M548 962l16 -37M567 958l17 -28M588 964l24 -34M620 954l-22 4M616 958l14 -20M613 927l-13 27M598 964l8 -27M641 956l14 -37M628 970l17 -25M643 962l-7 -19M663 940l-24 -29M667 958l12 -19M687 974l-20 -24M670 947l-11 -29M672 950l-17 -22M689 951l14 -25M699 968l-15 -25M691 952l-0 29M188 969l-18 7M222 992l9 -25M204 998l12 -17M188 1009l19 -36M227 996l12 -14M261 1013l-11 -23M294 1003l-22 -24M304 1019l-26 -30M331 983l-15 -29M402 998l-14 -37M436 980l-20 -24M643 994l-13 -22M639 1019l-9 -32M636 1002l24 -31M670 999l13 -19M705 992l18 -23M684 983l8 -31M707 995l22 -25M716 1005l19 -24M755 1021l-13 -28M755 994l-12 -36M793 999l-8 -29M788 987l-9 -19M792 993l-14 -38M814 955l4 29M843 1009l-15 -39M841 985l-10 -15M868 984l-16 -23M867 1001l-10 -29M187 1046l-17 -21M172 1028l13 -25M183 1064l-13 -33M205 1048l9 -25M212 1013l19 29M213 1029l-22 -35M224 1033l18 -27M238 1038l-13 -32M250 1042l12 -21M231 1040l4 -18M296 1057l-23 -28M293 1046l-11 -17M321 1042l-12 -18M355 1056l-10 -17M346 1037l12 -31M781 1065l-25 -33M832 1028l-10 -29M811 1050l8 -27M820 1052l-13 -24M877 1049l-39 0M836 1064l13 -33M170 1077l10 -35M186 1091l-9 -25M201 1067l-14 12M213 1085l9 -27M214 1092l-7 -33M228 1088l-13 -15M265 1063l-35 10M235 1086l8 -37M259 1092l-5 -18M263 1083l15 -23M332 1081l-7 -28M339 1040l-13 37M766 1090l-8 -23M760 1093l-11 -38M800 1085l-7 -26M814 1084l8 -32M855 1072l13 -31M858 1103l-16 -22M875 1091l11 -23M175 1122l12 -28M170 1151l12 -37M224 1139l-15 -39M190 1125l18 -37M201 1150l19 -35M212 1097l22 5M253 1131l-12 -24M248 1110l-6 -22M234 1134l12 -36M775 1144l20 -29M793 1131l-20 -34M854 1126l16 -28M857 1102l-10 30M859 1096l35 6"/>
<path stroke="#10c030" d="M697 851l-18 -31"/>
<path stroke="#10c030" stroke-width="4.6" d="M642 826l-20 -30M666 833l15 -25M704 887l-11 -36M827 966l19 -35M374 1097l-8 -26M170 1157l12 -14M176 1175l7 -21"/>
<path stroke="#10c030" stroke-width="6" d="M524 785l-14 -18M599 790l-12 -25M610 883l-12 -23M677 888l-13 -17M594 907l21 -36M687 920l-10 -24M671 916l-8 -34M684 935l-23 -35M520 971l17 -28M514 968l8 -17M692 963l-23 -29M184 1020l23 -27M193 979l-17 14M170 993l2 -10M194 993l-7 -23M198 1006l-14 -20M172 963l13 34M195 1005l17 -23M645 997l19 -26M770 1018l17 -30M191 1031l12 -26M186 1060l17 -29M212 1014l-29 7M249 1043l-9 -17M747 1047l5 -19M170 1095l6 -10M182 1089l-9 -19M193 1081l7 -21M184 1085l29 13M748 1083l14 -39M181 1123l-9 -34M170 1129l18 -23M191 1108l-14 -26M170 1117l26 2M193 1140l5 -19M227 1111l7 -31"/>
<path stroke="#40e010" d="M841 842l-15 -55"/>
<path stroke="#40e010" stroke-width="4.6" d="M186 1168l-11 -15"/>
<path stroke="#40e010" stroke-width="6" d="M651 892l22 -31M189 978l-12 14M176 1031l14 -35M191 1088l11 -17M188 1104l-18 -21M179 1117l17 -20"/>
<path stroke="#c8f000" stroke-width="4.6" d="M186 1151l15 -18"/>
<path stroke="#c8f000" stroke-width="6" d="M674 860l16 -19M189 1037l12 -36M175 1139l-5 -10"/>
<path stroke="#0000ff" d="M422 770l14 -22M430 815l-12 -44M194 835l-24 -36M710 819l-15 -29M728 853l16 -30M874 819l-21 -37M303 812l13 61M736 864l32 -37M831 892l24 -27M196 909l-26 9M214 910l-25 -37M239 898l10 -23M243 934l18 -49M278 923l-20 -31M756 933l11 -28M778 913l-32 -36M834 921l11 -30M858 921l30 -51M888 970l-27 -38M860 952l19 -38M528 1015l8 -36M528 1015l9 -43M615 998l-21 -38M416 1053l15 -18M437 1034l-17 -32M454 1036l33 -39M497 1051l28 -48M558 1043l8 -33M590 1067l-14 -65M660 1060l10 -45M676 1045l7 -27M698 1051l-19 -37M699 1070l10 -44M393 1105l24 -34M421 1098l-13 -51M449 1109l19 -41M521 1073l-18 -28M567 1100l-27 -65M745 1093l-20 -23M333 1149l-24 -28M343 1157l-12 -47M349 1131l27 -43M388 1145l7 -26M438 1143l-15 -41M781 1146l-14 -50M247 1191l6 -26M244 1191l13 -39M274 1163l-16 -34M307 1191l24 -29M419 1172l-25 -44M427 1191l11 -22M530 1180l-25 -62M805 1182l-33 -37M802 1164l19 -44M836 1183l-13 -27M830 1180l-13 -27"/>
<path stroke="#0000ff" stroke-width="4.6" d="M606 771l13 -14M623 781l-19 -34M606 777l14 20M623 763l-12 -20M631 776l-13 -16M632 761l11 -16M415 830l-9 -18M398 816l-15 -27M387 798l-5 19M588 847l12 -36M598 805l15 27M634 831l-23 -27M639 827l9 -21M656 831l-19 -32M642 835l16 -31M669 839l26 -30M354 896l11 -27M361 885l-10 -21M377 884l-14 -26M683 872l23 -31M710 888l-11 -39M745 856l-18 -26M728 892l-7 -28M709 856l18 -23M733 885l16 -32M713 880l12 -25M313 924l-15 -21M299 913l19 -31M301 930l-15 -26M175 969l16 -27M188 951l10 -21M227 960l-17 -30M219 970l8 -21M245 956l-16 -37M247 939l-23 -26M241 945l13 -20M256 956l-15 -36M743 967l12 -21M753 941l24 -27M764 930l-31 9M743 948l11 -17M779 970l8 -26M779 956l12 -39M806 971l-12 -23M803 946l10 -20M828 961l-12 -37M814 935l-12 -18M833 952l7 -29M862 941l-8 -24M853 979l-12 -39M837 938l1 32M478 1014l10 -37M489 995l-26 -31M488 1018l-9 -21M541 990l-14 -36M551 989l13 -24M566 981l-32 15M581 1003l22 -28M578 992l-6 -18M571 993l-14 -25M575 1016l-18 -23M893 991l-23 2M876 999l11 -36M885 1009l8 -23M735 1047l-12 -35M737 1033l-25 -34M720 1053l11 -22M743 1032l-6 -24M747 1045l-21 -36M898 1027l-19 -28M872 1030l-5 -20M361 1092l23 -28M270 1112l-20 -33M294 1116l-11 -33M280 1113l-14 -19M256 1115l7 -22M301 1145l12 -22M279 1130l22 -34M311 1138l12 -29M284 1150l17 -37M816 1114l-9 -20M817 1112l-15 -28M820 1138l16 -28M188 1169l-16 -34M229 1159l-17 6M219 1190l-24 -26M833 1159l12 -23M852 1174l-9 -18M859 1172l9 -26M869 1171l13 -15M890 1158l-13 -16"/>
<path stroke="#0000ff" stroke-width="6" d="M468 779l-11 -18M458 795l-22 -28M453 804l10 -24M449 769l11 -25M467 802l-9 -40M453 768l7 -24M480 803l8 -23M489 767l-10 -24M472 799l9 -29M498 757l3 20M489 795l-27 -30M495 801l-17 -31M499 767l9 -19M511 778l-17 34M523 781l17 -23M537 800l-9 -21M549 766l14 -22M546 799l9 -31M551 794l16 -33M544 808l-8 -27M546 781l-9 -30M567 768l12 -24M576 799l7 -19M599 801l-18 -21M571 808l13 -34M442 817l-7 21M437 826l-9 -29M437 851l-16 -25M440 847l-13 -16M439 834l-16 -34M413 788l-1 41M404 827l21 -24M419 810l-12 -14M437 806l-20 27M427 826l-17 -30M441 797l18 21M446 845l19 -23M454 851l-7 -27M457 838l-22 -33M454 832l-10 -22M441 828l8 -36M457 835l-25 -31M430 822l23 10M489 833l7 -20M488 850l9 -18M495 826l8 -37M488 823l13 -40M473 833l11 -17M472 817l19 -24M468 822l15 -18M507 819l-26 -33M490 848l-8 -34M516 817l24 -34M528 855l-24 -34M523 818l-16 -20M507 835l18 -24M518 858l8 -35M505 828l-5 -19M515 834l10 -17M516 844l-11 -23M552 824l16 -19M546 851l-18 -33M552 838l-8 -24M587 827l9 -19M596 831l-8 -32M572 844l-11 -28M406 882l-6 -26M388 867l11 -20M394 858l-24 -33M389 866l7 -33M417 873l-14 -30M414 872l-11 -33M382 876l10 -15M389 880l20 -34M379 890l15 -26M381 841l27 23M428 877l11 -22M421 873l17 -37M435 861l-18 -29M431 895l-14 -38M421 838l11 18M445 873l-14 -37M427 892l-19 -29M428 872l14 -31M405 872l16 15M459 868l13 -32M462 860l13 -33M465 862l-7 -19M477 845l-38 0M459 861l-21 28M432 872l22 -28M444 884l12 -33M473 893l-17 -34M465 893l12 -40M470 891l-16 -21M492 880l12 -25M505 890l-18 -20M485 868l5 -18M487 854l-12 -21M470 897l12 -32M468 880l21 -33M484 889l18 -28M505 887l-15 -21M497 880l10 -28M480 881l-8 -25M506 887l13 -20M507 849l22 31M501 852l37 8M536 883l-12 -34M518 886l-16 -36M509 889l-6 -29M546 834l-32 25M542 890l17 -21M528 871l19 20M554 873l-8 -35M563 862l-24 5M552 887l-14 -35M554 883l-17 -29M524 879l19 -37M543 871l-6 -28M550 881l-8 -30M567 871l-5 -20M576 880l-23 -26M596 870l-19 -25M567 871l19 -22M573 865l12 -24M568 879l-9 -30M584 873l-12 -15M587 893l-16 -21M624 889l-14 -32M615 884l14 -21M626 877l-15 -34M647 895l-14 -34M642 879l-6 -19M646 856l-13 -16M657 862l-14 -38M632 889l-6 -18M685 897l-11 -38M676 847l6 34M341 918l-13 -26M340 907l-24 -31M313 918l24 -31M327 926l11 -30M339 944l12 -39M377 908l-17 -24M382 925l-14 -20M384 903l-9 -36M366 933l13 -33M348 932l24 -33M346 899l17 -22M370 894l-19 -22M355 930l7 -17M350 905l9 -20M356 909l11 -17M403 938l15 -37M401 928l-24 -32M396 910l-8 -19M387 916l10 -35M398 912l15 -19M395 935l-19 -23M410 920l-15 -21M393 907l-9 -32M403 908l-10 -20M415 920l16 -26M411 902l1 33M405 915l13 -19M446 900l-11 -30M426 895l-28 6M437 920l5 -18M406 911l22 -26M429 937l15 -30M474 928l-10 -40M446 926l15 -30M474 928l-12 -34M466 906l-19 -29M457 934l25 -29M453 938l-11 -28M460 925l21 -27M453 901l6 -17M436 916l16 -30M475 908l-7 -17M479 909l-14 -18M479 914l14 -31M467 917l25 -30M490 896l19 -23M488 935l-14 -22M491 896l-20 9M496 899l-16 35M500 943l-11 -36M507 933l-17 -23M516 908l16 -27M544 917l-24 -31M528 940l-21 -33M500 878l23 16M530 925l-8 -21M536 938l-22 -34M513 920l-20 -25M507 942l14 -35M552 915l11 -17M537 934l5 -20M547 898l12 -28M558 910l-19 -22M541 874l-11 29M537 907l38 15M555 926l-18 -23M542 926l-6 -23M570 924l-23 -32M532 918l13 -20M565 931l13 -24M585 897l14 -20M601 912l-24 6M576 934l22 -26M584 907l-19 -24M565 908l14 -39M612 919l-21 -25M593 903l6 -26M609 909l11 -25M602 923l-13 -18M596 931l13 -28M642 922l11 -34M635 887l-18 9M668 909l13 -17M670 900l17 -20M696 901l22 -29M723 932l-22 -32M721 929l-16 -33M730 894l6 -21M746 901l-11 -21M749 911l-12 -17M724 932l-7 -22M741 930l-14 -34M712 894l22 31M256 960l12 -20M258 973l15 -29M285 973l-11 -34M275 942l-12 -17M287 961l-19 -22M315 965l9 -24M305 948l14 -34M296 952l-9 -23M303 956l-8 -33M305 923l-18 35M286 953l21 -27M316 970l-12 -26M320 959l-15 -36M291 981l25 -29M304 979l-22 -30M350 966l-8 -25M363 947l-27 9M342 969l-16 -32M347 963l-10 -21M342 944l15 -25M319 944l12 -34M354 939l-18 -22M350 948l-9 -26M353 964l-11 -30M347 976l9 -18M379 980l-24 -31M373 971l-9 -24M367 970l-14 -20M362 954l9 -19M344 947l13 -36M368 980l9 -30M361 961l-10 -37M350 967l16 -29M368 918l28 18M402 967l15 -18M381 938l14 -19M387 946l11 -36M403 953l-21 -33M427 952l-39 0M377 981l21 -34M385 974l-4 -19M399 936l8 -17M452 954l-25 -31M430 955l14 -23M412 951l21 -29M426 980l14 -26M428 973l-14 -30M441 961l-28 -31M406 946l19 -29M415 947l12 -16M419 959l-15 -30M464 952l5 -18M468 932l-16 35M458 968l-8 -20M461 956l-18 -28M434 952l25 25M468 976l-15 -25M467 918l-17 37M466 913l7 25M460 946l10 -29M496 962l-14 -19M506 955l-25 -33M482 973l-12 -34M478 979l15 -28M482 943l-8 -29M473 986l17 -38M491 938l-7 -22M489 946l-11 -24M491 912l23 29M534 951l-12 -18M529 943l-11 -22M506 969l12 -29M525 966l7 -17M552 944l10 -19M534 943l23 -29M530 959l19 -23M530 946l19 -35M543 940l7 -22M547 939l-19 3M548 963l-9 -27M535 963l4 -18M577 962l-7 -29M591 951l-23 -29M573 975l13 -17M582 954l9 -17M577 959l22 -29M589 955l-12 -20M595 957l-10 -18M580 948l25 -31M634 954l-19 -27M599 938l19 21M627 962l-18 8M596 927l9 30M609 954l-24 -29M633 965l11 -20M634 975l13 -17M657 964l-14 -32M644 954l-18 -21M656 946l10 -15M643 955l24 -29M666 979l-8 -24M669 951l-5 -18M673 942l23 -28M671 982l10 -37M705 946l-18 -34M718 953l-9 -34M696 963l5 -20M701 949l-16 -25M690 977l16 -27M709 963l7 -34M739 975l14 -37M728 967l-10 -25M723 971l11 -27M718 975l10 -16M741 964l7 -20M741 958l10 -39M181 982l8 -18M188 1009l14 -26M213 1019l17 -35M218 984l-7 -27M193 1015l24 -33M220 1008l-25 -31M225 1007l-6 -23M203 997l-6 -24M230 980l10 -15M263 1007l-21 -35M241 1019l10 -23M237 978l8 -18M273 998l-16 -25M274 1018l-8 -27M262 986l-5 -23M298 1007l-19 -21M268 1015l23 -29M279 984l-16 -23M277 982l13 -28M284 1001l-11 -23M280 997l8 -21M322 1002l-17 -35M296 1010l24 -29M294 1012l-7 -18M288 987l14 -36M306 993l12 -17M303 1014l-14 -16M317 1021l-14 -39M304 986l4 -20M282 980l17 -25M343 992l-19 -26M343 968l-8 24M337 1011l10 -20M318 994l13 -37M343 1013l9 -33M339 982l-8 -25M322 952l-1 34M352 1001l-21 -30M359 1010l-18 -22M368 985l10 -27M375 1023l-17 -30M388 991l-24 -31M389 997l-22 17M365 973l-9 25M342 995l26 1M363 1021l-6 -23M356 1017l16 -38M390 1014l12 -18M393 1017l13 -27M391 1019l-17 -20M402 979l-7 -18M415 983l-16 -18M401 985l-22 -35M412 1016l-13 -23M388 1013l13 -22M405 1025l-14 -37M429 988l-10 -19M410 994l15 -36M415 980l11 -19M426 1015l-13 -19M411 992l18 -24M432 992l16 27M415 1014l14 -33M425 992l-19 -23M435 1023l12 -30M429 1017l16 -31M455 1001l-8 -32M451 999l17 -37M452 998l-9 -35M461 1015l11 -32M433 1002l23 -27M639 1006l15 -23M637 1017l15 -23M638 1003l-22 -25M680 1010l-12 -23M668 1007l17 -23M668 1007l-9 -16M673 1003l-12 -21M675 990l7 31M702 998l-14 -24M681 1020l10 -35M702 1005l-7 -28M701 1004l-6 -18M690 983l12 -30M681 981l10 -20M683 999l15 -20M709 1002l9 -20M717 994l6 -26M730 992l9 -16M720 995l-6 -20M732 963l6 35M757 973l-32 15M717 998l25 -30M739 982l8 -18M764 1004l14 -25M778 984l-16 -22M760 992l5 -23M762 998l20 -28M762 1007l-21 -24M766 1018l-13 -19M764 1007l16 -21M743 1018l10 -38M775 992l8 -38M788 981l-6 -20M821 1000l-21 -35M803 1014l12 -38M826 1002l15 -17M798 992l18 -22M847 1021l15 -33M851 1000l18 -20M847 989l-6 -22M189 1032l-11 -15M183 1032l8 -32M220 1039l12 -35M210 1034l-8 28M215 1048l9 -19M215 1061l14 -29M206 1057l5 -17M237 1032l-12 -36M232 1031l12 -26M264 1034l-22 -34M291 1056l-12 -23M272 1062l10 -35M274 1026l-10 -16M289 1058l-7 -33M276 1033l16 -29M263 1014l3 20M288 1039l-14 -37M273 1037l-19 -36M289 1060l-11 -33M316 1048l-17 -29M316 1066l-12 -29M288 1042l21 -34M307 1037l-31 24M288 1053l6 -25M292 1028l15 -22M304 1040l-18 -36M302 1030l-18 -22M316 1049l-8 -37M314 1054l15 -21M343 1060l11 -21M350 1025l-19 -31M334 1062l-6 -23M329 1028l-6 -20M334 1033l-19 -27M341 1065l-22 -28M312 1011l20 2M353 1020l-12 -21M353 1064l11 -31M384 1045l-8 -23M361 1017l2 34M357 1030l-7 -29M357 1009l10 27M357 1040l29 3M356 1051l8 -31M378 1054l-11 -24M362 1060l-24 -33M409 1039l-15 -17M405 1031l-13 -17M417 1016l-19 14M421 1059l-25 -29M388 1037l22 -30M769 1028l7 -34M770 1034l-16 -20M771 1055l-8 -17M764 1029l10 -21M766 1050l-9 -26M790 1029l8 -21M791 1056l-5 -24M798 1029l-15 -17M797 1023l16 -23M789 1023l11 -26M796 1040l19 -32M822 1058l-14 -17M829 1028l7 -27M830 1059l-8 -19M871 1038l-17 -32M867 1039l-8 -27M852 1036l-13 -15M200 1040l-15 24M202 1108l-22 -28M210 1094l13 -21M198 1060l6 28M194 1089l12 -29M214 1060l-5 21M230 1086l-18 -27M196 1099l13 -15M242 1081l30 8M243 1101l22 -32M247 1074l7 -20M260 1077l22 -25M295 1103l-17 -35M295 1090l-13 -27M282 1079l11 -24M280 1110l16 -35M291 1103l-13 -20M256 1092l7 -21M309 1072l-7 -17M321 1084l-20 -27M301 1067l17 -29M287 1079l15 -37M280 1100l20 -25M315 1093l-6 -18M304 1099l-17 -28M312 1080l-10 -35M308 1085l10 -17M286 1065l10 -16M349 1098l-15 -19M318 1088l19 -28M344 1103l-9 -26M327 1089l13 -16M338 1085l16 -30M763 1092l-8 -33M765 1081l15 -27M774 1096l17 -27M792 1082l-12 -16M789 1071l18 -23M780 1070l7 17M789 1073l15 23M778 1096l10 -19M815 1066l-5 -25M823 1093l24 -29M843 1078l-14 -30M824 1110l-15 -36M849 1076l-21 -32M882 1103l-28 -32M849 1087l9 -27M864 1082l-7 -30M894 1098l-18 -36M898 1059l-6 -15M878 1104l8 -30M879 1083l16 -31M188 1126l10 -20M205 1109l-8 -23M204 1142l-11 -19M227 1130l-7 -25M232 1111l-13 -34M230 1129l12 -16M237 1125l-9 -18M257 1137l-7 -18M780 1126l15 -28M792 1110l-9 -24M813 1139l-22 -26M790 1121l-8 -24M794 1115l7 29M854 1132l9 -17M868 1146l-13 -22M852 1145l14 -27M862 1135l18 -31M898 1128l-12 -21M866 1126l13 -31M881 1147l8 -28M881 1090l16 13"/>
<path stroke="#1898c0" d="M413 1113l-27 -36M789 1158l-15 -19"/>
<path stroke="#1898c0" stroke-width="4.6" d="M640 766l20 -22M370 862l-11 -28M704 867l9 -19M208 977l13 -25M804 946l17 -26M882 976l-13 -15M898 1056l-6 -24M270 1111l9 -26M824 1116l-11 -16"/>
<path stroke="#1898c0" stroke-width="6" d="M525 801l-15 -31M522 815l20 -31M526 814l10 -24M582 847l-7 -20M421 861l-13 32M517 886l8 -33M577 890l-24 -27M649 879l9 -19M358 932l19 -22M403 903l-13 -18M457 879l23 13M499 914l14 -22M536 931l-5 -18M590 913l-9 -18M615 938l-21 -32M680 899l9 -30M265 956l15 -23M352 946l-15 -36M389 957l-22 10M467 945l27 -31M524 957l-16 -23M582 975l17 -37M608 966l13 -26M637 963l-14 -17M653 982l21 -31M721 964l-12 -14M213 1001l15 -17M271 987l-11 -23M310 1011l7 -23M315 998l10 -15M461 998l-22 -34M644 1005l41 3M737 988l-18 -22M794 1006l-18 -34M203 1028l-16 -30M228 1032l-10 -41M243 1009l-19 16M246 1041l21 -36M284 1025l-23 11M330 1061l19 -26M753 1048l22 -25M853 1044l-14 -35M200 1074l15 -27M233 1062l-8 18M264 1101l16 -27M286 1049l-11 34M774 1058l-16 15M806 1082l8 -25M864 1105l-7 -26M180 1152l-10 -33M194 1146l19 -34M239 1111l-7 -21"/>
<path stroke="#00f0f0" d="M759 757l50 19M699 853l-27 -40M794 862l-27 -55M824 859l-39 22M775 916l10 -43M432 1060l-26 -37M436 1084l30 -44M523 1121l16 -42M266 1166l-23 -30M751 1191l36 -61"/>
<path stroke="#00f0f0" stroke-width="4.6" d="M635 795l5 -23M625 744l4 27M639 766l-19 -22M607 823l-12 -39M616 845l23 -30M382 855l-15 -17M720 882l-18 -36M297 932l-16 -29M202 953l15 -21M771 978l-25 -33M834 953l-19 -21M837 956l11 -15M885 998l-7 -17M876 1008l-12 -36M898 1030l-12 4M274 1142l13 -27M816 1113l-15 -28M182 1165l9 -40M182 1178l-8 -21M217 1191l-17 -26M873 1188l-5 -25"/>
<path stroke="#00f0f0" stroke-width="6" d="M492 765l-5 -21M482 806l9 -24M515 788l-15 -33M509 805l16 -26M546 806l8 -19M553 778l-12 -22M560 763l-9 -19M577 785l-28 7M563 787l12 -18M440 821l-20 -26M451 858l-12 -34M449 822l8 -23M511 816l-18 -23M525 852l-13 -27M544 828l10 -16M539 842l12 -20M548 836l-10 -21M563 818l17 -18M584 853l17 -31M591 818l-24 -28M428 857l10 -22M464 889l-13 -16M494 860l30 12M520 888l9 -39M545 869l8 -25M595 873l-20 -27M591 878l-12 -25M592 879l6 -18M588 863l18 -26M615 860l-34 22M650 876l18 -23M692 885l-14 -23M376 928l19 -24M423 906l10 -35M406 916l19 -25M454 887l38 0M503 905l7 -31M514 933l15 -18M559 939l27 -30M586 928l14 -32M627 900l-14 -28M604 905l10 -37M632 902l-16 -25M605 877l-16 15M655 927l-9 -34M634 918l12 -17M634 906l10 -20M650 905l-10 -18M672 927l-17 -21M704 931l-10 -32M704 930l12 -17M266 936l-12 -14M359 960l4 -19M395 924l24 19M418 973l13 -25M457 950l-14 -20M487 955l18 -33M490 946l19 -36M516 954l-10 -24M517 958l5 -19M557 959l10 -32M558 943l-7 -25M560 983l22 -32M569 937l-1 23M597 970l20 -27M627 959l-7 -32M585 941l23 -28M593 958l13 -26M623 971l13 -40M628 951l11 -15M616 938l16 16M628 930l2 25M654 967l-23 -27M668 945l-11 -25M680 959l-16 -21M653 977l6 -25M692 967l-21 -24M677 956l18 17M686 962l11 -39M701 937l-24 6M179 995l10 -16M199 1021l16 -36M197 982l39 15M215 1005l11 -25M256 989l-32 3M250 1016l-5 -19M278 1007l17 -32M349 993l-6 -27M349 997l16 -26M394 1013l5 -20M425 970l-23 10M638 996l-16 -22M647 992l-20 -27M669 1009l21 -23M664 990l7 -20M702 981l26 3M699 981l-18 -25M728 988l-7 -21M769 1015l-20 -29M764 1000l-35 2M777 997l-9 -23M799 1014l-18 -28M771 984l20 -33M824 985l14 -31M842 998l-14 -18M830 983l9 -30M858 1006l19 -30M857 981l-7 -22M196 1049l-11 -29M185 1021l-15 -20M179 1051l-9 -20M224 1055l-18 -32M209 1050l-6 -24M208 1040l-8 -31M222 1050l-26 -32M251 1052l-20 -24M222 1054l15 -19M236 1036l18 -32M257 1050l-10 -24M273 1021l-13 -21M283 1056l19 -23M339 1039l-13 -15M369 1051l-10 -19M402 1049l9 -36M797 1063l-14 -36M825 1020l-19 -21M824 1053l-8 -27M856 1054l-8 -17M871 1028l-28 20M857 1032l-12 -15M180 1071l22 -35M183 1108l17 -38M173 1078l8 -23M195 1045l19 14M219 1086l11 -22M214 1077l15 -39M246 1106l-14 -36M235 1096l9 -30M239 1092l9 -30M274 1106l-14 -27M335 1106l15 -26M758 1070l-11 -21M756 1100l26 -31M765 1091l19 -35M820 1064l8 -18M857 1094l-8 -27M849 1088l-10 -27M886 1064l12 -17M872 1094l16 -37M199 1115l-24 -28M201 1128l-13 -20M207 1125l-9 -23M238 1134l-24 -34M222 1110l-12 -19M207 1109l-14 -25M226 1117l12 -25M262 1139l-9 -39M766 1147l26 -33M789 1134l14 -18M842 1107l17 23M851 1130l11 -28M830 1140l19 -37M893 1127l5 -14"/>
<path stroke="#10c030" stroke-width="4.6" d="M650 846l13 -18M660 839l6 -25M759 984l10 -40M898 1016l-6 -9M274 1123l12 -33M170 1164l6 -9M229 1184l-15 -24"/>
<path stroke="#10c030" stroke-width="6" d="M509 780l-7 -17M537 878l-17 -20M640 863l-6 -17M665 862l11 -28M658 920l-24 -32M682 917l-6 -27M685 887l-21 12M693 906l33 15M532 948l-7 -30M522 978l11 -38M686 971l21 -34M195 988l4 -18M177 1008l-7 -15M181 1019l22 -29M185 993l-15 -24M187 1003l6 -23M195 993l-11 -32M243 1000l-12 -19M734 996l21 6M867 1015l-15 -25M185 1051l16 -25M196 1023l-15 -25M175 1064l9 -27M236 1027l16 -23M759 1066l20 -34M196 1070l-26 3M177 1103l-7 -19M186 1066l13 -20M253 1098l8 -23M194 1133l-16 -31M170 1115l6 -10M188 1113l-18 -20M199 1088l-7 28M174 1136l-4 -14M205 1133l-4 -19"/>
<path stroke="#40e010" d="M814 819l22 -29"/>
<path stroke="#40e010" stroke-width="6" d="M659 858l16 -32M170 1003l26 8M170 1030l6 -8M180 1086l15 -34M170 1097l12 -27M191 1131l-21 -26"/>
<path stroke="#c8f000" stroke-width="4.6" d="M206 1173l-20 -33"/>
<path stroke="#c8f000" stroke-width="6" d="M666 884l5 25M183 1038l9 -25M182 1137l-12 -17"/>
<path stroke="#000" stroke-width="8.6" stroke-linecap="round" d="M422.9 829.7V834.1M352.0 870.0V874.4M373.0 894.7V920.7M351.0 928.2V932.6M421.7 914.0V918.4M421.7 932.5V961.0M446.7 956.9V972.8M469.9 951.7V956.1M519.5 914.9V934.1M303.2 961.8V966.2M255.1 981.5V996.4M302.0 969.9V981.2M227.9 1022.4V1026.8M180.4 1029.8V1034.2M179.5 1050.3V1084.7M206.3 1068.0V1090.6M226.4 1071.4V1164.6M274.3 1056.2V1092.3M323.3 1037.0V1051.9M322.4 1075.9V1080.3M372.1 1031.0V1055.9M543.3 993.5V997.9M566.2 987.2V1009.8M542.1 1033.7V1038.1M541.2 1056.2V1070.4M590.2 1052.7V1057.1M613.1 1141.0V1145.4M731.9 1150.3V1154.7M806.9 988.9V999.7M875.7 1007.9V1012.3M780.7 1052.3V1075.1M872.7 1096.6V1117.5M854.7 1146.2V1174.7"/>
</g>
<g fill="none" stroke-width="3.8" stroke-linecap="round">
<path stroke="#0000ff" d="M993 814l-15 -18M1044 783l-25 -39M1157 747l-12 67M1258 817l42 -49M1278 744l23 54M1503 789l-16 -22M1623 819l27 -39M1691 817l-37 -43M1712 751l-36 15M991 852l-13 -20M998 826l18 -21M1030 823l25 -29M1061 843l12 -40M1076 818l20 -33M1160 844l-35 -53M1257 826l-18 -29M1229 832l16 -45M1295 816l16 -31M1441 836l-27 -32M1428 832l-10 -42M1684 835l15 -50M1680 825l20 -38M987 882l27 -36M1059 874l-16 -35M1083 884l-18 -47M1226 915l-18 -69M1245 894l-11 -38M1325 871l-16 -30M1033 929l-13 -40M1044 927l10 -42M1059 900l18 -21M1158 933l-25 -43M1209 934l-21 -62M1240 940l13 -45M1241 912l28 2M1535 905l12 -32M1581 923l-29 -40M1624 930l-19 -38M1599 907l-10 -25M1127 958l25 -40M1226 960l-17 -30M1264 952l-8 -38M1312 971l-7 -25M1460 951l14 -23M1459 942l-18 -33M1481 967l21 -27M1498 980l10 -44M1508 971l-17 -22M1533 977l16 -24M1576 975l-14 -41M1600 961l22 -39M1599 978l-18 -48M1641 968l-18 -42M1607 972l28 -45M1119 1006l-9 -22M1159 1009l-16 -42M1124 962l27 20M1201 998l16 -43M1179 984l23 -33M1227 947l-3 41M1231 1014l22 -43M1449 1018l16 -35M1469 1007l10 -36M1501 1014l-25 -40M1527 1015l-7 -34M1521 998l21 -25M1646 991l23 -26M1674 1017l-14 -36M1121 1061l18 -23M1131 1068l13 -40M1201 1054l-29 -39M1416 1002l-18 45M1439 1055l-9 -39M1506 1033l-39 28M1522 1035l30 -43M1643 1034l10 -32M1358 1095l15 -38M1409 1091l-27 -39M1433 1088l-15 -38M1462 1077l-14 -40M1534 1090l9 -38M1678 1107l-23 -36M979 1123l12 -17M1015 1129l16 -27M1381 1112l-22 -31M1397 1103l-15 38M1500 1107l-11 41M1529 1147l10 -42M1581 1148l15 -46M985 1183l16 -28M1049 1169l20 -36M1061 1165l25 -44M1090 1159l5 31M1246 1173l28 -32M1290 1156l-29 -42M1281 1191l11 -25M1362 1125l39 29M1549 1191l-11 -29M1642 1191l10 -41"/>
<path stroke="#0000ff" stroke-width="4.6" d="M1499 760l11 17M1526 764l-10 -20M1502 764l9 -19M1542 809l-10 -36M1537 763l12 -19M1608 795l-38 0M1283 857l-16 -32M1251 827l7 -21M1272 848l-14 -29M1375 817l-21 -33M1380 827l-13 -39M1402 854l-7 -26M1381 858l-10 -35M1463 819l11 34M1495 823l-6 -23M1486 833l11 -26M1590 831l-20 -35M1655 832l-28 -31M1631 839l14 -30M1666 814l-12 -27M1678 833l-21 -32M1001 860l14 15M1026 890l-19 -24M1024 867l6 -21M1264 862l15 -21M1289 886l-15 -17M1272 886l13 -27M1243 861l19 -27M1315 848l-19 2M1287 861l14 -37M1281 882l16 -26M1275 863l22 -33M1300 883l11 -24M1363 888l12 -28M1371 863l-12 -29M1389 876l19 -28M1379 836l9 34M1395 898l-13 -34M1400 882l15 -29M1424 882l-18 -22M1420 870l-9 -18M1463 890l-12 -17M1435 882l26 -29M1592 852l-22 5M1610 862l5 -20M1620 881l-16 -38M1612 869l9 -39M1632 881l-19 -33M1638 865l10 -31M1643 871l10 -21M1624 873l10 -32M1663 882l16 -34M1650 860l17 -31M1712 835l-22 18M992 934l-13 -21M999 919l8 -33M995 916l-16 -18M979 918l8 -12M1291 912l9 -22M1313 929l-6 -19M1345 897l-12 -16M1369 884l3 24M1379 901l-9 -22M1362 906l18 -25M1397 873l-15 30M1401 907l-19 -28M1369 929l14 -30M1423 915l13 -20M1422 909l-25 -33M1430 905l10 -34M1442 935l-7 -24M1431 934l25 -31M1471 930l-17 -22M1530 935l-9 -27M1521 933l-12 -37M1530 922l-22 -28M1643 919l-35 2M1641 916l-14 -35M1650 898l-14 -29M1648 938l14 -31M1701 906l-14 -24M1003 966l-23 -28M1040 944l-19 0M1038 970l-15 -34M1024 956l-12 -21M1035 959l-9 -22M1042 975l10 -21M1059 941l15 -27M1065 975l-18 -26M1079 971l-16 -37M1077 955l-17 -38M1352 982l-22 -32M1385 954l8 -29M1381 973l9 -29M1388 957l17 -23M1389 947l18 -21M1417 953l9 -28M1415 929l15 11M1675 940l-9 -22M1657 975l-7 -31M1685 966l-18 -36M1633 943l38 13M1658 942l-13 -30M1702 969l8 -20M1689 978l-7 -32M1699 960l-12 -14M1008 992l-8 -20M1015 1009l-10 -18M1016 1014l-8 -35M1018 1015l-10 -28M1064 1000l12 -38M1067 1020l9 -26M1088 1003l-9 -27M1286 1004l-14 -19M1295 988l-35 12M1271 996l12 -37M1385 1017l-14 -18M1414 978l-22 10M1387 1008l-21 -33M1440 1002l-20 -34M1427 1011l-15 -22M1416 996l-8 -29M1703 1013l-11 -15M1704 993l8 -21M1712 995l-11 -18M1696 993l-9 -24M1021 1049l-15 -29M1018 1056l-7 -33M1054 1044l-15 -21M1068 1037l-17 -27M1043 1058l10 -22M1053 1046l10 -19M1095 1059l-19 -25M1064 1040l19 -34M1108 1030l-24 2M1074 1004l22 33M1184 1033l19 -34M1231 1035l25 -29M1238 1022l-20 -22M1236 1055l-20 -28M1254 1043l-15 -29M1258 1031l6 -22M1274 1031l-6 -23M1275 1062l-12 -27M1331 1033l-11 15M1325 1028l19 -32M1340 1034l-15 -20M1360 1030l-10 -39M1339 1064l23 -31M1351 1046l8 -31M1403 1025l-11 -16M1381 1021l36 22M1712 1021l-6 -8M1712 1063l-17 -26M1697 1053l-17 -38M984 1102l-5 -22M1027 1047l-12 21M1035 1079l-13 -19M1020 1089l21 -26M1070 1087l-26 -30M1054 1079l16 -28M1059 1100l11 -25M1247 1103l7 -23M1228 1074l-10 -21M1280 1077l12 -32M1284 1105l7 -26M1288 1046l17 15M1300 1078l14 -18M1311 1082l-19 -24M1069 1132l-15 -19M1042 1095l-6 26M1082 1129l6 -25M1087 1103l-15 16M1090 1131l-9 -24M1145 1131l8 -26M1129 1121l8 -19M1150 1107l13 -28M1187 1133l-10 -32M1170 1127l22 -29M1265 1126l-12 -16M1280 1122l-8 -35M1291 1113l20 -27M1337 1148l10 -37M1334 1100l-28 1M1117 1158l14 -30M1110 1191l15 -27M1134 1191l-12 -26M1145 1187l7 -24M1161 1149l-14 -27M1188 1156l-8 24M1169 1170l-14 -27M1191 1189l13 -32M1195 1191l-11 -19M1241 1160l-11 -15M1243 1183l17 -24"/>
<path stroke="#0000ff" stroke-width="6" d="M1501 841l13 -35M1518 828l-15 -32M1492 836l20 -24M1533 832l-25 -30M1494 839l32 3M1536 837l-12 -14M1554 839l-25 -32M1552 838l12 -30M1606 844l-9 -22M1527 866l-6 -19M1530 846l-23 30M1507 876l-17 -27M1539 871l17 -37M1550 866l13 -16M1483 911l-16 -32M1471 912l16 -30M1347 942l14 -22M1358 942l-14 -26M1355 938l5 -22M1364 961l10 -39M1365 968l-10 -20M1352 952l13 -17M1052 985l-14 -32M1056 1020l8 -32M1072 990l-10 -25M1065 1020l-15 -25M1052 986l17 -26M1295 999l-16 -38M1308 993l-8 -36M1298 1010l-5 -23M1322 993l-8 -32M1322 993l16 -18M1354 1006l12 -33M1383 1021l-18 -29M1338 990l17 -29M1349 1014l-9 -26M1112 1041l-24 -29M1124 1034l9 -32M1102 1061l-6 -23M1098 1046l10 -39M1095 1037l16 23M1295 1054l5 -19M1300 1030l-8 -17M1309 1056l-10 -40M1303 1031l-17 -23M1291 1045l-7 -17M1091 1070l-17 -35M1101 1089l-6 -22M1084 1085l-27 -31M1080 1079l19 7M1073 1086l-7 -32M1111 1063l-22 1M1111 1087l-15 -18M1112 1092l20 -34M1106 1070l-9 -23M1125 1059l11 -16M1155 1101l-15 -19M1160 1083l-13 -17M1166 1073l-17 -20M1137 1094l-9 -18M1217 1077l7 -21M1266 1109l17 -33M1269 1089l-10 -34M1262 1095l13 -24M1264 1104l23 -30M1252 1062l6 -17M1323 1087l-7 -26M1319 1072l11 -36M1322 1073l-16 -25M1118 1133l22 -30M1120 1123l-15 -29M1117 1138l-19 -35M1114 1128l-13 -29M1199 1112l11 -15M1190 1105l5 -21M1200 1113l-16 -31M1212 1110l-16 -22M1237 1100l20 14M1240 1147l14 -36"/>
<path stroke="#1898c0" d="M1205 806l-37 -51M1386 744l24 25M1216 848l-22 -29M1033 924l29 -39M1540 917l9 -31M1122 1020l-16 -40M1580 1108l-30 -43M1325 1191l7 -31"/>
<path stroke="#1898c0" stroke-width="4.6" d="M1515 766l7 -21M1568 836l-10 -17M1259 896l-8 -32M1445 867l-27 -31M1625 856l-15 -22M1668 892l5 -22M1647 892l16 -20M979 893l18 -24M1389 895l8 -19M1464 940l-7 -30M1696 924l16 -23M1081 949l-17 -26M1699 954l9 -31M1057 1038l16 -39M1264 1060l-11 -31M1165 1090l8 -22M1229 1079l18 -34M1143 1132l-20 -30M1256 1134l16 -29M1291 1109l-7 -31M1116 1174l34 15M1196 1189l-18 -37"/>
<path stroke="#1898c0" stroke-width="6" d="M1506 820l7 -23M1553 810l-10 -21M1511 868l-20 -25M1539 859l19 -27M1544 894l24 -30M1297 972l13 35M1310 997l11 -33M1344 985l9 -20M1068 1080l10 -15M1105 1097l-10 -25M1109 1131l26 -33M1212 1126l8 -31"/>
<path stroke="#00f0f0" d="M1009 781l-23 -30M1177 789l-10 -38M1434 798l38 -47M981 851l13 -43M1118 847l9 -26M987 839l11 21M1080 867l22 -27M1154 867l31 24M1356 888l-27 -33M1111 942l13 -50M1272 921l-13 -44M1553 932l18 -25M1454 958l19 -40M1477 962l-13 -35M1184 1011l-28 -35M1609 973l32 36M997 1039l16 -42M1462 1047l-7 -26M1664 1068l24 -36M1431 1083l-17 -25M1694 1082l17 -32M1026 1138l-9 -28M1036 1180l18 -23M1297 1191l14 -23M1596 1183l20 -26"/>
<path stroke="#00f0f0" stroke-width="4.6" d="M1516 790l15 -34M1551 809l-24 -28M1296 815l-38 6M1378 841l-17 -38M1389 813l-14 35M1485 857l21 -33M1486 844l-16 -32M1644 839l8 -34M1665 845l19 -32M1377 875l-19 -27M1446 868l-18 -24M1448 865l11 -28M1455 862l11 -27M1586 874l-19 -22M1603 861l8 -19M1651 869l12 -33M1650 895l22 -35M1712 856l-27 8M1703 897l-22 -33M993 908l21 6M1347 931l-24 -34M1330 924l-9 -28M1438 911l-6 -17M1448 910l-12 -14M1446 914l-15 -30M1507 930l13 -22M1672 912l16 -20M1712 917l-7 -12M993 948l10 -24M1320 968l-6 -23M1442 945l-25 -30M1400 950l17 -21M1007 982l-9 -27M999 1004l18 -26M1025 1011l-19 -32M1092 985l-17 -26M1258 996l-4 -19M1263 997l-13 -29M1373 1019l19 -34M1712 1001l-6 -20M1007 1047l11 -17M1090 1045l12 -30M1197 1028l18 -22M1229 1050l11 -15M1270 1023l10 -20M1321 1064l25 -32M1345 1054l-10 -28M1385 1033l18 21M979 1074l16 -35M1020 1095l-15 -22M1053 1078l-8 -38M1039 1072l25 -30M1150 1077l24 21M1165 1080l7 -23M1253 1106l-8 -32M1071 1124l-14 -18M1098 1123l-28 18M1192 1135l-12 -28M1182 1128l-13 -17M1255 1114l30 12M1284 1142l7 -30M1348 1134l-11 -17M1121 1191l-5 -20M1155 1132l8 28M1169 1147l-36 19M1178 1187l17 -20M1169 1153l-14 -23M1212 1171l16 -28M1197 1155l-9 -18M1247 1162l-12 -29"/>
<path stroke="#00f0f0" stroke-width="6" d="M1518 802l10 37M1553 817l-13 -29M1537 841l17 -23M1626 827l-13 -15M1479 884l10 -16M1517 865l9 -28M1535 849l27 22M1546 859l6 -28M1480 899l-10 -15M1043 1003l-9 -39M1306 1005l-8 -32M1312 1003l-7 -23M1326 1001l-6 -25M1358 1011l12 -19M1099 1039l22 -30M1285 1038l18 -26M1093 1080l-17 -22M1125 1079l-12 -23M1126 1086l18 -28M1202 1074l11 -19M1226 1105l-22 -25M1255 1093l8 -24M1255 1061l11 -19M1340 1084l-15 -18M1123 1121l5 -19M1122 1126l-13 -26M1227 1112l-12 -36"/>
<path stroke="#10c030" d="M1468 782l17 -38M1605 791l-7 -25M1016 828l14 -21M1044 883l24 -27M1035 903l-24 -30M1003 1050l-18 -50M1586 1184l-32 -40"/>
<path stroke="#10c030" stroke-width="4.6" d="M1544 770l21 -25M1583 806l11 -17M1565 801l19 -30M1453 853l-9 -29M1577 813l10 -16M1641 824l-7 -18M1378 888l5 -23M1556 863l11 -24M1322 909l16 -35M1648 925l-16 -32M979 940l7 -18M1329 973l7 -21M1332 943l-27 -31M985 992l11 -31M1712 1014l-14 -18M1007 1083l-19 -28M1161 1082l11 -19M1090 1115l-5 -23M1177 1116l13 21M1297 1140l-10 -23M1298 1093l3 21"/>
<path stroke="#10c030" stroke-width="6" d="M1507 808l5 20M1606 839l-20 -29M1584 825l16 -21M1503 872l-12 -30M1488 843l-24 28M1514 867l11 -38M1484 941l10 -36M1485 922l-9 -36M1294 987l-12 -38M1310 986l19 -31M1180 1055l37 4M1219 1101l-7 -20M1210 1073l-7 -25M1333 1097l-13 -32M1254 1128l-14 -39M1227 1132l20 -28M1220 1130l14 -37"/>
<path stroke="#40e010" d="M1599 799l11 -20"/>
<path stroke="#40e010" stroke-width="4.6" d="M1553 776l13 -16M1477 821l-41 5M1557 826l16 -39M1322 937l9 -33M996 976l19 -21M1003 1092l-9 -41M1179 1076l10 -40M1290 1131l-5 -21"/>
<path stroke="#40e010" stroke-width="6" d="M1483 851l-7 -19M1476 903l-10 -17M1318 984l7 -19M1207 1107l-23 -30M1237 1142l-14 -37"/>
<path stroke="#c8f000" d="M1620 803l-13 -32"/>
<path stroke="#c8f000" stroke-width="4.6" d="M1568 809l-12 -32M1595 863l-18 25M1316 935l12 23M992 1016l-12 -26"/>
<path stroke="#c8f000" stroke-width="6" d="M1588 832l15 -23M1614 831l-9 -18M1496 872l-7 -22M1475 894l7 -29M1493 896l-25 -28M1329 985l-7 -19"/>
<path stroke="#e8e800" stroke-width="4.6" d="M990 1020l17 -37"/>
<path stroke="#e8e800" stroke-width="6" d="M1616 833l9 -25M1487 897l16 -35"/>
<path stroke="#0000ff" d="M1041 785l-24 -41M1067 792l-35 -48M1214 744l-5 39M1278 767l-14 51M1400 802l38 -47M1612 804l-8 -33M1620 770l15 -26M1665 772l-13 -28M1705 820l-13 -44M986 844l-8 -9M1018 823l26 26M1078 853l-32 -40M1062 812l-14 -19M1130 844l-24 -36M1139 856l31 -60M1226 820l12 -20M1229 860l15 -39M1298 858l-21 -44M1434 848l-30 -34M1421 843l-17 -23M1701 835l10 -18M991 843l-13 9M1000 829l-21 32M1066 873l19 -32M1117 896l-34 -63M1227 890l9 -42M1238 881l15 -29M1339 895l-31 -38M1065 887l-30 8M1067 931l19 -31M1102 897l-23 -27M1155 948l22 -46M1200 921l10 -39M1249 918l7 -24M1271 905l11 -41M1535 910l-10 -34M1583 939l10 -31M1597 912l25 10M1095 963l38 -46M1172 960l-9 -40M1229 963l15 -58M1285 948l15 -25M1276 954l14 -30M1470 956l-11 -28M1477 956l8 -25M1504 954l-25 7M1504 968l-11 -48M1492 977l12 -21M1557 956l-20 -38M1591 977l-25 -31M1604 979l12 -50M1634 979l-8 -32M1630 963l11 -24M1116 1026l21 -41M1097 1014l31 -37M1136 1025l16 -47M1166 1017l8 -30M1210 956l-26 42M1221 1006l7 -25M1219 997l15 -22M1433 993l17 -43M1453 1001l11 -22M1487 1004l-18 -46M1488 997l18 -26M1507 986l-9 -29M1585 1019l-12 -57M1675 1025l-9 -40M1659 995l6 -25M1151 1065l-27 -37M1179 1040l6 -30M1161 1054l17 -29M1420 1061l5 -25M1466 1053l-19 -26M1508 1039l29 -41M1584 1041l-33 -61M1662 1031l18 -24M1362 1083l-15 -37M1390 1092l-11 -47M1433 1102l-23 -40M1523 1077l-11 -32M1554 1083l12 -45M1693 1081l14 -29M994 1143l-15 -30M1036 1124l-25 -28M1344 1151l20 -60M1436 1149l-28 -42M1513 1131l19 -26M1537 1134l34 -43M1590 1109l12 -31M1046 1191l-8 -32M1088 1191l15 -31M1064 1150l9 -23M1260 1191l-8 -24M1287 1180l-21 -44M1307 1191l15 -23M1318 1121l51 42M1459 1161l28 -41M1618 1191l11 -35M1689 1191l-27 -48"/>
<path stroke="#0000ff" stroke-width="4.6" d="M1506 791l-15 -33M1497 798l18 -20M1504 764l7 -20M1524 807l10 -22M1546 787l-21 12M1569 793l10 -20M1271 845l11 -26M1274 817l6 -18M1375 823l-19 -36M1365 814l7 -22M1390 817l-20 -26M1392 812l-10 -22M1476 835l-19 -31M1491 824l8 -19M1464 828l12 -22M1488 832l-11 -19M1588 858l-15 -38M1619 817l12 -19M1626 825l15 -18M1654 835l-5 -20M1671 844l-7 -31M1027 872l17 -31M1030 855l-12 23M1012 864l19 -31M1274 899l-15 -32M1261 843l19 13M1266 891l-6 -24M1262 861l9 -19M1312 842l-23 3M1298 861l23 28M1296 885l4 -18M1305 891l-15 -21M1286 891l5 -21M1388 845l-29 5M1371 863l-1 32M1389 900l-15 -39M1392 880l-8 -26M1414 885l19 -25M1423 886l-8 -26M1419 875l18 -22M1419 857l11 -24M1467 861l-26 14M1461 852l9 -17M1590 884l-13 -19M1599 862l9 -29M1617 879l-18 -29M1601 886l24 -31M1640 864l-10 -17M1650 859l-14 -28M1626 863l18 -22M1658 884l11 -23M1660 856l15 -27M1702 886l-12 -19M1710 871l-19 -25M1007 922l-13 -30M993 907l-14 -31M987 922l-8 -12M986 917l22 -26M1304 901l-21 -26M1285 936l6 -24M1327 897l-15 -23M1369 926l-13 -15M1382 932l-24 -31M1388 923l11 -24M1369 907l13 -34M1407 940l-16 -36M1390 942l-23 -34M1435 912l-16 -24M1426 918l-18 -27M1434 932l-14 -27M1454 896l8 -22M1449 930l-11 -24M1464 928l-24 -33M1497 910l11 -18M1535 902l-23 2M1517 907l9 -39M1638 914l10 -38M1622 904l14 -39M1656 900l17 -30M1677 905l-5 -20M1703 925l-17 -33M1034 967l-16 -36M1009 955l6 -20M1004 947l10 -25M1006 981l21 -35M1022 947l15 -21M1044 945l-11 -27M1051 945l-15 -29M1062 984l18 -33M1075 943l16 -23M1074 938l3 25M1396 957l-18 -24M1386 948l7 -21M1391 953l12 -35M1389 946l-11 -15M1403 962l23 -31M1425 968l20 -27M1426 955l-12 -20M1672 961l-21 -33M1677 938l-17 -21M1666 977l-13 -20M1651 953l10 -27M1712 942l-10 -12M1690 965l-8 -24M1710 964l-9 -30M1700 941l-9 -29M1009 1005l17 -27M1016 998l-16 -38M1041 1012l-8 -36M1087 996l18 -34M1076 1014l-8 -21M1090 1013l-15 -33M1087 1010l9 -23M1271 984l-5 -18M1277 1019l-20 -37M1397 1017l8 -27M1406 1006l-25 -34M1394 1011l-23 -26M1384 999l17 -27M1425 996l-28 -32M1435 1001l-11 -28M1431 1017l-11 -20M1712 1011l-8 -24M1704 1019l-12 -22M1712 992l-19 -28M1031 1067l9 -33M1024 1008l19 36M1020 1047l-7 -20M1053 1054l-9 -25M1030 1050l16 -26M1055 1058l14 -34M1088 1029l-17 -38M1077 1025l-13 -26M1076 1058l12 -22M1081 1012l17 11M1214 1035l-12 -30M1216 1027l-16 -34M1255 1057l-11 -18M1249 1034l-9 -21M1245 1021l13 29M1261 1037l22 -31M1269 1050l-20 -27M1268 1062l21 -35M1310 1056l16 -38M1311 1034l21 -27M1351 1061l-14 -20M1342 1056l-22 -29M1359 1021l7 34M1351 1026l11 -32M1399 1029l-30 28M1400 1032l-7 -20M1401 1028l-17 -27M1706 1046l6 -22M1692 1058l14 -17M984 1088l21 -24M988 1100l15 -21M1035 1057l-26 10M1004 1084l20 -28M1018 1040l-5 38M1036 1081l25 -29M1056 1085l19 -36M1166 1085l6 -23M1216 1070l24 -31M1233 1076l23 1M1286 1070l9 -17M1281 1109l11 -37M1277 1066l13 -22M1317 1099l-12 -35M1039 1106l12 -17M1031 1128l20 -26M1058 1142l-22 -25M1080 1139l-21 -36M1080 1147l-15 -27M1074 1110l10 -28M1139 1116l-9 -38M1134 1104l9 -17M1167 1138l-17 -31M1174 1124l19 -31M1174 1109l-10 -15M1281 1144l-8 -25M1278 1143l8 -25M1274 1125l20 2M1350 1128l-13 -32M1112 1191l4 -18M1109 1154l7 -29M1115 1158l-8 -19M1137 1163l18 -35M1119 1173l37 3M1150 1191l-11 -23M1164 1155l9 -17M1177 1178l-14 -19M1198 1191l11 -23M1231 1161l-23 -35M1225 1169l9 -19M1236 1175l-6 -20"/>
<path stroke="#0000ff" stroke-width="6" d="M1507 833l16 -26M1525 842l-12 -24M1510 828l11 -30M1508 830l-5 -23M1514 858l19 -33M1541 841l-6 -20M1543 831l19 -30M1627 819l-17 -31M1473 890l19 -28M1500 854l16 -22M1509 880l7 -25M1540 861l-32 26M1521 889l18 -27M1544 860l12 -29M1488 931l10 -19M1366 965l18 -35M1337 961l22 -29M1344 975l9 -35M1352 978l9 -40M1368 966l-13 -39M1352 968l21 -29M1339 968l15 -37M1026 980l25 12M1060 1017l-12 -34M1056 985l-3 19M1055 993l7 -33M1295 1014l8 -30M1288 998l14 -30M1280 1016l18 -28M1310 1009l-18 -28M1314 1023l12 -31M1353 985l-12 -35M1342 986l22 -34M1365 988l-26 12M1375 1014l-11 -23M1368 1010l-7 -20M1120 1032l-19 7M1119 1032l-10 -21M1097 1065l10 -39M1120 1044l-8 -25M1092 1035l14 -17M1297 994l13 39M1283 1029l8 -24M1299 1059l-10 -35M1307 1061l-5 -21M1289 1052l-8 -24M1089 1069l15 -30M1077 1073l7 -19M1079 1073l8 -20M1075 1082l-10 -21M1099 1083l-10 -26M1116 1051l23 13M1118 1078l-17 7M1130 1088l-4 -19M1100 1098l9 -37M1119 1098l24 -31M1138 1083l8 20M1153 1089l11 -16M1146 1071l23 -27M1158 1068l-12 -18M1213 1102l-6 -24M1246 1087l12 -16M1283 1071l-5 -19M1263 1085l-12 -17M1263 1093l-9 -41M1339 1069l8 -21M1314 1084l16 -31M1321 1077l-14 18M1318 1078l22 -27M1111 1123l-8 -18M1122 1139l-16 -33M1116 1110l-15 -27M1121 1132l7 -20M1225 1145l-26 -32M1213 1136l-4 -18M1207 1116l15 -19M1233 1122l-25 6M1221 1147l8 -37"/>
<path stroke="#1898c0" d="M1223 803l47 -52M1475 787l7 -33M1053 859l17 -35M1102 926l16 -71M1234 968l-10 -39M979 1051l15 -18M1454 1135l-19 -32"/>
<path stroke="#1898c0" stroke-width="4.6" d="M1386 847l-6 -19M1633 826l17 -26M1359 876l12 -17M1424 870l-15 -18M1640 875l-10 -17M1665 872l9 -20M1701 872l11 -14M1342 904l6 -26M1429 940l-14 -31M1688 908l-10 31M1704 926l-12 -16M1400 962l-18 -36M1079 987l-9 -35M1060 1047l13 -33M997 1090l17 -19M1242 1076l18 -32M1095 1124l-13 -15M1177 1133l11 -17M1275 1104l-8 -20M1331 1123l17 -20M1153 1155l19 -26M1158 1189l18 -26"/>
<path stroke="#1898c0" stroke-width="6" d="M1547 849l6 -20M1561 856l-11 -35M1521 876l-17 -27M1560 853l-11 -15M1064 997l-14 -23M1290 1021l25 -33M1362 1017l13 -31M1107 1051l-14 -31M1114 1096l10 -41M1318 1098l-8 -35M1095 1146l22 -29M1198 1118l-14 -18"/>
<path stroke="#00f0f0" d="M993 781l-14 -32M1252 820l-26 -65M1599 769l21 -25M1013 821l21 -35M1144 833l-36 16M1011 854l-26 45M1124 890l12 -31M1185 901l-15 -54M1015 901l17 15M1239 932l-24 -30M1268 927l-16 -37M1627 942l-26 -37M1433 973l13 -22M1630 974l-13 -33M1443 1025l17 -38M1666 1023l15 -49M1422 1030l-12 -22M1436 1059l15 -45M1357 1074l-18 -35M1463 1086l30 -40M993 1148l23 -28M1645 1128l-17 -49M1085 1154l14 -31M1318 1176l-27 -43M1643 1169l20 -66"/>
<path stroke="#00f0f0" stroke-width="4.6" d="M1531 813l-16 -30M1538 784l-11 -26M1359 805l4 21M1359 832l-9 -33M1432 834l9 -20M1484 840l10 -17M1478 838l13 -22M1645 854l-15 -31M1653 816l8 -17M1418 882l5 -21M1452 850l-10 33M1454 887l-15 -30M1577 898l15 -32M1574 881l-8 -26M1598 854l-15 -18M1692 860l-33 13M1703 853l-17 -22M1701 888l-11 -26M1678 873l17 -23M1302 910l11 -19M1338 934l8 -21M1394 910l-21 -33M1413 890l18 32M1455 935l6 -25M1524 902l-14 -16M1537 908l-23 -27M1647 886l19 31M1699 921l13 -31M1037 952l-6 -25M1397 978l-9 -38M1421 978l-14 -26M1690 955l-14 -25M1001 981l-13 -21M1032 1025l-21 -31M1030 989l9 -35M1086 1009l-14 -20M1277 1005l-14 -27M1276 1013l-21 -32M1712 984l-6 -16M1703 996l9 -13M1057 1035l-14 -37M1192 1011l5 40M1210 1053l-15 -36M1230 1056l20 -23M1261 1030l16 -18M1345 1051l-10 -23M1325 1019l38 12M1691 1037l16 -35M1044 1073l-18 -23M1046 1090l-4 -18M1067 1065l-10 -23M1041 1094l17 -23M1170 1088l-8 -36M1234 1076l10 -22M1239 1100l-12 -20M1068 1134l7 -24M1157 1120l-16 -20M1199 1111l-19 10M1271 1113l15 -30M1268 1149l-22 -28M1315 1145l-15 -24M1323 1125l-16 -32M1115 1170l15 -34M1144 1191l14 -22M1145 1185l-6 -28M1189 1149l-8 -26M1175 1162l-27 -32M1218 1154l-5 33M1233 1147l9 -19M1217 1161l16 -23"/>
<path stroke="#00f0f0" stroke-width="6" d="M1501 817l23 -33M1537 837l25 -31M1553 854l-10 -39M1490 856l11 38M1512 869l-17 -21M1500 884l8 -33M1555 863l-5 -20M1565 867l-16 -19M1498 929l-7 -17M1064 964l-18 18M1304 1022l-23 -28M1350 1006l-15 -37M1344 994l-11 -26M1357 986l22 -32M1108 1051l-11 -34M1291 1034l14 -19M1076 1077l5 -20M1121 1105l17 -32M1146 1095l-24 -29M1191 1089l7 -27M1204 1067l-20 23M1290 1074l-18 -35M1335 1039l7 41M1308 1063l12 -15M1131 1111l-13 -15M1128 1112l-24 -34M1232 1124l12 -34"/>
<path stroke="#10c030" d="M1466 802l8 -28M1625 806l-15 -22M1419 835l-21 -45M1042 872l12 -20M1557 930l14 -20M1486 1106l-24 -34"/>
<path stroke="#10c030" stroke-width="4.6" d="M1592 805l-10 -19M1576 779l-7 23M1446 853l-9 -38M1570 820l-5 -21M1584 843l9 -17M1613 856l19 -37M1561 868l16 -22M1574 877l-12 -18M1346 902l-12 -28M984 977l16 -28M982 961l-4 -6M1334 952l-9 -29M1330 960l-9 -16M1005 998l-7 -30M987 1084l22 -30M987 1074l-8 -10M1188 1058l-19 32M1153 1119l10 -17M1196 1124l-19 -34M1299 1104l17 -20M1164 1179l-17 -20"/>
<path stroke="#10c030" stroke-width="6" d="M1548 816l-10 -24M1610 820l-20 -30M1612 799l-7 38M1485 880l-20 -24M1515 883l12 -38M1534 866l-6 -29M1488 932l-9 -39M1480 912l-9 -32M1282 1006l9 -25M1152 1088l-22 -34M1211 1060l11 -17M1217 1081l-18 -21M1211 1071l-8 -18M1130 1145l-11 -29M1248 1140l-7 -27M1222 1139l23 -33M1251 1132l-12 -37"/>
<path stroke="#40e010" d="M1590 903l-3 45"/>
<path stroke="#40e010" stroke-width="4.6" d="M1570 757l33 3M1579 837l-19 -31M1575 873l-14 -35M1000 938l-7 -21M1323 956l-8 -24M1001 1102l8 -25M1154 1064l24 23M1303 1107l-15 -22"/>
<path stroke="#40e010" stroke-width="6" d="M1472 914l-7 -22M1486 903l10 -17M1310 1003l11 -25M1237 1118l-9 -29M1238 1110l-19 25"/>
<path stroke="#c8f000" d="M1008 1035l-18 -35"/>
<path stroke="#c8f000" stroke-width="4.6" d="M1448 851l13 -38M1341 974l-9 -31M1326 972l-6 -22"/>
<path stroke="#c8f000" stroke-width="6" d="M1611 815l13 -26M1609 832l-18 -34M1484 860l5 -23M1467 885l17 -34M1484 903l8 -22M1206 1076l7 -23"/>
<path stroke="#e8e800" stroke-width="6" d="M1589 843l20 -27"/>
<path stroke="#0000ff" d="M1017 748l1 40M1079 744l1 54M1191 778l8 -34M1297 802l-24 -27M1432 803l12 -42M1635 778l20 -22M1634 777l14 -33M1668 820l-15 -49M979 825l10 -20M1022 857l11 -43M1014 866l11 -49M1048 852l13 -23M1104 846l-22 -44M1097 825l19 -28M1203 860l35 -62M1265 845l-32 -40M1235 836l18 -41M1305 806l-29 11M1425 813l15 -27M1672 830l27 -44M1680 830l16 -49M980 830l18 44M1055 893l12 -30M1098 897l-24 -33M1210 870l-20 -24M1237 886l-20 -26M1231 875l10 -27M1334 871l17 -43M1062 905l-28 -34M1071 935l16 -23M1162 923l-31 -51M1167 944l21 -39M1245 914l-10 -43M1280 928l-8 -36M1551 911l12 -23M1560 911l21 -31M1580 920l27 -42M1615 929l-22 -24M1123 954l-17 -27M1207 986l-17 -67M1268 993l16 -58M1305 955l-13 -40M1293 967l11 -25M1452 962l18 -26M1491 956l10 -21M1506 981l-15 -44M1483 920l33 14M1531 964l17 -42M1592 916l-41 19M1594 945l-12 -26M1600 953l-20 -35M1640 961l14 -32M1619 985l10 -35M1100 988l24 -34M1114 1026l25 -36M1127 981l17 -21M1184 1026l-20 -37M1206 1014l-26 -31M1212 991l30 -42M1234 997l10 -26M1465 1009l-20 -44M1436 1005l27 -31M1473 996l-12 -30M1506 995l-6 -27M1528 1014l-25 -29M1655 1018l-15 -27M1667 1017l18 -41M1145 1043l14 -38M1142 1060l10 -44M1193 1057l-18 -37M1414 1024l16 -30M1419 1037l-26 -32M1457 1074l20 -47M1559 1039l-18 -55M1616 1041l-25 -39M1673 1036l-21 -37M1394 1093l-22 -27M1407 1063l20 35M1463 1108l-24 -65M1540 1101l24 -46M1630 1107l30 -41M1000 1091l-11 47M1002 1123l28 -41M1016 1077l3 52M1399 1116l-46 31M1472 1151l14 -55M1510 1137l-18 -47M1585 1127l-20 -30M1671 1138l16 -68M1043 1191l-12 -32M1064 1189l15 -27M1069 1161l19 -42M1292 1155l-26 2M1261 1175l-9 -22M1297 1191l12 -23M1363 1162l23 -43M1533 1180l-39 -46M1653 1191l-34 -41"/>
<path stroke="#0000ff" stroke-width="4.6" d="M1497 769l15 -25M1510 787l-21 -25M1522 770l16 -24M1545 783l-9 16M1579 795l-14 -25M1257 832l11 -33M1253 833l12 -19M1259 822l11 -38M1347 835l16 -39M1350 846l15 -20M1392 842l-15 -32M1396 828l13 -36M1499 821l-13 20M1469 832l18 -22M1482 824l9 -31M1567 798l-8 32M1619 840l22 -30M1630 828l10 -19M1670 823l-22 -30M1681 814l-17 -26M1660 829l13 -28M1026 886l19 -35M1040 857l-20 9M1017 897l-18 -32M1258 885l11 -18M1270 878l9 -19M1276 878l7 -26M1254 855l11 -19M1295 877l-16 -32M1294 834l-1 33M1300 865l13 -18M1286 871l24 -33M1346 878l9 -23M1354 893l-16 -27M1341 890l18 -27M1400 874l-14 -16M1371 861l26 -30M1438 892l-14 -30M1428 879l-16 -20M1422 873l11 -37M1418 880l8 -18M1450 882l17 -23M1452 875l-18 -35M1603 876l-7 -27M1621 867l-15 -23M1622 888l-17 -22M1651 893l-10 -37M1634 862l20 -30M1614 882l20 -28M1628 858l-9 -15M1687 856l-25 -28M1676 891l10 -34M1691 879l-15 -37M1695 859l10 -20M991 905l-8 -21M987 903l-7 -23M1006 933l-18 -27M1280 919l19 -22M1297 900l-13 -25M1293 906l17 24M1370 926l-6 -21M1366 900l15 39M1340 924l17 -21M1390 908l18 -23M1390 901l6 -25M1404 880l-22 27M1418 932l12 -28M1417 936l-22 -27M1414 909l-10 -22M1402 930l8 -35M1437 910l16 -25M1447 913l17 12M1489 925l19 -21M1510 898l11 -26M1505 905l-14 -15M1534 889l-30 17M1618 914l11 -18M1629 903l-15 -23M1661 925l9 -31M1666 896l12 -21M1690 922l-13 -20M1013 974l9 -33M1021 979l21 -24M1025 951l-14 -18M1004 976l9 -31M1062 952l-17 -21M1059 951l-18 -24M1069 945l-21 -26M1080 961l8 -32M1059 966l23 -26M1060 975l20 -31M1372 949l10 -22M1392 975l-7 -20M1393 942l-11 -23M1400 964l10 -15M1429 980l7 -29M1437 926l-21 1M1421 955l19 -24M1680 948l-16 -23M1686 950l-19 -26M1663 978l21 -32M1657 966l-10 -35M1702 972l-9 -28M1690 941l-12 -21M1698 962l-15 -21M1712 945l-8 -20M1002 991l16 -32M1005 996l19 -29M1010 1012l18 -21M1058 985l21 -24M1078 1020l-16 -38M1087 1024l-22 -33M1265 988l10 -35M1267 990l-14 -23M1275 979l-8 -23M1386 1016l21 -33M1389 1005l-25 -28M1396 1010l-11 -19M1382 1000l15 -28M1441 1000l-12 -21M1404 1002l7 -20M1424 979l-15 -19M1683 1007l6 -21M1703 1003l-7 -26M1692 980l14 -25M1013 1024l10 -15M1036 1040l-10 -20M1036 1028l-8 -33M1030 1031l21 -24M1075 1026l-17 -34M1070 1018l-8 -17M1088 1037l8 -37M1088 1049l-14 -35M1089 1049l-14 -18M1091 1043l-8 -31M1205 1055l-23 -32M1251 1050l-10 -37M1232 1070l13 -39M1242 1021l12 -19M1241 1059l12 -34M1264 1050l-19 -24M1250 1046l25 -29M1265 1053l22 -26M1332 1032l8 -25M1323 1058l-10 -20M1333 1064l9 -34M1347 1017l5 39M1360 1025l-26 3M1377 1046l-9 -23M1402 1039l-13 -20M1413 1054l-22 -30M1380 1056l-6 -22M1690 1052l7 -22M1703 1045l-11 -34M1010 1087l-13 -30M1013 1091l15 -19M1018 1084l13 -22M1014 1069l14 -26M1024 1103l-9 -37M1059 1088l-20 -24M1042 1046l-1 23M1230 1091l17 -26M1233 1102l-14 -24M1299 1076l21 -28M1298 1083l-11 -26M1286 1107l12 -30M1296 1075l-10 -34M1295 1101l23 -28M1043 1110l18 -23M1044 1135l7 -30M1072 1134l-17 -24M1081 1107l-12 -16M1092 1141l-10 -39M1099 1125l-7 -22M1159 1135l-9 -28M1149 1113l14 -25M1183 1136l-12 -40M1181 1135l-22 -24M1192 1121l-12 -16M1285 1086l-19 24M1287 1127l-11 -24M1329 1107l-14 -26M1305 1111l18 -29M1120 1191l-25 -28M1112 1191l-18 -36M1122 1164l-10 -18M1138 1185l11 -20M1150 1191l-10 -32M1187 1161l6 -20M1179 1187l-10 -21M1165 1181l13 -16M1206 1148l15 -21M1208 1169l26 -30M1238 1165l11 -23"/>
<path stroke="#0000ff" stroke-width="6" d="M1494 820l19 -24M1511 812l-21 -24M1504 837l9 -19M1493 816l11 -20M1519 849l-19 -30M1525 819l14 -19M1552 855l-19 -33M1598 818l14 -16M1488 873l11 -35M1532 875l-10 -25M1517 870l17 -24M1547 885l-13 -38M1539 878l-21 -32M1552 885l10 -22M1481 922l-20 -28M1344 955l10 -35M1362 941l-17 -26M1347 973l14 -34M1350 984l14 -36M1356 973l12 -14M1346 979l20 -27M1058 979l-7 -21M1077 1009l-20 -22M1056 1005l-23 -27M1050 993l12 -16M1045 1003l41 0M1290 1005l14 -21M1290 1024l16 -32M1317 998l-7 -21M1282 996l11 -18M1333 1003l-17 -34M1342 1001l19 -25M1355 1002l-9 -26M1368 988l-7 -19M1364 1006l19 -31M1123 1056l4 -18M1092 1037l24 -27M1117 1033l23 -28M1111 1058l-13 -31M1115 1040l13 -18M1300 1027l5 -21M1290 1044l11 -16M1312 1052l-15 -18M1292 1035l16 -34M1276 1048l38 3M1077 1062l10 -19M1093 1066l-9 -25M1094 1084l-13 -34M1084 1098l11 -33M1078 1059l-15 32M1086 1093l-18 -24M1109 1078l-12 -39M1105 1096l-5 -17M1093 1101l22 -24M1095 1075l12 -37M1149 1087l17 -22M1159 1065l-28 21M1143 1063l16 -22M1152 1107l-16 -31M1149 1069l-5 -18M1218 1071l-14 -35M1260 1098l19 -34M1275 1084l13 -19M1257 1082l-7 -27M1254 1089l13 -34M1320 1083l22 -28M1324 1044l-10 20M1331 1080l10 -34M1342 1081l-13 -32M1092 1140l17 -24M1109 1131l-5 -23M1130 1110l-11 -16M1205 1121l-11 -18M1208 1141l-21 -34M1207 1110l-10 -20M1198 1096l-5 31M1212 1113l-10 -24M1235 1135l-18 -24"/>
<path stroke="#1898c0" d="M1346 807l-25 -51M1182 861l-12 -42M1028 916l-26 12M1534 920l-10 -25M1538 965l16 -21M1127 1068l8 -36M1438 1156l11 -50"/>
<path stroke="#1898c0" stroke-width="4.6" d="M1594 825l-14 -16M1635 838l-12 -14M1383 866l-12 -22M1443 892l-7 -22M1634 852l12 -20M1682 856l-13 -16M1690 880l14 -23M1399 938l-10 -27M1426 909l20 -34M1712 927l-17 -20M1053 962l-22 -24M1668 936l-13 -18M1372 981l19 -21M1265 1015l-3 23M1156 1066l23 25M1246 1076l7 -19M1130 1138l7 -18M1260 1124l9 -18M1302 1094l-12 26M1164 1148l-14 -20M1171 1178l-21 -28M1238 1166l-12 -36"/>
<path stroke="#1898c0" stroke-width="6" d="M1543 843l-10 -22M1514 880l-9 -20M1515 886l-8 -34M1554 867l9 -39M1041 1013l-7 -29M1338 1019l12 -22M1368 987l8 -24M1115 1019l-14 37M1128 1099l-11 -28M1345 1070l-9 -37M1202 1133l22 -30M1244 1130l7 -19"/>
<path stroke="#00f0f0" d="M1137 777l9 -33M1454 766l-44 18M1650 766l-12 23M1046 812l-10 26M1355 794l-49 37M1038 866l11 -21M1164 906l-24 -49M1219 857l21 37M1016 906l8 -22M1237 905l-7 -29M1564 914l-12 -40M1281 976l8 -29M1486 971l-17 -45M1177 1000l-20 -22M1487 984l8 -23M987 1050l19 -25M1462 1037l10 -42M1651 1007l36 34M1396 1115l-26 -43M1589 1091l35 -64M1023 1131l10 -38M1039 1191l-22 -39M1272 1191l-17 -26M1457 1184l-28 -44"/>
<path stroke="#00f0f0" stroke-width="4.6" d="M1539 789l-11 -26M1538 805l-6 -25M1349 853l-8 -34M1371 821l12 -22M1443 853l-11 -36M1479 820l8 -23M1578 848l-19 -29M1629 847l10 -26M1259 890l-5 -18M1429 866l-23 -26M1464 868l-14 -26M1438 849l2 30M1589 897l-9 -40M1591 881l6 -24M1650 898l-14 -35M1663 863l27 -30M1703 854l-18 -22M1691 888l10 -18M996 902l-11 -20M1312 910l-9 -17M1311 901l7 -30M1368 938l26 -30M1451 934l-13 -37M1461 904l-8 -19M1489 927l19 -26M1667 905l9 -18M1648 897l6 -21M990 945l8 -32M1086 966l-12 -26M1427 970l-15 -24M1431 965l-8 -30M1697 968l7 -28M1011 1006l-14 -26M1009 958l25 21M1085 994l6 -27M1283 1002l-9 -24M1264 960l-11 39M1382 1006l-8 -17M1705 992l-14 -17M1040 1056l-14 -29M1064 1032l-12 -23M1226 1051l-12 -31M1213 1045l8 -17M1240 1058l22 -31M1261 1039l19 -26M1338 1055l-26 -31M1377 1024l-12 -24M979 1097l9 -21M1011 1102l10 -21M1042 1068l11 -29M1054 1082l19 -36M1177 1073l10 -30M1177 1067l-2 41M1251 1086l-10 -17M1253 1071l-32 3M1074 1143l-11 -23M1152 1120l8 -23M1169 1126l-9 -25M1248 1136l25 -32M1295 1125l-11 -40M1335 1109l9 20M1115 1162l-14 -36M1151 1161l17 -32M1163 1185l-15 -18M1167 1166l-8 -28M1170 1155l19 -33M1210 1170l-1 21M1226 1185l-20 -36M1258 1153l-14 -25"/>
<path stroke="#00f0f0" stroke-width="6" d="M1550 818l-26 15M1562 846l-7 -17M1582 811l17 -22M1496 869l-17 -20M1493 847l33 8M1558 865l-21 -24M1545 891l17 -28M1542 878l15 -39M1501 923l-7 -28M1049 986l9 -20M1305 988l10 -36M1343 989l-11 -24M1336 985l9 -32M1351 1020l17 -33M1288 1038l-7 -33M1298 1023l17 -19M1128 1073l-17 -37M1107 1075l-14 -35M1160 1074l-6 -19M1224 1102l-15 -28M1273 1070l5 -21M1268 1094l10 -23M1319 1089l-10 -40M1308 1076l19 -31M1118 1139l-8 -16M1206 1127l-16 -26"/>
<path stroke="#10c030" d="M1584 778l18 -33M1602 771l23 28M1704 852l-11 -26M1031 932l-32 -36M986 1044l16 -28M1430 1167l28 -62"/>
<path stroke="#10c030" stroke-width="4.6" d="M1583 807l-12 -23M1567 768l-10 -19M1430 831l24 -28M1559 838l13 -17M1581 858l17 -36M1642 838l-22 -30M1590 898l-10 -40M1597 851l10 -17M1639 903l-14 -37M992 970l-13 -15M1344 980l-9 -35M1324 936l22 3M1423 964l7 -28M1092 1048l-19 -30M1010 1080l-9 -41M1019 1101l-10 -28M1177 1037l6 38M1153 1141l8 -17M1251 1146l7 -25M1296 1127l14 -30M1216 1188l-13 -20"/>
<path stroke="#10c030" stroke-width="6" d="M1550 850l11 -27M1593 794l31 11M1474 890l8 -31M1470 874l17 -26M1518 883l-15 -38M1483 915l-13 -18M1479 902l-14 -16M1481 938l-25 -31M1319 1007l-7 -23M1211 1102l15 -37M1223 1077l-18 -26M1212 1070l-12 -17M1277 1074l-14 -19M1212 1112l3 20M1240 1136l-7 -17M1248 1135l8 -23M1249 1150l-22 -35"/>
<path stroke="#40e010" stroke-width="4.6" d="M1454 832l18 -22M1554 829l22 -33M1547 844l30 14M979 963l7 -21M1005 1008l-17 -23M984 1070l23 -35M1173 1065l-11 -21M1289 1144l7 -32"/>
<path stroke="#40e010" stroke-width="6" d="M1463 909l14 -39M1348 1002l-23 -35M1336 1028l-10 -40M1219 1130l24 -32"/>
<path stroke="#c8f000" stroke-width="4.6" d="M1563 899l27 -31M1311 947l24 -29M1338 965l-27 1"/>
<path stroke="#c8f000" stroke-width="6" d="M1591 842l18 -36M1598 823l-8 33M1479 881l-18 -24M1501 866l-15 -22M1327 975l19 9"/>
<path stroke="#e8e800" stroke-width="6" d="M1587 856l18 -34"/>
<path stroke="#000" stroke-width="8.6" stroke-linecap="round" d="M1010.5 828.2V832.6M1010.5 842.5V846.9M1010.5 871.2V875.6M1011.5 894.5V909.0M991.3 936.5V940.1M1011.5 940.2V959.4M1282.9 926.8V959.4M1304.9 936.8V947.6M1332.6 894.5V909.0M1332.6 930.1V935.9M992.6 969.9V1006.4M1040.4 1029.2V1093.7M1013.6 1054.7V1059.1M994.4 1069.3V1073.7M1061.4 1073.6V1078.0M1062.3 1107.5V1157.4M1109.3 1030.7V1035.1M1257.0 982.0V986.4M1234.8 1014.4V1018.8M1236.6 1094.5V1098.9M1285.7 1054.7V1059.1M1307.6 998.6V1008.0M1307.6 1052.2V1084.4M1308.5 1125.2V1129.6M1402.1 757.4V761.8M1379.2 770.3V796.5M1403.0 799.5V803.9M1451.1 766.4V775.7M1451.1 793.8V798.2M1354.2 812.3V844.5M1404.2 841.5V845.9M1381.1 875.9V880.3M1453.0 877.4V899.9M1355.2 926.8V947.6M1616.0 755.0V787.3M1661.7 799.5V803.9M1690.6 788.9V793.3M1690.6 810.4V812.1M1662.9 839.6V844.0M1662.9 858.8V863.2M1691.5 902.1V901.8M1691.5 927.6V932.0M1691.5 949.9V949.6M1664.7 950.4V954.8M1357.0 1054.3V1120.5"/>
</g>
<g fill="none" stroke-width="3.8" stroke-linecap="round">
<path stroke="#0000ff" d="M434 1436l-21 -27M447 1392l-41 15M694 1447l14 -50M898 1419l-13 -29M680 1456l-19 -29M655 1486l19 -44M704 1485l-17 -50M735 1435l25 46M814 1491l-12 -42M855 1493l39 -51M343 1512l-11 -47M349 1501l14 -43M718 1528l-18 -39M746 1505l13 -30M785 1531l17 -45M863 1511l17 -50M270 1538l10 -35M290 1525l20 -25M826 1545l-38 1M813 1547l-11 -30M876 1547l22 -27M181 1574l8 34M216 1603l-13 -19M871 1580l-19 -41M862 1589l9 -32M893 1608l-19 -38M522 1647l-11 -23M542 1630l-25 -41M598 1633l-15 -24M556 1629l16 -23M598 1608l13 46M606 1630l15 -33M402 1683l27 -33M446 1663l38 -45M512 1664l12 -41M556 1683l10 -21M544 1701l-17 -44M346 1704l12 -25M399 1706l-28 -33M379 1709l16 -36M408 1697l22 -31M510 1717l-28 -50M533 1710l-15 -20M340 1763l-10 -28M342 1761l22 -35M424 1764l-27 -31M395 1749l38 -49M482 1768l-15 -40M719 1775l-29 -32M727 1763l-19 -42M289 1821l-15 -18M347 1805l27 -46M480 1817l-25 -65M762 1762l4 36M816 1792l-6 -27M817 1787l11 34M851 1778l-14 -23M853 1810l18 -33"/>
<path stroke="#0000ff" stroke-width="4.6" d="M594 1398l-18 -25M579 1381l-2 24M578 1392l-15 -19M567 1428l19 -25M606 1397l-9 -24M609 1413l-28 22M610 1391l-13 -18M384 1476l18 -23M375 1459l16 -23M386 1480l26 -29M623 1459l-16 -31M612 1460l5 -24M633 1452l-20 -25M656 1453l-11 -20M641 1463l11 -37M633 1450l27 2M401 1518l-9 -16M404 1502l7 19M398 1517l5 -18M684 1486l-13 -17M665 1484l8 -20M676 1509l-16 -24M730 1492l9 -17M743 1499l-20 14M344 1549l-16 -38M320 1560l24 -28M771 1537l11 -30M769 1541l-7 -33M284 1587l-20 -23M284 1596l-5 -21M263 1593l12 -28M280 1591l10 -30M805 1604l11 -17M819 1592l-14 -31M821 1578l-18 -24M452 1624l-16 -25M439 1633l8 -18M442 1618l6 -19M451 1630l14 -31M488 1594l-41 6M391 1662l-7 -30M386 1690l14 -26M380 1682l16 -31M656 1687l-15 -38M651 1626l-4 27M661 1667l-15 -18M655 1631l-31 28M697 1653l-13 -16M706 1657l16 -27M706 1652l6 -22M700 1660l7 -22M255 1719l-21 -25M245 1706l6 -23M258 1711l-6 -23M248 1704l-9 -19M312 1703l25 2M729 1704l-19 -22M736 1714l16 -31M710 1714l17 -26M744 1717l-5 -22M327 1724l-25 1M296 1745l23 3M299 1760l6 -20M773 1755l-14 -35M754 1750l-11 -20M750 1763l7 -22M753 1774l-11 -27M174 1796l5 -24M250 1815l-8 -17M242 1786l27 -30M248 1818l12 -16M767 1780l19 -26M801 1805l10 -21M807 1821l-8 -28M896 1821l-7 -26M889 1821l-8 -18"/>
<path stroke="#0000ff" stroke-width="6" d="M456 1405l-20 8M480 1420l-15 -33M524 1407l-14 -18M531 1421l-18 -31M515 1420l15 -29M520 1438l-18 -25M572 1400l-39 14M522 1415l32 18M441 1474l-13 -16M419 1476l-4 -20M416 1441l8 -24M420 1450l-10 -22M433 1449l15 -36M459 1475l-17 -27M500 1469l-6 -25M542 1446l-19 -22M523 1475l-8 -33M563 1450l-10 -37M589 1465l5 -21M422 1514l-7 -19M403 1518l18 -31M406 1486l10 -20M416 1494l-7 -28M424 1526l-12 -35M415 1487l-7 -19M420 1506l-12 -23M411 1494l14 -20M452 1500l-13 -22M499 1524l-14 -35M535 1458l-13 33M521 1505l-10 -29M511 1503l-12 -22M517 1503l9 -21M536 1497l12 -24M533 1502l3 19M583 1503l-9 -17M584 1489l-10 -27M615 1510l18 -36M617 1498l-20 -37M592 1505l40 8M618 1497l10 -28M639 1497l-8 -34M655 1465l-19 18M650 1485l-17 -19M638 1525l11 -29M639 1488l-8 -22M641 1497l16 -23M377 1558l-7 -26M401 1536l-23 -29M388 1540l-15 -30M402 1560l6 -19M428 1538l-18 -33M418 1540l17 -29M417 1540l14 -38M403 1546l15 -20M419 1539l20 -23M468 1551l-4 -19M488 1529l-12 -29M512 1547l-13 -19M511 1553l20 -26M532 1548l-13 -24M554 1539l-19 -30M546 1541l23 -27M569 1542l15 -33M592 1563l-17 -35M598 1548l-10 -24M569 1543l27 7M606 1554l16 -19M618 1533l9 -37M593 1536l9 -32M607 1540l42 2M656 1565l-20 -29M640 1549l-10 -40M633 1528l21 -26M652 1542l18 -25M673 1535l-16 -26M680 1539l7 -33M655 1539l16 -29M707 1529l6 -18M723 1568l-21 -28M702 1527l9 -19M696 1549l-15 -20M708 1558l24 -30M737 1536l11 -19M720 1559l-6 -17M744 1521l-22 7M304 1589l6 -23M311 1591l-23 -28M298 1612l10 -30M306 1569l14 -25M307 1543l14 34M330 1569l-14 -27M327 1612l-8 -36M330 1571l-19 -32M341 1600l-10 -25M366 1579l-8 -20M366 1610l-10 -30M349 1570l6 -25M359 1590l9 -21M390 1571l6 -22M405 1614l-22 -35M425 1578l-37 8M417 1571l-20 -29M409 1598l-15 -33M434 1595l9 -28M431 1579l-7 -18M417 1572l7 -26M406 1564l16 15M441 1602l-17 -27M433 1615l-11 -37M458 1585l12 -21M470 1588l21 -26M519 1601l15 -21M529 1608l-22 -30M531 1594l-12 -34M523 1580l17 -25M547 1588l-21 -27M554 1572l19 -25M589 1609l-12 -31M595 1598l-14 -17M580 1603l6 -18M574 1586l-13 -18M597 1607l-14 -31M615 1593l-19 -29M633 1592l-24 -30M623 1569l-10 -18M599 1579l-10 -19M627 1593l8 -17M646 1602l10 -25M635 1610l-11 -31M651 1577l-4 -20M659 1602l-17 -31M684 1574l-5 23M686 1579l-7 -18M669 1573l7 -24M658 1590l12 -14M693 1583l8 -18M705 1593l-9 -23M725 1596l-22 -32M738 1574l13 -25M722 1593l15 -31M752 1587l-30 4M747 1596l-16 -26M750 1578l-13 -36M758 1598l-8 -16M764 1578l8 -27M769 1604l-7 -25M756 1581l10 -21M745 1608l12 -28M792 1579l14 -22M808 1602l-16 -27M786 1580l22 -25M192 1645l-15 -38M224 1638l-8 -27M244 1633l-15 -19M252 1618l-19 -26M239 1607l-12 -19M232 1635l22 -33M279 1634l-19 -30M269 1630l6 -25M265 1624l6 -19M274 1644l13 -23M273 1636l-8 -26M262 1598l24 27M291 1639l-11 -26M278 1645l21 -30M266 1600l-6 32M296 1638l13 -18M314 1607l7 25M284 1609l32 1M322 1633l-8 -23M317 1625l-6 -26M295 1623l8 -29M291 1624l10 -21M296 1619l11 -18M288 1624l9 -28M327 1628l31 12M337 1649l-25 -34M336 1617l-6 -25M327 1611l18 -24M348 1635l-17 -19M363 1618l-7 -18M393 1585l-28 31M361 1643l9 -16M416 1626l-16 20M383 1617l15 -17M419 1625l-13 -26M418 1609l-4 20M426 1623l-24 -27M423 1626l-12 -26M641 1643l8 -33M644 1614l9 -24M624 1626l7 -25M639 1632l13 -15M665 1626l-22 -33M641 1647l-6 -27M663 1623l-20 -26M635 1617l-10 -16M631 1604l3 31M680 1655l8 -35M658 1591l5 23M687 1636l-6 -25M655 1650l7 -29M677 1646l-5 -19M652 1640l18 -34M678 1635l-6 -22M673 1646l-17 -25M688 1597l9 39M690 1627l13 -27M695 1630l-14 -17M686 1646l16 -30M720 1633l-11 -39M690 1595l7 18M693 1626l18 -32M706 1646l19 -23M726 1588l-9 27M748 1651l-12 -40M739 1623l-15 -19M722 1636l-10 -19M743 1636l8 -39M784 1637l-15 -37M746 1625l21 -27M764 1626l10 -24M764 1631l23 -27M774 1637l-9 -30M795 1619l14 -27M805 1646l-18 -28M796 1639l-11 -25M792 1648l-15 -17M833 1644l7 -19M831 1617l10 -18M806 1647l9 -20M812 1621l-7 -19M817 1620l20 -23M870 1631l-25 -34M839 1627l7 -18M865 1638l-8 -26M858 1650l-6 -25M854 1622l-10 -26M862 1623l-9 -16M852 1624l-7 -24M871 1612l-16 -25M849 1639l15 -31M884 1629l-23 -34M895 1638l-17 -25M877 1652l-15 -27M879 1642l-13 -23M192 1660l-19 -30M207 1679l-11 -40M208 1650l4 -20M241 1656l-20 -27M245 1684l22 -25M253 1666l9 -15M232 1653l11 -25M223 1659l20 -36M272 1667l12 -33M280 1691l-22 -33M272 1676l-13 -31M266 1631l18 24M257 1685l9 -36M291 1686l12 -37M306 1662l-17 -20M304 1696l23 -33M321 1667l-10 -24M313 1660l10 -39M308 1694l-12 -29M301 1666l-11 -37M312 1665l-6 -19M296 1687l13 -22M308 1696l12 -40M313 1657l21 -31M345 1656l-17 -32M346 1661l-14 -16M389 1659l-19 -37M675 1679l-5 -19M677 1658l13 -34M675 1693l16 -29M675 1653l8 -23M666 1691l6 -28M679 1655l-6 -28M708 1682l24 -28M781 1664l-14 -20M755 1654l-13 -25M778 1673l-6 -18M756 1689l17 -29M763 1690l7 -26M767 1656l17 -33M759 1669l-12 -36M797 1649l9 -18M795 1664l-10 -31M796 1671l7 -22M786 1657l-13 -32M815 1663l-24 -34M786 1677l-10 -26M817 1672l14 -33M836 1659l-19 -29M814 1683l-14 -27M830 1673l5 -21M802 1637l21 32M829 1675l-20 -32M824 1660l-14 -31M811 1683l8 -20M870 1659l-15 -19M859 1668l-25 -29M843 1684l14 -31M844 1692l13 -31M856 1666l12 -32M883 1659l-18 -23M898 1679l-7 -27M896 1675l-13 -26M874 1669l-10 -16M170 1716l4 -9M259 1705l11 -27M264 1716l20 6M255 1729l10 -27M272 1707l-15 -19M274 1704l13 -15M284 1712l-7 -24M262 1696l9 -23M263 1695l10 -26M271 1737l-14 -37M279 1709l18 -23M324 1731l-19 -33M298 1703l10 -26M308 1719l-10 -16M314 1704l-5 -18M307 1679l-21 20M283 1725l18 -31M295 1701l12 -14M309 1738l-19 -31M292 1701l13 -23M752 1676l18 23M737 1721l27 -31M742 1735l14 -29M764 1710l14 -24M775 1725l-12 -32M763 1708l32 5M793 1695l20 -24M803 1708l-11 -18M787 1719l-5 -19M796 1726l13 -22M804 1696l-9 -26M800 1711l-6 -24M806 1729l-11 -20M796 1718l-31 1M801 1725l7 -18M827 1734l-14 -36M828 1710l-9 -23M817 1700l-12 -16M820 1720l-22 -26M855 1721l21 -28M841 1691l29 1M869 1717l-12 -23M844 1706l-12 -36M846 1709l7 -26M840 1692l11 -16M853 1715l14 -37M850 1690l8 -16M857 1731l-15 -25M849 1701l23 -31M867 1669l12 27M898 1713l-18 10M895 1708l-20 -37M872 1697l23 -28M880 1707l6 25M868 1711l15 -20M889 1703l10 -12M867 1738l22 -30M885 1716l-12 -19M875 1729l5 -19M170 1754l17 -21M178 1744l-8 -18M236 1777l-21 -28M240 1749l-5 -17M239 1767l-9 -22M226 1766l6 -21M251 1740l7 -27M285 1749l-23 -28M251 1758l18 -30M276 1768l11 -29M277 1742l18 -29M270 1742l-17 -30M790 1754l-16 -38M769 1730l38 16M781 1755l7 -22M783 1766l7 -25M777 1747l9 -32M848 1768l-23 -27M813 1770l16 -28M863 1753l-21 -29M871 1775l-7 -29M835 1762l21 -26M858 1762l-15 -25M880 1744l9 -20M886 1746l12 -15M866 1751l26 -32M898 1768l-16 -22M886 1740l-11 -14M886 1750l-6 -21"/>
<path stroke="#1898c0" d="M360 1451l21 -29M426 1672l-16 -29M485 1795l14 -35"/>
<path stroke="#1898c0" stroke-width="4.6" d="M570 1400l21 1M378 1486l24 -29M739 1461l4 29M372 1662l27 -30M343 1725l14 -26M259 1821l-17 -20"/>
<path stroke="#1898c0" stroke-width="6" d="M471 1429l6 -24M529 1388l32 21M514 1475l13 -38M415 1497l10 31M503 1487l15 -27M640 1525l-20 -26M401 1513l-9 37M444 1570l-7 -32M526 1527l-20 -28M559 1560l26 -29M601 1556l-9 -30M644 1562l25 -32M709 1554l10 -27M702 1532l6 -24M361 1612l21 -32M366 1581l-22 -27M417 1607l21 -33M670 1571l-24 -28M700 1597l8 -24M799 1582l13 -37M252 1650l7 -23M349 1639l22 -27M408 1640l-15 -37M438 1647l-14 -26M637 1622l-26 -29M703 1622l-10 -26M721 1587l-7 19M793 1622l-18 -33M813 1632l6 -27M218 1691l-20 -35M232 1672l9 -26M320 1652l6 -18M336 1675l10 -38M734 1675l8 -27M743 1676l21 -32M837 1670l-10 -26M888 1671l-8 -37M219 1722l14 -28M296 1732l20 -30M795 1727l-8 -18M815 1698l-6 -19M182 1744l-9 -17M239 1727l21 23M280 1775l13 -30M835 1773l-14 -28M850 1746l9 -18"/>
<path stroke="#00f0f0" d="M635 1435l20 -24M796 1434l24 -61M326 1526l17 -30M691 1486l14 -20M813 1528l18 -45M236 1567l-25 -34M773 1574l12 -40M174 1599l13 -25M580 1635l-10 -43M364 1718l15 -37M338 1760l16 -26M323 1800l-9 -38M858 1810l-17 -47"/>
<path stroke="#00f0f0" stroke-width="4.6" d="M576 1430l15 -36M574 1436l-16 -25M626 1448l-9 -30M601 1463l22 -28M391 1507l12 -25M727 1521l18 -35M771 1559l10 -21M751 1548l12 -24M278 1572l17 -28M825 1592l22 -31M466 1610l22 1M541 1641l18 -25M391 1689l-7 -24M703 1694l-15 -37M227 1697l23 -29M328 1711l-5 -20M325 1688l10 26M730 1733l-10 -36M746 1735l18 -22M174 1811l-4 -13M174 1795l7 -21M207 1803l-9 -24M248 1821l-10 -32M873 1809l7 -19"/>
<path stroke="#00f0f0" stroke-width="6" d="M446 1401l13 -14M441 1414l7 -17M482 1424l-17 -25M504 1406l-9 -30M521 1432l15 -17M518 1429l11 -20M514 1443l21 -33M543 1401l-11 -28M429 1450l6 -30M459 1454l-15 -28M485 1445l10 16M510 1465l-16 -37M511 1448l-12 -14M529 1474l-15 -38M522 1418l-3 25M559 1476l-20 -23M571 1446l29 24M428 1522l13 -28M417 1491l-12 -14M465 1487l-9 -25M495 1473l-1 31M537 1508l-13 -33M519 1483l-7 -24M525 1495l26 -30M567 1500l13 -29M610 1498l-15 -23M653 1505l-7 -23M353 1561l8 -21M355 1560l14 -24M358 1532l26 15M410 1554l-13 -22M387 1562l17 -27M425 1561l13 -19M465 1532l-8 -30M460 1551l10 -35M468 1564l-7 -24M481 1528l-4 -18M492 1561l-10 -16M535 1547l-20 -25M520 1549l14 -21M520 1555l-16 -32M559 1564l-27 -30M587 1567l-10 -26M567 1568l20 -29M599 1538l-8 -28M621 1559l-12 -19M621 1551l-8 -31M643 1550l8 -30M647 1543l14 -17M652 1568l20 -27M738 1554l-13 -33M739 1560l-6 -23M325 1583l-16 -23M336 1572l20 7M349 1587l-20 -29M342 1614l-13 -36M387 1563l-17 13M367 1604l10 -15M369 1604l14 -27M358 1565l-9 -16M392 1577l-11 -39M415 1579l-15 -21M377 1604l14 -34M390 1583l9 -30M414 1589l12 -38M421 1591l-15 -37M433 1600l-7 -26M500 1578l-18 5M483 1601l-11 -15M516 1572l-21 8M516 1598l25 -33M550 1570l12 -19M608 1601l-15 -23M615 1581l-24 -30M618 1570l15 -25M625 1605l9 -26M664 1576l21 -31M709 1583l11 -28M683 1579l15 -30M744 1565l-6 -18M801 1609l-14 -36M798 1569l-22 -28M175 1623l17 -21M225 1636l-16 -38M260 1616l-21 -32M265 1647l-18 -24M284 1632l-6 -23M296 1626l13 -40M312 1598l20 26M350 1611l7 -17M382 1636l-14 -25M367 1641l9 -34M374 1649l17 -25M386 1648l15 -21M385 1598l4 26M414 1629l21 -34M615 1628l19 -36M678 1618l-15 -19M679 1650l16 -22M721 1619l-19 -27M695 1612l-8 -26M738 1621l-21 -34M710 1627l19 -28M726 1639l12 -36M771 1625l-16 -26M736 1630l23 -34M746 1627l15 -30M740 1638l15 -33M792 1587l0 22M788 1624l-13 -35M786 1647l21 -27M765 1620l30 28M796 1635l-15 -31M824 1620l-3 22M836 1616l-16 -30M828 1637l14 -26M818 1630l5 -18M828 1644l6 -22M884 1654l-11 -39M185 1692l21 -35M170 1640l11 -13M214 1688l-25 -32M238 1677l-10 -23M304 1684l10 -29M339 1666l15 -38M334 1661l-13 -16M388 1663l-22 -25M356 1681l8 -32M353 1696l10 -37M357 1684l-8 -34M720 1690l13 -19M747 1697l-14 -36M728 1667l-11 -26M724 1675l15 -21M762 1687l-9 -20M770 1692l9 -22M772 1659l10 -30M807 1670l-15 -17M795 1660l-8 -19M822 1669l-24 -27M823 1691l-22 -33M846 1675l11 -18M891 1686l7 -22M199 1694l-14 -20M227 1705l-18 -29M218 1696l13 -18M214 1731l12 -22M309 1717l8 -20M762 1703l9 -16M850 1699l15 -25M194 1757l18 -38M210 1769l7 -25M237 1760l-7 -27M264 1749l-13 -35M250 1773l20 -33M829 1741l15 -18M827 1745l-15 -19M796 1744l28 1M849 1752l11 -26M843 1772l-7 -25"/>
<path stroke="#10c030" d="M380 1434l-26 -42M642 1403l15 -30M806 1492l21 -53"/>
<path stroke="#10c030" stroke-width="4.6" d="M691 1493l-14 -18M329 1564l20 -27M481 1631l-8 -20M541 1651l20 -24M181 1810l-5 -21M182 1781l9 -23M177 1788l4 -19M231 1802l-17 -24"/>
<path stroke="#10c030" stroke-width="6" d="M464 1390l-14 -17M462 1412l-24 -28M459 1424l14 -17M483 1437l-15 -20M484 1402l-17 -29M553 1432l-12 -32M545 1408l18 -32M534 1432l9 -33M460 1448l-16 -24M462 1446l15 -33M493 1466l13 -39M482 1479l13 -37M470 1455l6 -27M532 1449l6 -28M541 1452l-12 -30M576 1447l23 -31M579 1456l18 -31M477 1499l-15 -23M469 1498l-9 -36M456 1489l7 -21M476 1484l12 -21M481 1504l9 -40M528 1484l13 -18M554 1503l-10 -22M542 1480l11 -14M603 1488l-24 8M579 1499l16 -28M351 1539l21 -35M404 1534l15 -32M456 1525l26 1M448 1538l21 -37M471 1544l6 -18M479 1561l-14 -17M543 1540l-13 -32M544 1568l11 -29M380 1600l-10 -30M403 1581l-14 -28M422 1605l-15 -34M452 1586l-20 -28M447 1606l-6 -29M490 1605l-14 -18M531 1583l-10 -26M556 1597l-17 -34M542 1575l20 -29M545 1580l-19 -22M693 1578l-13 -35M764 1593l-19 -26M182 1642l-12 -24M196 1641l-11 -24M179 1650l-9 -11M203 1641l-16 -22M218 1654l-14 -34M220 1649l10 -33M238 1621l8 -17M420 1617l-13 -21M737 1623l-15 -23M826 1609l-19 -23M891 1615l8 -16M193 1654l-6 -26M176 1668l17 -25M234 1668l-13 -25M228 1678l-13 -30M375 1674l5 -19M762 1679l10 -15M887 1675l-22 -26M173 1722l9 -28M175 1719l-5 -10M237 1699l-19 -28M222 1731l-23 -32M178 1752l-7 -20M184 1747l-13 -35M187 1716l-8 18M180 1754l-10 -17M224 1753l-11 -26M200 1749l18 -24"/>
<path stroke="#40e010" stroke-width="4.6" d="M482 1626l8 -29M207 1813l12 -27"/>
<path stroke="#40e010" stroke-width="6" d="M439 1413l8 -17M475 1399l16 29M546 1400l15 -27M446 1448l13 -19M459 1464l-24 -30M468 1462l24 -31M600 1472l-20 -27M458 1509l22 -29M471 1512l-8 -37M468 1491l-10 -20M490 1507l-19 -25M489 1507l10 -36M543 1513l-13 -19M583 1509l-15 -27M488 1569l21 -30M529 1537l11 -19M469 1580l-17 -35M533 1584l20 -23M177 1626l-7 -19M204 1613l9 -25M206 1675l-18 -26M177 1695l9 -32M227 1688l-10 -28M189 1707l-14 -38M200 1707l13 -31M181 1775l-11 -21M185 1746l-15 -30M190 1774l20 -28M221 1713l-18 33"/>
<path stroke="#c8f000" stroke-width="4.6" d="M508 1634l-17 -35M483 1633l-13 -24"/>
<path stroke="#c8f000" stroke-width="6" d="M463 1424l14 -28M442 1414l14 -37M458 1407l21 14M457 1459l23 -34M470 1469l-23 -35M443 1448l20 -32M550 1456l11 -30M572 1453l-26 -31M470 1505l-19 -28M466 1491l-15 -17M456 1492l-10 -27M555 1510l-18 -21M551 1515l-7 -26M569 1485l-10 -21M462 1563l-10 -30M532 1550l14 -20M553 1538l-10 -35M542 1535l15 -21M480 1604l-19 -33M478 1601l11 -21M546 1607l-8 -31M544 1576l-18 -33M534 1567l34 14M550 1582l5 -19M170 1607l20 -26M180 1632l-10 -17M204 1640l18 -31M172 1649l12 -18M191 1696l-21 -26M175 1694l11 -25M181 1671l14 35M176 1698l23 8M198 1740l-21 -31"/>
<path stroke="#e8e800" stroke-width="6" d="M440 1418l8 -20M552 1447l-23 -26M547 1506l19 -31M461 1544l21 -26M542 1547l13 -16M532 1540l15 -20M541 1578l-15 -37M530 1568l15 -25M199 1628l-8 -21M197 1701l-13 -15M183 1708l-13 -15"/>
<path stroke="#0000ff" d="M411 1413l13 -40M432 1420l-17 -23M805 1411l-11 -38M338 1453l23 -43M665 1476l14 -31M684 1471l17 -24M680 1453l19 32M809 1418l-9 70M831 1476l26 -67M213 1530l-31 -56M348 1494l9 -29M688 1475l43 16M760 1495l14 -30M764 1492l15 -22M869 1529l-23 -57M171 1525l11 41M276 1577l18 -59M310 1552l18 -20M773 1552l18 -32M823 1534l12 -24M170 1593l16 7M199 1607l14 -20M278 1622l-46 -53M853 1603l-15 -39M838 1598l24 -38M882 1591l9 -43M527 1631l-15 -28M519 1619l7 -27M581 1630l22 -31M594 1619l-13 -38M585 1620l43 11M409 1684l19 -48M424 1689l-12 -33M494 1675l-24 -41M530 1657l-28 2M554 1675l-16 -44M552 1663l30 -46M337 1740l33 -41M380 1709l11 -33M414 1730l20 -24M403 1696l26 11M466 1748l27 -51M516 1718l-10 -23M326 1753l25 -32M377 1747l27 -46M398 1783l-25 -42M434 1763l29 -54M499 1758l-23 -48M707 1782l31 -39M280 1806l-10 -25M297 1821l-14 -50M388 1821l19 -39M490 1821l-32 -41M749 1821l17 -41M798 1781l26 36M803 1787l27 -35M862 1799l-17 -30"/>
<path stroke="#0000ff" stroke-width="4.6" d="M579 1420l27 -32M587 1429l-16 -37M574 1389l-9 -16M617 1412l-19 -27M617 1397l-12 -16M594 1440l17 -24M386 1464l-9 -22M412 1454l-14 -22M404 1462l-21 -34M604 1467l-11 -18M632 1471l-19 -37M610 1450l-7 -19M656 1461l-17 -25M637 1449l18 -27M636 1467l-23 -28M388 1524l18 -30M394 1508l7 -27M398 1510l-25 -30M399 1472l-24 9M684 1524l-7 -24M673 1484l-18 -21M660 1502l12 -22M738 1512l-20 -36M324 1528l9 -19M343 1538l11 -32M326 1558l-5 -18M765 1523l17 -19M765 1552l7 -18M286 1592l-8 -22M280 1577l-22 -33M256 1575l10 -31M295 1609l-16 -30M803 1610l16 -27M812 1589l-7 -18M838 1607l-7 -30M476 1607l-32 3M455 1657l-8 -38M452 1644l-7 -31M457 1639l-15 -27M473 1619l-0 24M402 1630l-8 35M400 1689l-16 -23M388 1683l13 -19M637 1675l8 -29M639 1692l-17 -23M626 1671l12 -15M640 1665l-14 -22M688 1660l15 -18M700 1634l-9 19M711 1678l-14 -18M691 1663l-11 -18M232 1692l16 -21M258 1706l-18 -26M233 1694l11 -26M342 1715l-15 -27M350 1711l-14 -38M726 1706l-16 -19M734 1721l-11 -29M741 1718l9 -18M306 1768l-10 -19M290 1777l20 -31M306 1750l-26 -31M324 1756l-20 -29M771 1778l8 -29M762 1744l-8 -20M753 1747l-8 -32M190 1803l12 -36M170 1804l12 -28M248 1821l10 -20M245 1821l-10 -21M779 1817l11 -16M796 1807l-14 -21M807 1761l-2 37M774 1787l19 -27M888 1802l-7 -24M879 1812l12 -39"/>
<path stroke="#0000ff" stroke-width="6" d="M486 1407l23 -28M508 1426l7 -18M547 1419l-36 15M514 1403l-8 -23M514 1431l-12 -35M556 1419l-13 -25M549 1414l17 -24M427 1461l-20 -26M428 1475l-16 -36M418 1472l-13 -16M450 1445l-19 -33M435 1447l-26 -30M426 1455l19 4M472 1479l-11 -20M487 1452l-15 -19M527 1455l-5 -24M510 1448l35 12M549 1461l15 -27M556 1475l18 -34M433 1487l8 -23M433 1478l-13 -15M413 1520l16 -20M427 1491l25 3M447 1521l-18 -21M449 1498l-18 -32M430 1515l-9 -16M429 1490l14 -21M473 1501l-12 -21M469 1503l24 12M501 1483l36 11M510 1497l13 -16M505 1521l17 -33M517 1504l15 -23M554 1511l12 -18M585 1512l-8 -22M591 1488l-10 -27M599 1526l24 -28M605 1510l6 -22M586 1512l16 -33M617 1485l-8 -24M608 1519l-14 -17M630 1513l19 -22M634 1509l8 -19M644 1523l-10 -22M634 1518l9 -21M641 1503l-10 -18M378 1511l-37 5M387 1538l-18 -36M414 1523l-15 17M400 1541l-21 -36M402 1540l-11 -24M423 1558l-11 -27M429 1554l6 -19M450 1545l-21 -33M431 1552l10 -36M401 1540l22 -29M443 1537l7 -20M509 1561l-17 -35M516 1569l-9 -37M528 1506l-5 31M523 1554l9 -20M552 1567l-21 -26M557 1525l12 23M586 1531l-22 -34M602 1546l-23 -29M565 1541l15 -35M619 1567l-6 -27M608 1532l12 -18M627 1531l-9 -16M606 1563l-21 -33M636 1532l-17 -31M642 1563l-6 -20M630 1506l20 17M686 1551l-6 -26M676 1503l-17 25M681 1563l-8 -28M656 1511l4 41M664 1542l12 -14M690 1566l20 -30M721 1538l-18 -24M718 1541l-10 -20M701 1523l14 -17M715 1547l9 -29M738 1535l10 -40M733 1568l-12 -31M741 1539l-19 -37M306 1593l6 -29M296 1599l9 -19M298 1594l-13 -33M304 1601l-17 -28M324 1559l-23 25M342 1569l-29 1M337 1604l21 -30M349 1555l-16 16M384 1605l-16 -31M356 1583l6 -26M348 1582l16 -22M342 1557l30 18M354 1606l-9 -28M407 1592l-18 -28M386 1594l17 -19M410 1601l-7 -20M388 1603l-13 -20M381 1596l20 -31M445 1570l-20 19M438 1611l-27 -31M426 1585l-8 -32M448 1565l-15 -17M424 1571l12 -26M436 1591l-8 -35M445 1584l7 -17M506 1594l-12 -36M518 1572l19 -25M516 1613l-13 -36M516 1582l6 -28M550 1573l-25 -31M543 1598l13 -24M578 1604l-9 -20M587 1594l-20 -23M577 1575l7 -18M561 1580l9 -29M597 1608l-26 -31M596 1575l8 -31M617 1597l-10 -38M611 1582l-18 -28M599 1586l16 -34M604 1579l-16 -20M624 1570l17 -28M653 1572l-8 -22M655 1607l-11 -27M640 1603l-9 -18M662 1580l18 -22M649 1605l18 -22M660 1576l11 -23M688 1603l-18 -29M683 1574l12 -35M703 1573l17 -35M724 1565l-18 12M739 1598l-14 -27M718 1590l18 -27M722 1597l20 -32M722 1580l8 18M733 1566l16 -20M760 1592l10 -24M768 1584l9 -35M748 1577l21 -24M750 1585l20 -33M778 1571l-8 32M771 1579l-7 -19M799 1589l15 -38M786 1575l12 -26M787 1588l6 -23M214 1618l-18 6M218 1643l-24 -29M266 1636l-16 -36M243 1634l10 -20M257 1633l-20 -29M238 1622l9 -29M292 1607l-17 -19M265 1645l9 -29M259 1614l31 14M282 1594l-12 18M289 1618l-7 -23M273 1605l-11 17M253 1632l19 -22M284 1632l-20 -26M292 1635l-13 -36M297 1625l-8 -17M291 1637l9 -20M312 1654l-18 -34M297 1645l24 -28M315 1608l8 -19M297 1654l9 -37M316 1623l-16 -27M284 1619l28 2M289 1637l19 -22M351 1635l-16 -19M331 1617l12 -24M312 1634l17 -19M312 1634l17 -28M339 1635l-13 -25M372 1641l-12 -32M344 1652l12 -34M353 1648l12 -31M382 1640l11 -37M448 1626l-19 -33M418 1641l9 -20M430 1633l19 -26M429 1633l15 -29M436 1652l-10 -33M641 1645l-11 -21M645 1612l5 -22M635 1607l-11 -16M632 1620l-15 -21M643 1619l-7 -28M627 1634l20 -28M659 1630l-16 -18M632 1610l14 -22M687 1643l-13 -18M667 1628l-9 -18M686 1613l-16 -27M675 1630l4 -18M662 1629l11 -35M679 1616l-7 -22M677 1649l-13 -29M674 1610l5 -23M701 1625l-27 -31M700 1654l18 -32M677 1618l19 -25M707 1614l15 -19M679 1650l21 -28M707 1650l-11 -23M681 1647l18 -35M752 1636l-12 -35M729 1645l12 -28M734 1643l9 -35M725 1628l-15 -24M751 1597l-23 32M738 1641l-9 -17M766 1622l-12 -24M757 1646l-8 -31M743 1619l13 -40M753 1629l14 -21M741 1622l11 -33M790 1625l13 -30M797 1615l12 -33M785 1614l14 -16M778 1613l15 -19M788 1642l13 -22M821 1643l-10 -19M824 1644l-9 -18M810 1616l23 -34M803 1629l11 -36M851 1580l-8 38M857 1635l10 -28M841 1636l10 -20M837 1637l10 -35M868 1609l-10 -21M837 1616l22 -28M850 1655l-13 -38M853 1622l15 -22M836 1647l15 -19M848 1629l-9 -29M877 1644l20 -35M892 1621l6 -21M891 1620l-8 -30M884 1646l7 -18M180 1663l19 -32M198 1653l20 -26M228 1679l-14 -15M238 1666l23 -33M222 1660l14 -35M243 1653l-9 -17M226 1681l13 -31M228 1678l7 -17M279 1659l6 39M259 1654l5 -19M255 1685l12 -37M265 1693l13 -39M274 1667l-23 -31M303 1657l-8 -30M308 1672l-15 -36M287 1685l6 -23M312 1688l-15 -27M304 1685l-16 -33M296 1633l37 19M289 1637l10 35M306 1664l6 -24M305 1660l7 -22M308 1664l13 -33M333 1650l15 -20M312 1676l23 -33M373 1659l10 -32M368 1683l11 -16M677 1651l13 -21M655 1693l24 -34M691 1680l-25 -33M654 1664l20 -27M682 1675l-16 -36M742 1670l-31 15M737 1667l-15 -24M747 1699l11 -39M769 1661l10 -27M765 1696l-14 -35M756 1664l16 14M751 1652l-8 -20M745 1695l20 -31M772 1679l-24 -33M777 1690l14 -20M799 1669l9 -19M805 1684l-8 -31M805 1688l-11 -16M793 1668l17 -22M797 1679l12 -32M830 1698l-13 -35M830 1664l8 -17M810 1686l12 -21M818 1684l-13 -19M822 1658l20 -32M818 1680l13 -16M830 1667l13 -34M860 1625l-19 32M851 1669l-22 -34M868 1673l-18 -25M875 1671l-20 -27M829 1682l25 -28M853 1668l8 -18M884 1655l-17 -26M875 1681l14 -27M888 1655l-23 24M884 1662l-21 -33M208 1698l-8 -31M256 1736l11 -39M266 1738l17 -32M266 1697l15 -19M271 1715l-9 -18M289 1737l-12 -39M255 1700l16 -30M260 1696l11 -20M255 1723l14 -19M266 1709l-12 -31M271 1695l-12 -14M322 1729l-12 -28M295 1723l14 -23M315 1706l-9 -17M320 1701l-10 -29M290 1709l16 -19M298 1714l21 -25M325 1705l-15 -35M321 1706l-18 -25M302 1733l-16 -20M759 1700l-13 -19M742 1702l21 -27M761 1700l15 -29M762 1705l11 -29M738 1677l18 31M769 1720l21 -36M788 1728l-9 -26M776 1733l12 -24M770 1733l16 -25M806 1730l-14 -18M778 1701l13 -18M798 1731l-13 -37M803 1716l-12 -27M785 1730l20 -23M779 1681l30 1M833 1708l-10 -15M811 1722l12 -39M836 1729l-17 -24M814 1731l-7 -21M862 1705l10 -37M870 1703l-5 -18M861 1688l2 37M869 1703l-7 -24M841 1684l28 1M852 1713l-12 -35M868 1705l-11 -32M850 1725l-23 -32M845 1716l-8 -27M844 1727l-4 -18M885 1711l8 -36M898 1699l-11 -16M876 1728l-5 -21M887 1715l-6 -23M896 1712l-17 -37M880 1719l18 -24M866 1728l7 -24M884 1720l12 -14M887 1718l11 -23M878 1706l-5 -22M183 1752l-13 -19M187 1773l14 -40M198 1756l13 -34M232 1741l-5 -21M247 1769l15 -22M256 1752l-6 -23M227 1747l29 3M284 1742l9 -33M276 1768l12 -27M284 1760l-10 -39M260 1727l22 10M275 1728l-23 6M799 1727l-0 26M777 1746l15 -24M782 1750l-11 -39M814 1760l-27 -32M800 1756l-18 -23M824 1758l14 -28M830 1765l11 -20M836 1756l11 -36M865 1759l-13 -20M860 1756l13 -17M857 1768l7 -25M870 1745l13 -33M869 1763l14 -27M862 1742l17 -37M898 1733l-11 -13M866 1750l10 -19"/>
<path stroke="#1898c0" d="M362 1494l-15 -27M528 1768l-21 -46M741 1821l-16 -21"/>
<path stroke="#1898c0" stroke-width="4.6" d="M592 1411l-12 -38M680 1494l-6 -21M767 1569l-16 -33M706 1658l-15 -30M327 1695l13 -17M883 1821l8 -22"/>
<path stroke="#1898c0" stroke-width="6" d="M528 1387l7 -14M503 1478l-7 -18M557 1448l16 -20M414 1508l22 -27M607 1486l-10 22M384 1559l-10 -20M400 1560l5 -18M423 1533l-22 -29M500 1528l17 -19M595 1566l-13 -25M643 1567l-14 -33M693 1564l-13 -33M689 1557l8 -33M725 1532l-14 -19M385 1586l-13 -38M429 1583l10 -20M489 1583l-10 -23M685 1577l11 -27M729 1597l-11 -21M784 1554l-9 19M319 1641l-16 -29M356 1646l-12 -27M399 1639l14 -38M442 1625l-22 -31M660 1643l17 -29M742 1650l-8 -25M736 1637l-14 -31M830 1626l-12 -22M874 1620l-16 -29M222 1661l-7 -21M325 1686l-11 -25M343 1676l-17 -34M374 1666l-3 25M755 1648l-18 11M747 1685l24 -28M844 1658l-17 -29M893 1689l-22 -28M277 1709l-10 -24M744 1734l10 -25M817 1721l-6 -28M843 1738l-14 -35M190 1766l-20 -22M263 1763l9 -28M770 1780l19 -32M825 1770l9 -28M856 1743l13 -17"/>
<path stroke="#00f0f0" d="M659 1373l42 33M670 1476l-31 -41M364 1511l23 -45M692 1504l14 -33M170 1528l8 -17M786 1536l28 -35M853 1548l24 -53M197 1616l13 -40M616 1641l-16 -21M354 1711l24 -32M267 1816l-12 -50M418 1789l18 -46M875 1809l-20 -23"/>
<path stroke="#00f0f0" stroke-width="4.6" d="M576 1414l-19 -36M595 1446l9 -38M597 1459l12 -16M630 1455l-9 -24M673 1506l-16 -31M732 1518l14 -37M768 1553l11 -28M776 1546l-14 -29M243 1561l33 11M827 1603l-23 -32M549 1635l-16 -35M412 1666l-10 -27M633 1683l-17 -23M699 1674l-9 -16M357 1713l-15 -17M346 1707l-17 -20M337 1730l-23 -29M737 1713l-19 7M775 1750l-9 -40M190 1821l-20 -23M201 1806l24 -28M262 1766l-20 9M866 1807l14 -16M873 1777l16 -19"/>
<path stroke="#00f0f0" stroke-width="6" d="M474 1430l-13 -23M490 1431l-13 -19M472 1426l8 -22M494 1402l13 -22M510 1425l-12 -18M517 1431l-14 -25M545 1422l19 -31M524 1412l20 -24M437 1462l16 -28M439 1477l7 -19M487 1464l7 -25M514 1469l-12 -19M520 1447l16 -22M525 1460l10 -18M532 1485l-25 -32M581 1450l-5 -22M589 1479l-15 -21M446 1461l-14 37M429 1513l-17 -21M466 1490l-10 31M517 1505l-20 -22M501 1509l21 -24M540 1491l11 -24M550 1524l-7 -27M586 1530l14 -37M606 1481l9 -19M628 1499l15 -34M365 1501l-8 38M357 1561l6 -22M362 1534l-10 -34M404 1545l13 -14M376 1562l15 -19M451 1559l20 -24M461 1552l5 -19M466 1548l-9 -37M467 1528l9 -27M483 1526l0 42M481 1533l12 -40M507 1516l20 8M505 1570l27 -30M539 1526l8 -18M542 1542l-9 -18M571 1545l-7 -17M596 1525l-5 -19M620 1560l-11 -21M616 1529l9 -22M596 1519l2 21M636 1548l-5 -18M646 1558l-9 -41M720 1525l-19 -24M722 1564l-6 -20M720 1531l6 22M311 1580l14 -25M353 1594l-11 -35M331 1588l-6 -25M379 1578l-9 -19M376 1595l-4 -18M390 1573l-32 13M343 1578l14 -17M395 1590l-12 -21M402 1583l7 -32M402 1576l11 -21M400 1607l-20 -24M380 1590l7 -28M429 1575l-12 -16M406 1585l30 2M464 1593l13 -26M501 1593l-11 -20M513 1605l18 -26M511 1575l4 -20M503 1576l9 -40M577 1575l15 -36M611 1604l8 -16M614 1599l-17 -22M648 1582l-26 -30M666 1576l10 -16M653 1598l9 -20M704 1571l-11 -31M738 1605l-7 -23M761 1572l-21 -29M767 1597l26 -31M785 1585l32 18M189 1651l-16 -26M208 1612l-16 26M258 1640l-10 -31M261 1647l-24 -33M283 1620l10 -30M306 1612l13 -30M364 1604l-31 26M374 1607l-11 -16M362 1620l10 -17M396 1619l16 -24M385 1633l10 -21M390 1599l17 27M399 1649l-16 -25M649 1619l-8 -27M665 1637l-12 -14M655 1625l10 -22M686 1628l15 -26M703 1632l-5 -19M735 1599l8 30M731 1624l-12 -18M718 1624l11 -24M730 1621l25 12M750 1631l14 -26M768 1626l11 -20M784 1623l-20 -25M755 1624l9 -31M774 1596l22 20M809 1640l-8 -21M813 1642l-19 -32M774 1623l18 -23M790 1619l-23 6M813 1624l12 -24M820 1650l8 -26M821 1627l-24 -34M838 1612l-6 -22M891 1636l8 -12M886 1631l-19 -37M181 1676l5 -20M199 1665l-10 -32M239 1677l18 -37M269 1658l14 -23M303 1653l-14 -17M356 1661l-13 -26M339 1664l18 -29M374 1671l7 -21M339 1629l26 31M364 1672l-25 17M662 1665l-7 -26M721 1652l-8 -16M735 1674l14 -16M729 1674l12 -21M749 1697l10 -37M753 1687l-10 -16M789 1686l25 -32M794 1681l-16 -29M772 1677l10 -28M791 1656l-15 -32M815 1672l20 -23M840 1693l-7 -27M892 1670l-21 -29M186 1728l12 -20M173 1728l-3 -8M220 1714l-11 -32M203 1696l10 -16M308 1698l7 -25M759 1721l19 -30M806 1704l15 -24M175 1737l19 -22M192 1762l15 -33M235 1769l-23 -33M261 1743l-10 -16M248 1754l10 -28M795 1767l-7 -27M808 1750l27 19M804 1748l17 -29M798 1736l20 12M855 1772l7 -34M898 1744l-13 -33"/>
<path stroke="#10c030" d="M407 1436l-23 -62M754 1430l19 -29M802 1508l30 -54"/>
<path stroke="#10c030" stroke-width="4.6" d="M650 1512l18 -34M765 1528l-15 25M478 1631l6 -24M545 1611l20 -23M174 1785l22 -26M189 1812l11 -17M212 1816l10 -32M224 1821l-12 -15"/>
<path stroke="#10c030" stroke-width="6" d="M460 1420l-9 -17M457 1438l14 -38M493 1432l-11 -21M463 1424l20 -23M483 1425l-6 -18M549 1409l15 -26M565 1410l-13 -24M534 1419l7 -28M436 1435l20 21M472 1463l-21 -27M481 1472l13 -22M481 1472l-5 -20M475 1477l14 -18M564 1481l-24 -29M537 1443l4 29M580 1463l9 -31M556 1447l22 -28M446 1464l22 17M452 1482l-6 -19M495 1511l8 -23M475 1504l-6 -22M548 1484l11 16M559 1517l-10 -27M578 1471l-31 20M541 1508l-15 -20M583 1487l-12 -25M572 1491l-10 -25M354 1535l9 -30M462 1566l15 -26M438 1565l23 -26M468 1543l30 9M481 1538l24 27M488 1557l-9 -29M564 1539l-10 -23M621 1537l17 -20M363 1602l12 -25M408 1582l-21 -29M439 1588l-9 -26M447 1587l26 -32M470 1577l9 -17M479 1558l-4 29M526 1614l-13 -38M557 1612l-19 -30M556 1592l-17 -24M551 1593l5 -22M695 1608l15 -25M204 1621l-21 -33M177 1628l30 13M190 1631l-12 -21M187 1626l15 -26M196 1643l-22 -28M208 1644l12 -17M200 1643l17 -20M392 1611l-7 -17M697 1630l25 -31M778 1619l-21 -27M814 1630l12 -39M190 1685l8 -23M170 1654l7 -24M174 1691l-4 -15M202 1663l11 -21M212 1683l-11 -20M350 1648l15 -17M768 1669l18 8M170 1702l11 -15M177 1733l21 -32M185 1695l-13 -25M203 1714l9 -20M178 1775l-8 -10M176 1749l-6 -14M176 1748l-6 -12M178 1732l11 -15M177 1747l13 -18M195 1780l9 -37M847 1770l-21 -26"/>
<path stroke="#40e010" stroke-width="4.6" d="M188 1810l12 -32"/>
<path stroke="#40e010" stroke-width="6" d="M479 1411l-8 -26M539 1442l8 -35M464 1452l-5 -23M450 1446l-8 -21M454 1486l-9 -39M542 1458l21 -25M561 1458l10 -28M447 1512l-7 -25M436 1522l24 -31M465 1482l-10 15M467 1499l20 -31M479 1492l-10 -18M528 1509l15 -39M469 1563l-12 -26M493 1519l-20 8M543 1541l-15 -26M469 1601l16 -18M547 1588l-15 -27M222 1621l-8 -33M182 1668l-12 -31M174 1657l-4 -12M190 1660l-14 -26M195 1667l14 -33M170 1719l8 -19M208 1715l15 -28M197 1757l-18 -34M193 1734l-23 22M220 1757l-4 -18"/>
<path stroke="#c8f000" stroke-width="4.6" d="M490 1621l24 -31M532 1613l6 -18"/>
<path stroke="#c8f000" stroke-width="6" d="M457 1429l-11 -25M473 1438l-16 -28M476 1435l14 -27M466 1478l-13 -29M462 1461l-22 -28M473 1447l-21 -35M535 1466l8 -35M586 1468l-14 -23M462 1461l-6 29M438 1496l10 -20M442 1508l14 -37M547 1521l22 -30M567 1512l-16 -28M436 1563l17 -20M478 1547l-14 -26M540 1549l15 -31M561 1534l-13 -18M469 1578l-12 -17M460 1575l14 -26M472 1577l12 -27M538 1603l17 -34M547 1591l-10 -28M547 1606l5 -19M186 1642l-13 -16M171 1621l11 -18M181 1623l-10 -29M207 1686l-26 -30M181 1671l-10 -18M176 1688l-6 -8M197 1710l-11 -25M170 1717l4 -7M192 1722l-7 -27M189 1747l11 -14"/>
<path stroke="#e8e800" stroke-width="6" d="M460 1404l11 -31M545 1478l-22 -36M545 1521l-16 -30M465 1534l9 -31M563 1543l-7 -23M460 1613l-18 -38M541 1591l-8 -34M192 1636l-13 -27M188 1651l10 -25M197 1706l-16 -25M183 1707l9 -41"/>
<path stroke="#0000ff" d="M422 1429l-6 -23M661 1435l-21 -49M849 1443l-12 -40M667 1465l-9 -32M668 1443l15 -26M703 1480l20 -29M702 1430l50 24M790 1476l22 -61M877 1485l-37 -49M242 1526l-40 -61M345 1508l30 -38M703 1482l-15 -18M761 1485l-8 -27M788 1504l-21 -33M865 1535l-32 -58M246 1550l19 -26M315 1559l-17 -32M800 1553l12 -44M827 1531l-21 -28M829 1509l-15 29M171 1581l29 -41M213 1543l-4 53M872 1585l-19 -25M851 1608l-22 -45M873 1612l22 -36M887 1609l-9 -29M501 1625l17 -32M524 1649l13 -41M590 1628l-10 -23M618 1624l-23 -26M609 1625l15 -49M440 1675l-10 -26M430 1663l18 -28M513 1672l15 -32M515 1693l18 -31M543 1653l9 -22M585 1670l9 -37M356 1735l22 -34M397 1698l-16 -22M438 1740l-26 -34M437 1729l21 -53M539 1712l-42 12M525 1720l27 -32M337 1749l-30 -35M399 1781l19 -35M444 1723l-47 46M461 1747l-13 -31M532 1774l-14 -40M727 1760l-18 -30M259 1791l9 -32M345 1802l-29 -55M445 1821l-23 -65M752 1821l8 -28M755 1785l-16 -20M810 1793l14 -36M825 1797l12 -28M861 1821l-22 -38"/>
<path stroke="#0000ff" stroke-width="4.6" d="M595 1417l-12 -29M562 1398l11 -19M570 1425l13 -24M619 1396l-16 -19M630 1435l-16 -19M627 1440l-11 -35M376 1448l21 -31M398 1450l-24 20M387 1463l13 -33M611 1463l-18 -37M618 1464l11 -33M611 1454l-18 -33M630 1472l17 -35M641 1437l13 -16M628 1452l13 -34M384 1492l12 -29M388 1490l13 -26M392 1504l14 -27M372 1506l18 -24M672 1511l10 -23M679 1489l-19 -32M673 1524l17 -23M726 1514l-11 -21M356 1555l-16 -27M344 1544l-19 -30M762 1554l-8 -34M755 1542l-7 -23M752 1546l-12 -32M270 1593l-7 -22M274 1598l18 -22M267 1606l16 -20M822 1610l8 -33M834 1599l-12 -17M805 1614l12 -34M826 1599l9 -30M460 1628l7 -26M456 1627l-18 -35M474 1619l-10 -34M452 1655l10 -40M556 1645l10 -40M409 1668l-13 -26M392 1692l16 -24M408 1675l-12 -32M625 1673l7 -21M624 1672l20 -24M623 1669l6 -27M633 1685l11 -22M719 1661l-11 -28M721 1668l-15 -32M693 1650l-12 -18M247 1699l6 -21M225 1723l23 -26M253 1731l-16 -26M235 1694l-14 -23M346 1708l-9 -21M755 1717l-24 -33M740 1701l-17 -37M729 1721l10 -23M713 1723l16 -33M289 1758l15 -17M303 1745l13 -20M298 1769l22 -31M741 1749l14 -34M769 1761l-14 -27M778 1760l-10 -23M789 1734l-38 13M170 1799l15 -21M220 1789l-14 -17M251 1821l15 -25M243 1802l12 -38M793 1802l-9 -37M799 1790l-15 -21M815 1770l-29 8M786 1800l29 20M890 1799l-9 -24M898 1794l-1 26"/>
<path stroke="#0000ff" stroke-width="6" d="M514 1405l-30 25M503 1433l10 -21M514 1401l12 -25M503 1410l20 -32M513 1395l-8 -22M536 1396l14 -23M554 1419l-23 -31M432 1457l9 -20M423 1480l22 -30M409 1442l11 -16M434 1453l-15 -24M423 1449l-14 -38M428 1437l26 4M469 1481l-13 -33M476 1455l21 -25M529 1450l-9 -20M503 1450l18 -25M558 1464l-22 -31M569 1476l16 -27M460 1508l-39 1M429 1486l15 -30M442 1510l-13 -28M444 1490l-20 35M426 1520l15 -32M408 1502l16 -24M447 1493l-12 -26M444 1483l9 -22M497 1464l9 23M492 1514l-18 -22M517 1512l-14 -35M525 1489l-17 -23M518 1495l-10 -31M556 1494l-15 -21M555 1507l-10 -32M571 1465l-13 27M575 1518l15 -30M605 1478l-5 31M616 1499l9 -34M626 1501l-10 -16M595 1502l15 -26M627 1501l-19 -23M621 1490l12 -16M625 1519l8 -33M633 1500l-8 -17M642 1486l6 -22M636 1521l12 -37M344 1535l16 -22M360 1535l-6 -18M387 1532l20 -24M378 1554l12 -21M401 1528l-9 -27M428 1553l-7 -27M421 1543l-16 -27M416 1569l12 -40M431 1549l-6 -26M473 1545l-9 -38M483 1540l9 -27M523 1547l11 -17M500 1542l15 14M516 1534l8 26M547 1534l-19 -27M533 1512l9 39M528 1565l25 -29M586 1560l-12 -15M583 1558l-9 -35M579 1533l-8 -31M602 1561l18 -24M618 1529l-8 -33M604 1538l28 15M653 1552l-7 -17M625 1560l19 -22M630 1537l15 -24M642 1541l-14 -16M667 1544l10 -29M656 1536l24 -29M658 1559l7 -19M666 1558l-6 -23M678 1543l-16 -35M707 1553l-8 -39M731 1513l-31 21M691 1539l6 -23M735 1566l16 -26M729 1561l-7 -25M729 1568l18 -28M713 1541l15 -20M736 1530l-31 7M296 1612l17 -35M324 1580l-11 -24M299 1580l18 -21M293 1552l22 29M319 1577l-11 -27M325 1573l7 -28M340 1589l5 -20M346 1609l-14 -25M378 1585l-7 -27M360 1606l-13 -33M364 1607l8 -25M354 1585l11 -19M386 1578l14 -40M392 1594l14 -32M384 1592l22 -32M412 1608l-11 -36M401 1600l6 -25M433 1595l15 -25M435 1570l-12 -18M421 1603l8 -23M420 1567l-10 23M425 1577l-14 -25M424 1573l-20 5M431 1591l11 -16M452 1608l-15 -25M476 1591l-7 -20M532 1577l-12 -28M502 1607l18 -31M495 1606l16 -35M531 1572l6 -25M586 1567l6 -20M552 1578l24 -33M583 1597l9 -25M582 1601l15 -26M580 1594l20 -27M597 1592l-17 -26M602 1567l19 -24M616 1593l7 -31M605 1572l22 -31M613 1574l18 -29M625 1588l12 -23M625 1602l7 -25M648 1577l13 -17M635 1589l7 -17M646 1554l-1 26M668 1580l11 -35M663 1578l17 -36M681 1577l-17 -36M670 1601l18 -21M703 1577l22 -31M704 1596l-13 -17M694 1584l-7 -24M733 1571l-14 -31M733 1578l12 -15M711 1590l16 -20M742 1598l6 -23M721 1602l15 -33M748 1578l12 -25M785 1609l-21 -24M770 1602l-19 -22M754 1569l10 -28M768 1605l-9 -23M799 1595l-13 -34M817 1592l-24 -27M796 1603l15 -36M815 1554l-17 14M210 1638l15 -19M223 1615l5 -19M242 1613l-18 11M243 1625l20 -34M232 1621l9 -21M258 1625l7 -30M293 1616l-23 -29M287 1602l-20 13M270 1608l11 -21M266 1651l-12 -26M274 1633l21 -29M268 1610l7 -26M273 1605l12 -15M270 1632l13 -20M256 1639l25 -32M288 1633l17 -20M290 1602l26 13M310 1630l-21 -26M313 1628l7 -32M320 1643l-21 -25M314 1634l8 -19M296 1650l20 -25M296 1619l23 -34M298 1622l16 -25M355 1619l-30 22M355 1632l-17 -21M355 1611l-15 -17M355 1637l-16 -30M356 1610l17 23M380 1634l-9 -16M365 1609l-15 -23M389 1617l11 -30M412 1648l-10 -25M415 1636l12 -26M420 1639l-10 -17M420 1611l6 22M423 1649l-17 -27M631 1654l-8 -35M641 1621l12 -38M637 1642l24 -30M643 1631l12 -15M632 1637l17 -20M651 1630l6 -20M634 1617l-7 -17M643 1634l-10 -26M632 1616l14 -18M662 1638l10 -26M670 1617l22 -27M672 1620l22 -27M683 1642l-13 -20M666 1607l-14 -16M673 1655l-19 -33M680 1655l-11 -32M666 1622l19 -24M681 1618l11 -25M692 1613l13 -25M696 1648l12 -23M692 1608l11 -18M692 1630l-7 -24M721 1644l-18 -20M705 1617l-13 -32M750 1637l-14 -36M719 1619l22 -35M736 1636l-14 -26M746 1647l-17 -24M754 1639l-23 -35M763 1632l14 -30M750 1619l19 -26M739 1643l21 -23M767 1619l15 -18M757 1605l-3 39M777 1616l-18 -23M796 1643l13 -27M788 1626l-6 -20M785 1639l7 -33M794 1648l21 -24M784 1622l13 -19M822 1651l12 -31M828 1633l17 -34M816 1592l-7 25M820 1641l-10 -23M867 1625l-6 -22M855 1641l-24 -32M844 1650l18 -32M868 1630l-6 -24M855 1627l-20 -28M853 1633l-13 -23M875 1646l-17 -27M849 1635l-17 -27M872 1608l-10 -20M856 1613l-6 -17M887 1624l11 -16M879 1615l5 41M897 1639l-19 -22M870 1638l23 -28M210 1651l15 -24M213 1687l-11 -30M220 1658l-11 -19M236 1665l-11 -37M257 1664l-15 -18M256 1660l-5 -18M245 1691l16 -35M262 1674l11 -22M291 1686l-15 -25M279 1689l-8 -31M286 1692l-10 -23M281 1673l14 -22M266 1684l12 -17M313 1659l12 -20M300 1669l-14 -35M298 1649l-16 -18M282 1677l19 -37M297 1680l6 -18M301 1694l17 -30M290 1660l7 -24M296 1692l-7 -24M288 1660l9 -22M297 1657l12 -34M329 1647l-12 21M347 1679l5 -21M381 1666l-21 -24M693 1687l-22 -33M657 1675l18 -26M684 1690l-25 -34M675 1667l6 -24M682 1694l-15 -25M652 1651l32 6M743 1668l5 -21M749 1659l-10 -26M749 1677l-4 -19M738 1696l23 -32M767 1661l10 -16M757 1676l-20 -34M750 1671l15 -26M770 1675l6 -17M773 1662l17 -29M802 1675l-15 -25M789 1650l-5 -20M777 1684l15 -20M774 1652l15 -19M801 1692l7 -24M791 1662l-12 -22M841 1664l-18 -26M838 1654l-11 -19M819 1675l-13 -26M813 1667l11 -36M827 1652l15 -23M822 1672l15 -17M815 1672l9 -36M840 1658l5 -20M863 1700l9 -41M857 1660l12 -19M861 1680l-8 -25M846 1652l11 -21M852 1680l8 -19M890 1684l-5 -20M876 1635l10 24M863 1666l16 -23M870 1669l14 -22M221 1720l-25 -32M283 1698l8 -26M293 1711l-14 -21M269 1736l-20 -32M271 1730l21 -26M273 1684l-2 37M270 1697l12 -18M269 1718l-13 -16M294 1719l-21 -27M285 1715l-16 -23M272 1704l-0 21M296 1723l-5 -23M295 1691l-5 -17M309 1715l-24 6M297 1719l12 -16M321 1723l-19 -30M286 1715l18 -34M307 1727l12 -14M314 1723l7 -30M314 1703l-14 34M742 1727l16 -19M766 1729l-6 -17M741 1705l21 -25M768 1737l15 -33M760 1708l17 -27M771 1739l18 -32M783 1733l-11 -29M788 1703l20 -30M788 1700l7 -23M785 1701l16 -30M806 1711l-8 -35M774 1695l25 9M790 1711l8 -18M817 1728l-23 -30M801 1719l13 -31M806 1728l17 -33M831 1707l10 -25M795 1688l34 0M875 1728l-15 -23M852 1722l6 -22M840 1707l14 -33M854 1712l-4 -20M859 1734l-9 -39M843 1725l8 -36M852 1718l-17 -35M872 1701l-22 -28M873 1707l-11 -19M855 1699l13 -24M890 1716l-9 -37M893 1714l6 -25M898 1725l-11 -20M886 1706l12 -16M877 1718l11 -28M888 1734l10 -21M867 1727l27 -30M881 1734l-6 -24M880 1721l13 -39M898 1701l-21 -26M869 1729l18 -33M170 1750l8 -13M214 1743l-11 -18M201 1779l26 -29M245 1764l8 -28M230 1743l17 -22M246 1767l-15 -19M269 1771l-6 -21M277 1739l-16 -20M265 1752l-8 -31M277 1771l-27 -30M271 1734l-19 -21M786 1773l17 -20M784 1754l-7 -27M809 1741l-11 -16M795 1753l-13 -30M787 1745l9 -23M802 1771l19 -27M821 1759l9 -29M824 1753l16 -36M836 1760l12 -26M848 1743l-15 -27M857 1755l11 -31M841 1749l9 -37M896 1716l-1 26M889 1770l-21 -26M890 1761l-20 -26M891 1775l8 -16M879 1745l6 20"/>
<path stroke="#1898c0" d="M192 1575l30 -37M714 1780l16 -32"/>
<path stroke="#1898c0" stroke-width="4.6" d="M618 1421l11 19M713 1521l9 -17M408 1671l-12 -14M255 1728l-14 -35M221 1796l8 -21"/>
<path stroke="#1898c0" stroke-width="6" d="M523 1419l-8 -20M516 1451l15 -28M589 1461l-12 -17M493 1497l11 17M593 1463l16 35M406 1532l5 -19M379 1538l16 -34M493 1549l-17 -24M527 1544l11 -21M576 1509l22 29M658 1564l9 -36M697 1527l-18 -27M684 1563l20 -24M299 1595l11 -37M342 1569l21 -24M421 1602l25 -28M646 1579l22 -25M704 1586l-10 -21M800 1573l-24 -30M199 1635l24 -28M315 1639l10 -23M367 1619l18 -35M389 1631l25 -28M638 1643l-22 -33M681 1620l-22 -27M756 1618l-34 4M782 1619l-11 -21M816 1637l12 -24M862 1640l11 -24M250 1648l-8 -17M341 1651l10 -24M335 1662l15 -36M663 1657l18 -23M739 1672l20 -32M743 1672l10 -16M823 1670l-10 -36M890 1672l-10 -36M269 1733l-10 -19M786 1711l9 -18M827 1735l-25 -29M894 1702l4 -13M241 1754l-18 -35M287 1766l-15 -39M787 1741l31 12M845 1752l23 -33"/>
<path stroke="#00f0f0" d="M749 1441l-44 -50M721 1477l30 -50M391 1514l-22 -40M717 1512l-12 -35M218 1551l12 -52M765 1526l31 5M853 1536l12 -35M223 1606l-18 -32M499 1667l-20 -29M363 1715l23 -37M280 1821l-30 -35M816 1788l15 -34M843 1819l29 -41"/>
<path stroke="#00f0f0" stroke-width="4.6" d="M578 1394l12 -19M615 1430l-5 -21M593 1452l22 -32M398 1494l-7 -19M684 1503l-9 -18M330 1539l7 -24M776 1544l-10 -19M268 1550l6 28M827 1607l20 -34M461 1652l-13 -26M544 1617l-7 -20M396 1669l-12 -36M641 1675l17 -31M239 1695l21 -25M335 1706l17 -22M344 1701l-9 -37M339 1715l13 -37M741 1720l-16 -22M760 1767l-10 -39M189 1810l15 -19M213 1821l14 -17M227 1806l6 -21M883 1798l-13 -21M898 1812l-15 -17"/>
<path stroke="#00f0f0" stroke-width="6" d="M458 1408l-22 -30M480 1433l-7 -22M485 1443l-18 -37M478 1427l7 -21M515 1433l-18 -32M501 1429l15 -30M532 1398l5 -18M447 1464l-12 -39M454 1477l-11 -17M459 1465l-15 -22M464 1486l18 -37M510 1472l15 -29M533 1469l-12 -18M525 1465l14 -38M565 1452l-9 -22M575 1469l-8 -22M422 1518l-14 -23M428 1527l-12 -40M443 1508l14 -24M506 1515l-9 -21M510 1515l8 -33M519 1522l25 -29M548 1479l26 14M540 1521l-9 -23M551 1492l25 29M624 1514l-12 -20M366 1554l19 -34M382 1537l-13 -29M347 1558l8 -22M374 1551l10 -28M384 1549l14 -24M429 1530l-16 -26M466 1542l-13 -38M439 1539l14 -32M464 1528l12 -21M448 1559l-7 -32M478 1562l7 -31M493 1539l16 -23M528 1536l-6 -20M525 1527l-21 -27M536 1556l9 -21M526 1540l16 -22M576 1527l6 -22M571 1550l19 -24M584 1543l23 -31M589 1526l21 22M649 1545l9 -37M661 1551l-15 -25M687 1553l-18 -23M717 1537l-12 -30M713 1559l7 -22M293 1594l16 -19M349 1580l-8 -33M315 1584l14 -25M334 1602l-7 -25M366 1585l8 -16M358 1590l-8 -36M345 1607l19 -33M368 1580l10 -32M384 1603l17 -27M400 1604l16 -19M398 1595l-12 -35M411 1611l-14 -31M415 1602l10 -17M423 1594l-11 -21M409 1599l12 -20M491 1576l7 39M479 1570l-10 -26M522 1575l-7 -27M530 1594l-7 -23M571 1576l-15 -36M563 1595l18 -37M601 1604l-12 -21M653 1607l-10 -24M624 1590l24 -28M683 1574l-24 -27M671 1589l-14 -24M695 1588l13 -16M724 1576l21 -35M756 1579l10 -36M782 1573l-8 -31M803 1575l-13 -28M214 1647l17 -20M241 1648l-13 -27M258 1626l-11 -18M269 1649l-18 -35M306 1643l-8 -21M342 1625l-19 -26M330 1623l20 -37M368 1610l-15 -17M374 1617l-17 -27M375 1605l30 18M389 1632l-10 -30M390 1639l7 -19M449 1642l-18 -26M649 1624l-11 -25M652 1633l9 -39M688 1630l-19 -35M680 1621l11 -19M709 1647l5 -22M730 1647l20 -35M748 1642l-17 -34M737 1625l9 -40M753 1611l23 -28M741 1621l23 3M755 1622l-8 -26M757 1628l-10 -26M792 1615l16 -35M805 1615l-22 -34M791 1630l15 -36M809 1619l-17 26M789 1619l-23 -32M828 1641l15 -23M814 1613l7 -21M818 1645l-18 -26M840 1622l-7 -28M807 1610l14 -20M885 1603l-33 5M886 1630l12 -17M180 1658l16 -26M215 1672l-10 -16M239 1659l-4 -19M267 1665l-7 21M323 1645l18 26M322 1686l16 -23M379 1671l3 19M360 1659l16 -19M372 1687l-21 -33M357 1652l20 -25M716 1692l7 -26M726 1658l-8 -29M722 1686l12 -30M730 1676l19 -31M750 1675l20 -25M771 1677l-15 -27M781 1675l8 -21M797 1686l-10 -23M790 1637l21 20M770 1677l14 -17M815 1668l-10 -15M844 1669l-17 -26M885 1696l13 -20M186 1709l14 -35M207 1699l-21 -33M218 1704l-21 -27M209 1693l12 -15M323 1731l-14 -40M784 1682l-24 6M842 1683l-17 27M170 1728l13 17M217 1741l14 -35M195 1746l15 -18M236 1751l-7 -31M222 1750l20 -27M772 1759l11 -19M839 1777l-6 -26M831 1759l-7 -18M832 1769l-13 -20M849 1724l25 7M881 1780l-20 -30"/>
<path stroke="#10c030" d="M647 1428l-19 -35M769 1421l14 -48M299 1541l11 -32"/>
<path stroke="#10c030" stroke-width="4.6" d="M735 1506l13 -19M841 1579l-20 -23M536 1635l23 -26M568 1651l-18 -28M197 1795l-17 -36M175 1819l-5 -15M217 1781l8 -27"/>
<path stroke="#10c030" stroke-width="6" d="M465 1394l10 18M438 1396l20 2M475 1399l14 -22M487 1402l7 -26M502 1397l13 -24M554 1414l-11 -30M571 1404l-34 2M465 1446l-8 -23M464 1452l-13 30M468 1454l-8 -27M503 1477l-12 -14M479 1446l-8 -23M507 1459l-5 -22M534 1447l17 -22M532 1479l9 -26M557 1482l14 -39M584 1469l8 -16M457 1495l-18 -27M445 1488l16 -31M487 1528l-15 -31M497 1503l-6 -19M544 1519l14 -35M543 1514l22 -33M562 1506l-6 -22M560 1484l17 -25M575 1515l-20 -25M366 1540l12 -23M415 1542l-9 -37M474 1540l-14 -23M460 1557l-6 -18M485 1563l-18 -22M479 1536l-12 -14M533 1545l6 -20M542 1544l-11 -31M313 1567l22 33M391 1586l7 -29M401 1578l-5 -19M459 1584l-18 -34M474 1565l-14 -17M495 1586l-14 -29M479 1581l9 -38M556 1575l-10 -24M530 1580l32 23M561 1569l-3 19M613 1604l-15 -21M685 1605l5 -20M182 1631l13 -36M201 1615l-21 -25M187 1608l16 -21M176 1616l37 8M181 1624l11 -18M231 1589l-16 29M205 1648l-9 -21M421 1641l8 -29M680 1652l16 -32M806 1628l-10 -16M898 1600l-10 -14M177 1695l8 -30M194 1685l-7 -23M221 1694l-14 -30M218 1686l-18 -37M394 1672l-27 -31M734 1662l-11 -33M843 1657l7 -21M202 1712l-19 -24M178 1726l15 -37M190 1733l12 -21M219 1717l11 -14M202 1747l-21 -34M170 1746l8 -16M170 1766l14 -21M192 1755l-18 -36M170 1735l1 12M192 1749l12 -39M870 1764l17 -27"/>
<path stroke="#40e010" stroke-width="4.6" d="M210 1807l-12 -30"/>
<path stroke="#40e010" stroke-width="6" d="M476 1392l-5 -19M543 1410l10 -26M460 1418l22 23M467 1449l-12 -28M508 1475l-17 -29M545 1424l-5 23M574 1448l8 -35M460 1504l-14 -29M449 1509l25 -29M480 1487l-7 -22M497 1503l-11 -22M546 1494l13 -24M590 1496l-23 -35M462 1539l11 -26M544 1564l18 -26M451 1588l8 -18M485 1577l-25 -33M196 1636l-13 -25M207 1621l7 -25M170 1669l10 -21M170 1686l19 -22M180 1681l-10 -17M170 1681l5 -8M170 1702l8 18M212 1709l-3 22M186 1772l-12 -17M189 1769l-19 -27M211 1745l-14 -24"/>
<path stroke="#c8f000" stroke-width="4.6" d="M511 1633l-24 -29M175 1809l-4 -20"/>
<path stroke="#c8f000" stroke-width="6" d="M462 1406l-15 -20M452 1418l-15 -26M445 1453l14 -36M461 1479l-12 -23M453 1424l3 21M485 1427l-23 8M529 1452l10 -30M452 1524l18 -33M452 1513l-14 -18M447 1499l-10 -24M543 1482l-8 -17M566 1509l-7 -19M569 1501l-7 -23M450 1547l9 -28M447 1556l-11 -19M562 1535l-27 -32M544 1538l-8 -28M461 1593l-15 -23M470 1587l-25 17M494 1548l15 29M541 1600l-17 -21M547 1593l-16 -19M559 1578l-9 -20M181 1619l11 -39M181 1626l17 -22M185 1631l-15 -23M180 1689l-10 -22M188 1662l-18 -29M170 1672l5 -13M170 1708l13 -20M184 1709l5 -21M209 1721l-9 -29M224 1737l-18 -21"/>
<path stroke="#e8e800" stroke-width="6" d="M449 1422l9 -19M453 1489l9 -20M439 1568l26 -31M475 1527l-11 -15M549 1553l11 -38M448 1576l14 -24M541 1591l22 -28M170 1607l1 -3M170 1670l16 -27M170 1716l10 -22"/>
<path stroke="#000" stroke-width="8.6" stroke-linecap="round" d="M317.5 1434.3V1455.0M383.3 1463.1V1470.4M462.3 1438.1V1457.1M511.0 1403.6V1428.3M413.2 1493.7V1516.5M479.3 1499.4V1524.1M511.0 1461.0V1510.6M335.5 1512.9V1520.2M431.5 1526.7V1531.1M286.7 1574.7V1595.0M333.7 1576.0V1581.5M315.4 1583.6V1595.0M526.2 1593.2V1595.0M238.9 1603.8V1628.5M191.1 1632.4V1651.4M238.0 1660.9V1665.3M218.8 1672.7V1685.9M285.8 1600.0V1615.0M315.4 1600.0V1641.8M314.5 1668.5V1672.9M525.3 1616.8V1632.7M507.0 1676.6V1720.2M524.4 1675.2V1679.6M557.6 1572.2V1624.6M655.4 1589.8V1613.1M572.9 1670.7V1681.5M605.5 1645.9V1722.2M620.7 1705.3V1710.8M620.7 1730.3V1733.7M668.8 1705.3V1722.2M764.5 1673.2V1677.6M811.4 1675.2V1679.6M846.8 1630.6V1647.7"/>
</g>
<g fill="none" stroke-width="3.8" stroke-linecap="round">
<path stroke="#0000ff" d="M1001 1413l15 -39M999 1401l19 -27M1288 1435l26 -31M1472 1424l-13 -42M1463 1438l-23 -28M1448 1413l-9 -29M1497 1404l-9 -30M1483 1426l12 -50M1625 1425l-18 -37M1676 1412l27 -37M1028 1459l-12 -29M1002 1464l16 -37M1078 1480l-24 -30M1075 1463l-8 -23M1082 1483l-12 -26M1157 1457l-32 -45M1219 1475l-6 -28M1273 1472l20 -57M1422 1456l24 -35M1674 1447l19 -24M999 1478l-20 38M1009 1523l-24 -27M997 1532l20 -44M1046 1522l10 -29M1138 1508l35 -43M1264 1527l22 -30M1362 1522l17 -23M1362 1500l16 -47M1674 1516l15 -21M1008 1532l12 -29M1040 1523l-28 43M1054 1531l16 -29M1089 1514l8 30M1129 1563l41 -48M1213 1545l-27 -31M1314 1530l-17 49M1538 1567l9 -34M1566 1559l26 -38M1573 1548l-7 -29M1080 1592l-33 -42M1095 1610l-17 -35M1196 1550l-41 34M1240 1595l-17 -29M1537 1566l-43 7M1539 1609l11 -41M1535 1618l21 -47M1567 1598l27 -35M1581 1606l32 -40M1631 1595l22 -24M1122 1611l-12 -23M1129 1620l-13 -41M1158 1644l-11 -22M1168 1651l-18 -44M1224 1625l44 -53M1462 1613l5 43M1446 1613l8 -31M1480 1614l15 -22M1527 1619l30 -37M1602 1629l10 -30M1155 1664l23 -48M1148 1676l39 7M1208 1672l17 -27M1372 1672l15 -21M1407 1651l1 38M1442 1685l12 -39M1449 1660l20 -29M1535 1681l-25 -63M1592 1672l-26 -40M1712 1677l-12 -15M1707 1665l-19 -27M1413 1713l20 -28M1430 1737l16 -40M1486 1738l-14 -41M1555 1729l-18 -41M1594 1731l-18 -55M1693 1730l18 -41M1034 1762l-11 -46M1463 1760l7 -25M1489 1768l15 -26M1513 1763l-14 -52M1536 1700l-11 58M1594 1771l36 -45M1070 1820l-14 -29M1095 1791l20 -38M1123 1811l-15 -20M1136 1778l-26 1M1195 1791l-12 -32M1247 1787l25 -33M1305 1812l-10 -23M1379 1792l-23 -32M1465 1801l37 -52M1552 1792l24 -34M1676 1794l35 -45"/>
<path stroke="#0000ff" stroke-width="4.6" d="M1530 1434l-14 -29M1509 1405l18 -27M1530 1424l10 -27M1540 1397l16 -18M1583 1405l8 -18M1462 1457l-37 8M1449 1479l-6 -21M1458 1446l25 8M1471 1464l13 -16M1491 1470l9 -32M1466 1451l15 -24M1547 1449l21 -29M1582 1464l-12 -14M1613 1450l10 -31M1596 1456l-12 -17M1617 1447l-7 -29M1632 1463l-10 -25M1398 1526l-8 -29M1380 1477l-10 34M1379 1472l12 25M1472 1496l-15 32M1445 1497l-13 -24M1457 1492l-25 15M1436 1527l16 -29M1549 1500l14 -19M1561 1502l17 -26M1566 1526l18 -27M1567 1485l16 -26M1591 1493l-36 11M1615 1503l-12 -22M1611 1487l-24 -29M1606 1511l20 -27M990 1526l-11 -13M997 1571l9 -34M991 1566l14 -38M1000 1531l6 -20M1364 1540l9 -17M1364 1503l-14 26M1377 1537l-16 -24M1399 1555l-10 -32M1505 1523l12 -18M1508 1543l22 -26M1624 1522l-9 25M1586 1544l10 -21M1622 1536l23 -30M1656 1538l7 -24M1699 1547l-13 -17M1703 1566l8 -18M1680 1563l6 -28M1698 1549l-14 -22M1443 1594l-15 -38M1417 1600l-19 -32M1424 1594l12 -24M1466 1600l-22 -32M1450 1575l16 -23M1451 1591l-12 -33M1441 1594l11 -34M1472 1563l3 42M1483 1602l13 -24M1490 1601l6 -26M1663 1597l8 -17M1683 1583l14 -19M1707 1586l-10 -37M1706 1591l6 -16M1039 1603l36 2M1053 1622l20 7M1058 1638l8 -16M1060 1633l-6 -20M1066 1612l15 -29M1090 1641l14 -35M1085 1632l10 -19M1341 1635l11 -32M1423 1656l-13 -36M1417 1635l-6 -25M1443 1614l-26 -29M1701 1644l-13 -23M1712 1624l-17 20M996 1673l-5 -21M988 1680l-7 -23M1014 1687l19 -23M1031 1653l-7 -20M1038 1660l-19 3M1043 1684l-13 -17M1134 1672l6 -24M1145 1656l-6 -26M1148 1686l-10 -26M1154 1660l-23 -33M1245 1681l-16 -37M1012 1697l18 -21M1010 1721l19 -27M1015 1727l-9 -39M1109 1780l15 -37M1119 1752l-19 -31M1099 1746l18 -22M1207 1750l16 -29M1198 1757l11 -19M1191 1745l35 8M1202 1742l-15 -24M1254 1750l-9 -25M1281 1734l16 10M1312 1772l-11 -30M1344 1771l-15 -17M1136 1775l12 -18M1136 1778l22 -25M1124 1819l12 -28M1201 1820l10 -32M1184 1788l13 -19M1235 1820l-19 -29M1219 1808l8 -23"/>
<path stroke="#0000ff" stroke-width="6" d="M1517 1448l-13 -38M1514 1479l-12 -30M1531 1454l-14 -24M1461 1509l17 -24M1468 1503l11 -23M1487 1516l-19 -33M1497 1510l-22 -32M1492 1523l11 -26M1470 1507l20 -31M1535 1495l-16 -30M1518 1488l14 -27M1627 1511l-10 -27M1429 1565l10 -25M1431 1533l26 -31M1430 1548l12 -14M1444 1533l4 -19M1470 1554l-18 -30M1438 1561l12 -16M1496 1544l-18 -22M1468 1541l16 -20M1501 1565l-12 -26M1492 1543l-12 -23M1465 1560l18 -31M1468 1550l15 -25M979 1594l7 -13M997 1591l-16 -20M979 1568l21 15M979 1578l7 -10M992 1569l-13 2M1024 1551l12 21M1028 1582l-14 -25M1044 1603l-17 -26M1024 1607l15 -30M1032 1593l-12 -39M1021 1590l14 -21M1008 1641l-10 -35M987 1623l10 -31M1000 1610l-13 -22M982 1619l13 -31M989 1635l-10 -15M1022 1616l-6 19M1014 1597l14 30M1019 1618l18 -33M1023 1640l-20 -23M1012 1637l12 -26M1060 1684l15 -29M1039 1666l8 -21M1052 1676l22 -28M1049 1648l7 37M1054 1691l7 -23M1043 1688l-10 -15M1042 1653l-9 -24M1062 1669l-9 -40M1047 1665l-18 4M1060 1681l-10 -32M1099 1683l-11 -24M1087 1676l7 -28M1094 1683l-18 -29M1101 1695l-19 -35M1080 1655l-12 -14M1088 1664l-10 -19M1120 1632l13 32M1120 1683l-13 -27M1131 1657l-24 -30M1112 1656l-13 -15M1100 1688l8 -21M1273 1664l10 -30M1066 1674l-2 23M1045 1704l-11 -23M1069 1699l-9 -28M1061 1718l-14 -37M1051 1715l-17 -24M1072 1716l-12 -22M1034 1702l22 -26M1044 1718l7 -31M1062 1737l-18 -37M1070 1703l-7 -19M1071 1724l9 -24M1097 1699l-9 -16M1069 1738l19 -33M1090 1727l14 -18M1100 1731l-13 -17M1080 1708l-12 -31M1084 1723l8 -18M1082 1721l21 -28M1080 1712l12 17M1124 1736l-10 -29M1097 1696l25 -29M1110 1727l-12 -21M1115 1730l-10 -30M1098 1715l10 -29M1122 1720l11 -16M1120 1718l-16 -21M1125 1712l-12 -16M1113 1725l-14 -16M1105 1718l-12 -15M1144 1735l19 -32M1138 1714l8 -16M1156 1710l-15 -17M1161 1700l-13 -16M1154 1705l-12 -32M1179 1703l-10 -35M1185 1711l-10 -38M1181 1722l13 -20M1185 1700l-18 -28M1203 1720l-22 -30M1220 1720l-11 -37M1226 1730l-19 -25M1227 1736l15 -33M1256 1724l-11 -30M1243 1704l-8 -23M1247 1726l-7 -33M1303 1733l-21 -30M1319 1700l-6 -17M1042 1754l23 18M1038 1760l14 -23M1042 1738l-6 -23M1040 1743l5 -18M1057 1761l-25 -30M1069 1735l18 36M1073 1761l16 -28M1089 1777l-7 -25M1100 1720l-22 34M1155 1729l-7 38M1162 1746l-13 -34M1134 1772l18 -29M1139 1760l-10 -31M1182 1745l-22 30M1188 1766l-12 -19M1187 1727l-5 34M1188 1756l-14 -34M1165 1714l11 18M1166 1760l18 -24M1265 1760l16 -23"/>
<path stroke="#1898c0" d="M997 1412l-13 -38M1013 1401l-7 -27M1261 1478l14 -50M1688 1497l8 -27M1539 1563l19 -40M1156 1623l27 -32M1672 1677l-24 -42M1463 1747l-24 -39M1304 1796l29 -41"/>
<path stroke="#1898c0" stroke-width="4.6" d="M1543 1415l30 17M1587 1466l19 -33M1628 1526l-17 -28M1390 1546l24 -33M1698 1544l-5 -17M1432 1586l5 -23M1687 1612l15 -31M990 1686l-11 -13M1009 1705l17 -34M1132 1770l-7 -22M1234 1757l14 -38"/>
<path stroke="#1898c0" stroke-width="6" d="M1511 1474l-15 -39M1516 1474l13 -21M1502 1527l-12 -32M1619 1522l14 -25M1016 1588l8 -34M987 1646l9 -17M1108 1686l12 -31M1066 1728l-8 -32M1207 1735l17 -32M1072 1744l9 28M1152 1753l-18 -33"/>
<path stroke="#00f0f0" d="M979 1392l6 -16M1217 1435l-13 -59M1597 1431l14 -18M1606 1428l-10 -38M1674 1426l-15 -52M1053 1457l14 -21M1198 1450l20 -37M1445 1426l-23 22M1652 1458l35 -40M998 1526l24 -34M1179 1462l-27 56M1712 1489l-16 -33M1310 1554l-27 -33M1575 1528l8 -26M1290 1605l13 -26M1630 1607l11 -22M1201 1641l-25 -31M1221 1647l-31 31M1384 1683l-17 -20M979 1724l27 -40M1422 1738l11 -46M1672 1700l-23 -34M1420 1746l-25 -42M1081 1820l21 -31M1101 1781l-19 -28M1288 1789l15 -21"/>
<path stroke="#00f0f0" stroke-width="4.6" d="M1498 1423l15 -21M1514 1405l21 -26M1559 1388l-11 -14M1577 1398l18 -24M1442 1441l10 -22M1499 1451l-13 -16M1575 1468l12 -30M1585 1460l-26 -30M1625 1421l-20 27M1387 1513l15 -36M1457 1489l12 33M1574 1477l21 27M1556 1489l12 -17M1587 1509l7 -22M1669 1505l11 -32M1347 1541l15 -23M1410 1546l-13 -26M1642 1547l-14 -27M1682 1542l-7 -24M1420 1587l10 -20M1712 1565l-7 -24M1057 1632l7 -19M1415 1594l-30 24M1381 1645l-7 -18M1712 1619l-11 -14M1137 1655l6 -22M1032 1725l7 -22M1030 1718l-16 -33M1207 1746l7 -17M1230 1713l-13 40M1310 1757l16 -35M1342 1742l-24 -32M1197 1811l24 -29M1196 1797l13 -23"/>
<path stroke="#00f0f0" stroke-width="6" d="M1538 1463l-21 -32M1494 1458l17 -20M1532 1530l-16 -38M1513 1511l14 -22M1514 1516l15 -33M1622 1494l19 -26M1438 1539l-17 -33M1426 1567l-10 -36M1499 1566l-25 -27M979 1572l24 5M1362 1601l-21 -31M1349 1596l12 -28M997 1632l-11 -38M1038 1611l-6 -19M1068 1667l7 -25M1295 1673l-6 -17M1306 1671l15 -20M1318 1663l-9 -28M1337 1685l-10 -32M1080 1709l-22 -34M1121 1716l8 -21M1145 1712l21 -24M1159 1716l20 -31M1175 1722l-19 -27M1203 1698l8 -25M1186 1711l9 -23M1184 1727l19 -34M1236 1709l-15 -22M1237 1695l-10 -18M1308 1725l-16 -31M1305 1722l16 -39M1344 1706l-5 -21M1039 1763l12 -15M1062 1767l15 -34M1148 1772l10 -19M1129 1754l19 -28M1263 1757l14 -23"/>
<path stroke="#10c030" d="M979 1420l10 -14M1419 1407l-10 -31M1704 1423l-17 -49M1193 1445l-17 -25M1395 1480l-19 -28M1190 1496l26 -36M1355 1506l-31 -40M1285 1601l9 -27M1434 1623l10 -44M1342 1697l36 2M1622 1720l-14 -31M1261 1820l13 -33M1315 1820l-23 -26"/>
<path stroke="#10c030" stroke-width="4.6" d="M1489 1398l15 -25M1592 1410l-10 -17M1565 1453l-20 -35M1563 1435l31 14M1635 1462l-11 -27M1650 1470l-17 -29M1633 1452l18 -21M1536 1515l15 -19M1538 1520l-10 -30M1680 1487l-10 -31M1307 1548l18 -21M1376 1531l-9 -20M1407 1532l-12 -21M1383 1522l10 -16M1632 1564l-11 -23M1669 1544l-18 -25M1653 1557l11 -37M1658 1577l7 34M1053 1624l11 -26M1268 1616l4 33M1387 1642l-11 -32M1026 1693l-23 -35M1235 1673l11 -31M1222 1758l10 -26M1283 1762l9 -23M1311 1752l-21 -31M1329 1739l-9 -27M1230 1797l-9 -40"/>
<path stroke="#10c030" stroke-width="6" d="M1497 1478l11 -14M1624 1498l11 -29M1637 1527l9 -34M1430 1529l8 -27M1405 1514l28 30M1372 1597l-20 -26M1385 1567l12 -22M1374 1611l10 -38M1022 1611l16 -20M1349 1622l-15 25M1242 1664l21 -33M1335 1690l-15 -29M1307 1698l16 -37M1303 1683l22 -30M1347 1687l-12 -14M1242 1714l-18 -29M1247 1720l15 -22M1275 1729l-6 -19M1287 1725l13 -17M1062 1766l14 -32M1268 1738l14 -20M1256 1759l22 -33"/>
<path stroke="#40e010" d="M1188 1447l-31 -47M1299 1514l8 -33M1324 1517l18 -20M1408 1753l-37 -59M1382 1814l12 -52"/>
<path stroke="#40e010" stroke-width="4.6" d="M1571 1437l15 -28M1543 1460l11 -18M1638 1482l15 -28M1410 1517l-7 -18M1529 1520l16 -34M1398 1559l-7 -19M1627 1563l-8 -24M1673 1565l-9 -28M1333 1606l-12 -38M1335 1576l-10 -22M1656 1597l14 -32M1270 1635l-13 -20M1341 1616l19 -31M1397 1614l12 -28M1243 1657l-15 -22M1299 1729l-31 19M1343 1740l-11 -25"/>
<path stroke="#40e010" stroke-width="6" d="M1643 1523l11 -25M1644 1505l12 -15M1416 1546l9 -18M1379 1579l-8 -25M1381 1607l-9 -33M1411 1604l-13 -36M1299 1610l-16 -23M1315 1643l13 -29M1270 1627l-1 25M1300 1651l-22 14M1274 1677l5 38M1306 1698l-14 -34M1320 1715l17 -35M1278 1778l9 -40"/>
<path stroke="#c8f000" d="M1381 1444l17 -30M1438 1488l-13 -47M1276 1579l19 -23"/>
<path stroke="#c8f000" stroke-width="4.6" d="M1562 1476l10 -26M1394 1526l23 -32M1420 1508l18 -24M1324 1537l18 -24M1633 1527l-16 -19M1320 1565l9 25M1315 1589l12 -38M1263 1643l-8 -37M1383 1633l-41 8M1226 1662l23 -33M1307 1775l-16 -23"/>
<path stroke="#c8f000" stroke-width="6" d="M1412 1540l-8 -22M1351 1582l7 -30M1398 1600l8 -37M1278 1626l22 12M1280 1648l14 -20M1347 1642l-18 -37M1327 1632l-17 -20M1311 1621l10 -16M1343 1614l-8 -19M1253 1655l10 -19M1297 1682l-22 -30M1318 1656l4 34M1273 1719l-12 -21M1248 1715l27 2M1300 1676l0 21M1341 1677l-2 32M1335 1711l16 -21M1252 1738l10 -18M1250 1759l20 -25"/>
<path stroke="#e8e800" d="M1324 1523l-19 -24"/>
<path stroke="#e8e800" stroke-width="4.6" d="M1437 1520l-19 -26M1343 1526l-15 -19M1337 1605l12 -34M1354 1649l16 -32"/>
<path stroke="#e8e800" stroke-width="6" d="M1431 1549l6 -26M1356 1588l-13 -15M1321 1612l14 -26M1267 1673l14 -34M1304 1660l-8 37M1263 1698l-7 -29M1316 1704l21 -34"/>
<path stroke="#f06010" d="M1319 1486l14 -21"/>
<path stroke="#f06010" stroke-width="4.6" d="M1264 1620l20 -23M1369 1683l9 -35"/>
<path stroke="#f06010" stroke-width="6" d="M1299 1620l-8 -39M1259 1666l16 -22M1271 1686l10 -16"/>
<path stroke="#e82010" d="M1370 1710l-13 -43"/>
<path stroke="#e82010" stroke-width="4.6" d="M1255 1607l6 -19M1376 1672l-7 -35"/>
<path stroke="#e82010" stroke-width="6" d="M1305 1635l-10 -26M1294 1634l-14 -33"/>
<path stroke="#c02818" stroke-width="4.6" d="M1372 1694l-9 -29"/>
<path stroke="#0000ff" d="M1003 1420l30 -37M1081 1396l-20 -22M1370 1430l-33 -56M1452 1411l-12 -21M1453 1397l20 -23M1463 1410l24 -31M1483 1422l13 -25M1480 1421l17 -44M1619 1388l19 27M994 1475l22 -31M1024 1464l-17 -30M1046 1449l10 -39M1041 1477l9 -30M1091 1456l-11 -36M1141 1472l-42 -50M1187 1474l-7 -31M1238 1475l21 -29M1318 1473l25 -35M1638 1452l27 -42M1703 1453l-18 -37M1009 1525l-12 -28M996 1492l-18 -24M1042 1505l-6 -22M1066 1500l22 -38M1267 1506l-32 -44M1291 1500l-19 -29M1351 1512l22 -27M1351 1494l12 -32M1698 1501l14 -18M1049 1572l-30 -36M1016 1555l-6 -27M1032 1544l22 -43M1074 1575l25 -67M1172 1580l-42 -56M1221 1570l28 -36M1292 1558l-11 -29M1542 1566l7 -26M1578 1569l-32 -40M1050 1573l-15 -23M1072 1613l-12 -47M1141 1587l15 -56M1188 1604l28 -32M1278 1619l-19 -66M1517 1589l21 -48M1536 1580l31 -43M1574 1580l22 -36M1607 1613l26 -41M1589 1576l7 -33M1635 1577l-22 -36M1132 1650l-14 -49M1116 1638l-21 -34M1149 1615l-14 -21M1192 1649l-18 -44M1269 1665l-38 -54M1468 1650l-10 -23M1498 1608l-14 -20M1534 1637l-14 -53M1550 1651l-22 -44M1636 1596l45 39M1173 1661l29 -38M1158 1673l7 -27M1227 1685l-13 -42M1398 1665l-21 -42M1403 1668l25 -45M1457 1679l8 -31M1456 1677l35 -60M1518 1686l16 -31M1629 1678l27 -63M1712 1659l-26 -37M1008 1721l-22 -35M1423 1720l-7 -28M1443 1703l11 -45M1514 1740l18 -63M1531 1718l17 -37M1624 1699l29 -33M994 1787l11 -50M1006 1765l20 -29M1451 1761l20 -29M1464 1741l8 -26M1518 1778l-37 -58M1554 1776l16 -46M1580 1770l36 -52M1055 1820l15 -32M1118 1780l10 -22M1132 1808l-26 -43M1182 1802l-24 -32M1157 1793l12 -34M1266 1800l-21 -37M1351 1788l-23 -41M1431 1797l-16 -61M1518 1820l-16 -38M1615 1820l20 -29"/>
<path stroke="#0000ff" stroke-width="4.6" d="M1506 1399l16 -21M1508 1406l-10 -16M1561 1445l-21 -33M1539 1392l-15 -18M1594 1429l-11 -35M1437 1447l1 25M1466 1455l-21 -35M1490 1428l-28 22M1488 1449l14 -22M1492 1452l8 -35M1542 1459l-10 -18M1556 1461l-30 3M1559 1460l12 -39M1617 1482l-16 -22M1595 1476l10 -19M1601 1471l10 -40M1644 1473l-17 -24M1381 1488l-12 -15M1395 1483l7 -19M1439 1501l-19 -24M1443 1491l20 -34M1437 1518l22 -26M1452 1506l-13 -29M1537 1491l-11 -20M1536 1489l-9 -23M1580 1493l-16 -31M1593 1495l-27 -31M1568 1497l13 -15M1589 1519l11 -32M1607 1512l21 -24M1597 1501l-8 -35M1660 1500l16 -18M999 1535l-10 -40M984 1548l17 -25M979 1554l18 -34M1008 1551l-20 -25M1352 1552l19 -27M1360 1535l16 -38M1384 1555l-20 -24M1530 1537l-19 -34M1526 1565l-8 -24M1597 1551l-7 -23M1621 1550l-8 -21M1602 1542l-11 -38M1630 1535l5 -18M1673 1531l-25 -31M1701 1559l-12 -16M1700 1543l8 -24M1710 1538l-27 15M1698 1532l-11 -16M1427 1579l5 -22M1418 1595l-8 -16M1416 1585l-6 -17M1460 1595l-6 -18M1432 1575l18 -20M1456 1611l11 -32M1444 1572l-14 -31M1476 1601l16 -33M1515 1589l-39 14M1467 1582l10 -17M1686 1571l-23 -30M1679 1597l21 -29M1689 1595l12 -19M1668 1564l30 24M1052 1588l16 34M1054 1622l11 -33M1051 1640l-16 -34M1057 1648l-14 -22M1098 1633l-16 -32M1095 1625l-15 -25M1092 1630l11 -32M1393 1637l11 -36M1415 1640l20 -30M1408 1616l12 -27M1702 1618l9 -19M1696 1602l-19 2M1712 1622l-14 -23M1010 1671l-21 -29M991 1683l14 -28M1037 1680l-18 -34M1003 1669l22 -33M1011 1682l9 -16M1021 1657l21 -35M1158 1688l-13 -21M1142 1682l21 -35M1160 1658l-6 -18M1150 1652l-17 -20M1231 1678l20 -35M1015 1710l-6 -28M1031 1701l11 -25M1113 1772l-10 -40M1110 1764l6 -24M1108 1745l22 -29M1091 1758l17 -20M1208 1758l-23 -29M1198 1733l12 -14M1213 1756l-22 -26M1196 1776l20 -30M1229 1768l10 -33M1299 1779l9 -29M1325 1753l-6 -26M1331 1713l1 36M1142 1789l-17 -28M1138 1801l9 -36M1137 1803l20 -25M1202 1776l-9 -18M1252 1797l-10 -16M1248 1820l10 -24"/>
<path stroke="#0000ff" stroke-width="6" d="M1520 1468l11 -24M1521 1466l-15 -24M1518 1474l7 -20M1478 1500l22 -27M1468 1489l9 -26M1472 1498l1 21M1485 1496l25 -30M1496 1487l-20 -30M1474 1495l8 -20M1497 1489l21 -33M1502 1502l15 15M1662 1523l-27 -31M1444 1545l-11 -30M1462 1542l-5 -18M1458 1569l-8 -29M1436 1558l9 -40M1447 1540l18 -25M1448 1530l-23 28M1475 1538l15 25M1485 1551l-12 -30M1470 1553l7 -31M1485 1529l-17 -29M1486 1554l-7 -28M1498 1530l-12 -16M997 1602l-6 -17M989 1606l8 -29M979 1579l4 -18M979 1572l13 -16M989 1590l15 -32M1000 1585l21 10M1024 1588l-9 -31M1015 1603l7 -22M1041 1595l-17 -19M1025 1578l7 -21M1341 1595l16 -34M979 1601l6 -12M993 1627l12 -20M994 1622l15 -23M1002 1621l-5 -17M996 1632l13 -35M1035 1651l-18 -30M1020 1633l8 -18M1006 1623l6 -20M1004 1628l21 -25M1032 1634l5 -20M1038 1662l17 -30M1051 1689l-15 -25M1041 1656l-5 -18M1067 1682l-5 -19M1056 1690l-26 -30M1074 1686l-14 -20M1070 1679l-20 -27M1053 1660l-22 -29M1047 1674l25 -32M1028 1672l20 -27M1083 1686l5 -19M1058 1683l21 -27M1084 1686l-8 -22M1080 1668l17 -31M1076 1672l10 -23M1124 1663l-17 -23M1090 1664l20 -28M1099 1630l30 24M1128 1691l-17 -24M1136 1665l-13 -28M1121 1653l-20 -27M1291 1672l-11 -21M1058 1736l-26 -30M1041 1690l16 -17M1041 1724l8 -30M1078 1724l-26 -32M1051 1710l22 -29M1045 1690l9 -16M1075 1697l-19 -23M1061 1706l-9 -17M1053 1698l19 -25M1055 1706l-9 -28M1084 1715l19 -32M1074 1732l16 -25M1080 1701l14 -30M1094 1731l-7 -25M1088 1699l-7 -22M1073 1712l15 -28M1074 1732l9 -29M1075 1701l-14 -18M1096 1719l-16 -34M1121 1728l-10 -18M1124 1699l6 -21M1116 1716l-10 -18M1108 1703l8 -23M1117 1705l8 -24M1111 1732l-13 -25M1095 1714l13 -22M1108 1697l8 -17M1134 1728l-17 -26M1114 1714l-12 -33M1142 1733l-16 -32M1152 1722l-26 -30M1146 1705l-4 -21M1133 1715l8 -19M1188 1716l-17 -21M1168 1733l10 -25M1201 1719l-21 -32M1174 1736l9 -40M1167 1729l-9 -25M1188 1734l22 -33M1186 1715l20 -33M1235 1726l-9 -21M1249 1720l-11 -33M1247 1730l-13 -33M1250 1719l-8 -23M1280 1709l-12 -24M1293 1710l-15 -34M1058 1774l-8 -19M1060 1748l-12 -24M1042 1765l18 -24M1049 1777l11 -37M1034 1751l16 -22M1047 1760l13 -23M1103 1772l-10 -17M1080 1745l10 24M1065 1774l18 -23M1108 1767l-23 -27M1162 1745l-9 -28M1154 1740l-8 -23M1147 1762l11 -25M1145 1736l19 -23M1173 1737l-16 -25M1177 1777l7 -30M1165 1754l-10 -26M1177 1764l-16 -30M1165 1760l11 -40M1180 1736l3 32"/>
<path stroke="#1898c0" d="M984 1419l-5 -12M1477 1420l15 -21M1712 1445l-29 -34M1120 1577l-22 -53M1542 1540l-6 -24M1220 1654l-22 -41M1409 1695l-16 -26M1164 1805l26 -36M1436 1804l38 -43"/>
<path stroke="#1898c0" stroke-width="4.6" d="M1437 1483l8 -25M1595 1470l-10 -24M1669 1529l-8 -36M1526 1547l-20 -32M1679 1568l14 -37M1443 1598l15 -29M1406 1655l-10 -32M989 1650l10 -21M1043 1687l-27 13M1112 1755l-13 -32M1219 1738l20 21"/>
<path stroke="#1898c0" stroke-width="6" d="M1495 1460l19 -34M1509 1462l21 -30M1529 1496l-17 -27M1634 1486l11 -20M1376 1588l12 -15M1025 1588l1 39M1116 1667l-17 10M1144 1720l-23 -28M1104 1743l-12 -29M1144 1742l14 -23"/>
<path stroke="#00f0f0" d="M1070 1425l-26 -46M1322 1448l-15 -69M1605 1439l10 -22M1638 1428l-6 -22M1026 1457l19 -48M1116 1463l-15 -52M1210 1444l14 -21M1644 1479l25 -32M1666 1473l6 -23M1076 1519l-19 -36M1271 1494l-30 -36M1196 1539l-24 -45M1556 1510l-24 27M1050 1597l-23 -32M1501 1563l36 17M1100 1648l8 -38M1166 1629l24 -28M1230 1692l-18 -36M1416 1675l23 -43M1000 1722l-7 -23M1457 1701l-18 -31M1017 1745l10 -22M1474 1755l-17 -21M1073 1820l8 -19M1096 1819l14 -37"/>
<path stroke="#00f0f0" stroke-width="4.6" d="M1516 1426l9 -18M1567 1427l-18 -29M1535 1439l11 -30M1579 1401l-15 -27M1428 1451l23 -28M1476 1479l-18 -20M1553 1455l15 -33M1592 1471l-10 -36M1611 1471l-7 -18M1414 1517l-15 -18M1468 1495l-10 -16M1573 1500l-23 -31M1628 1489l-36 13M1688 1519l-23 -33M997 1530l10 -15M1363 1546l-7 -26M1397 1544l12 -16M1641 1539l10 -29M1660 1542l-10 -26M1414 1600l18 -28M1699 1585l-14 -20M1059 1639l23 -34M1403 1640l-7 -26M1417 1649l-9 -21M1686 1628l8 -22M1255 1671l-16 -30M1003 1711l17 -24M1121 1762l-9 -26M1192 1719l7 18M1310 1780l-12 -32M1331 1773l15 -25M1140 1789l-19 -24M1207 1800l11 -17M1193 1788l8 -17"/>
<path stroke="#00f0f0" stroke-width="6" d="M1500 1441l6 -21M1518 1528l-15 -33M1510 1528l-18 -34M1527 1512l-14 -18M1509 1523l9 -26M1635 1494l16 -28M1423 1537l13 -15M1460 1546l12 -19M1006 1607l-14 -37M1036 1582l-13 -19M1340 1588l15 -32M1387 1579l22 -30M979 1607l4 -6M1065 1690l-23 -28M1297 1662l-10 -26M1297 1674l6 -29M1342 1652l-18 -26M1313 1688l10 -32M1048 1712l-13 -17M1083 1697l14 -27M1117 1701l-24 -30M1146 1732l17 -35M1155 1734l23 -28M1170 1709l-12 -14M1186 1725l22 -26M1195 1718l6 -18M1188 1714l7 -20M1218 1721l20 -23M1220 1708l14 -28M1307 1720l-14 -17M1293 1706l-12 -40M1331 1730l-22 -30M1039 1774l17 -20M1083 1761l16 -37M1149 1743l-8 -22M1193 1775l-21 -26M1265 1765l-8 -16"/>
<path stroke="#10c030" d="M1132 1407l9 -33M1616 1427l-30 -40M979 1453l12 -18M1355 1468l-16 -28M1420 1463l-12 -25M1289 1500l-32 -42M1687 1495l-3 36M1288 1588l12 -19M1212 1678l16 -21M1379 1727l-17 -39M1373 1740l-19 -26M1255 1777l19 27"/>
<path stroke="#10c030" stroke-width="4.6" d="M1569 1443l15 -28M1553 1466l-11 -19M1538 1473l13 -31M1576 1461l-9 -19M1625 1449l15 -36M1615 1471l12 -21M1442 1514l-22 -27M1548 1495l-9 -18M1608 1486l-23 12M1660 1500l15 -28M1349 1524l-12 -20M1351 1540l13 -24M1403 1540l-17 -20M1393 1540l-20 -31M1638 1559l-18 -23M1674 1548l-11 -32M1675 1554l-10 -32M1663 1580l-8 -22M1266 1653l10 -29M1280 1634l-13 -28M1409 1646l-14 -17M1252 1693l-13 -33M1254 1688l-12 -24M1251 1766l-5 -20M1296 1746l12 -14M1295 1764l10 -27M1231 1795l26 -31M1220 1810l8 -25"/>
<path stroke="#10c030" stroke-width="6" d="M1637 1497l-9 -25M1636 1510l-14 -23M1413 1564l19 -28M1399 1552l21 -36M1361 1569l-8 37M1364 1578l-19 -34M1383 1593l17 -22M1395 1598l-10 -21M1283 1625l7 18M1334 1650l-7 -28M1294 1667l-16 -39M1318 1682l-9 -29M1328 1671l12 -23M1333 1675l-10 -19M1150 1702l-11 -37M1270 1729l6 -25M1275 1720l-14 -31M1314 1697l-8 -28M1285 1709l39 4M1251 1775l9 -35M1264 1756l-24 -31"/>
<path stroke="#40e010" d="M1603 1440l8 -28M1317 1521l-24 -47M1318 1604l-19 -35M1276 1820l-8 -24"/>
<path stroke="#40e010" stroke-width="4.6" d="M1565 1448l-13 -27M1527 1468l22 -28M1637 1467l-9 -21M1419 1504l-23 -32M1546 1493l11 -21M1625 1560l12 -24M1654 1529l-8 -25M1669 1530l19 -23M1340 1574l-19 -23M1335 1562l-37 5M1275 1624l13 -16M1265 1630l-8 -28M1368 1631l-14 -19M1405 1652l-25 -28M1260 1760l-22 -33M1321 1770l11 -33M1256 1803l-12 -16"/>
<path stroke="#40e010" stroke-width="6" d="M1642 1508l-18 -25M1657 1487l-14 -23M1427 1550l-25 -28M1366 1594l5 -25M1385 1579l12 -38M1382 1603l7 -33M1276 1627l19 -26M1332 1598l-8 33M1300 1660l13 15M1300 1671l-20 16M1271 1708l-18 -31M1301 1693l-11 -23M1328 1714l10 -15"/>
<path stroke="#c8f000" d="M1369 1441l28 12M1417 1456l12 -21M1354 1721l-13 -20"/>
<path stroke="#c8f000" stroke-width="4.6" d="M1630 1419l18 25M1428 1512l-21 -31M1682 1513l-12 -35M1342 1548l-17 -37M1663 1533l-11 -16M1322 1577l-15 -23M1329 1574l-15 -38M1260 1606l8 -17M1364 1636l21 -34M1252 1679l-17 -22M1324 1748l6 -20"/>
<path stroke="#c8f000" stroke-width="6" d="M1351 1571l11 -26M1382 1588l-21 -32M1408 1604l-18 -24M1318 1617l-13 -29M1291 1625l-14 -21M1336 1650l-13 -25M1335 1627l15 -34M1336 1619l-12 -18M1267 1652l-22 9M1255 1667l18 -29M1311 1672l-15 -38M1285 1730l-7 -27M1275 1727l5 -19M1297 1728l7 -17M1278 1736l15 -28M1331 1729l8 -21M1335 1711l17 -20M1271 1720l2 22"/>
<path stroke="#e8e800" d="M1398 1791l-25 -63"/>
<path stroke="#e8e800" stroke-width="4.6" d="M1400 1524l26 -32M1341 1542l-13 -26M1344 1612l10 -17M1347 1597l17 35"/>
<path stroke="#e8e800" stroke-width="6" d="M1434 1552l-18 -27M1359 1573l-23 -28M1332 1632l7 -18M1255 1632l10 23M1293 1672l-14 -33M1341 1700l6 -21M1246 1757l24 -31"/>
<path stroke="#f06010" stroke-width="4.6" d="M1355 1617l-16 -34"/>
<path stroke="#f06010" stroke-width="6" d="M1284 1634l4 -19M1262 1675l-12 -21"/>
<path stroke="#e82010" d="M1336 1678l32 7"/>
<path stroke="#e82010" stroke-width="4.6" d="M1273 1616l6 -24M1359 1663l-9 -16"/>
<path stroke="#e82010" stroke-width="6" d="M1299 1631l21 -28M1277 1675l-14 -18"/>
<path stroke="#c02818" stroke-width="4.6" d="M1362 1675l14 -20"/>
<path stroke="#0000ff" d="M1020 1451l-14 -50M1115 1430l13 -41M1378 1445l40 -51M1435 1413l31 -35M1440 1431l24 -33M1480 1443l-25 -32M1503 1436l-22 -37M1629 1415l-19 -22M1654 1439l-10 -30M1007 1481l-13 -31M1038 1471l-10 -37M1061 1469l-26 -29M1046 1472l22 -27M1075 1467l18 -42M1141 1497l25 -66M1209 1447l13 -19M1206 1479l30 -52M1369 1465l16 -23M1645 1482l22 -26M1678 1475l26 -38M993 1494l-14 -23M1037 1494l-7 -31M1033 1492l34 -40M1105 1536l22 -66M1270 1540l-40 -58M1321 1538l-19 -49M1352 1515l18 -32M1712 1513l-8 -28M1042 1563l-24 -32M1043 1544l-21 -47M1051 1563l19 -32M1037 1564l27 -42M1108 1547l18 -42M1161 1563l11 -52M1277 1546l8 -34M1308 1565l-12 -51M1552 1562l11 -50M1570 1566l20 -39M1053 1612l28 -34M1094 1615l-23 -46M1180 1588l-45 -54M1218 1595l28 -49M1265 1574l13 -37M1487 1556l39 25M1521 1583l25 -29M1576 1610l-14 -43M1604 1598l-11 -50M1624 1581l27 -31M1651 1585l-12 -35M1127 1658l-20 -41M1124 1621l20 -37M1164 1618l-10 -22M1225 1623l-19 -32M1469 1654l-31 -40M1471 1613l-23 -30M1482 1630l16 -21M1519 1660l-10 -44M1596 1669l-23 -62M1658 1636l-14 -59M1187 1701l-19 -46M1172 1666l16 -46M1393 1674l-16 -32M1396 1671l13 -39M1437 1693l-20 -47M1437 1682l19 -42M1508 1666l-33 -50M1511 1671l36 -62M1674 1709l-33 -60M1699 1694l-22 -31M1005 1687l-26 21M1429 1710l9 -33M1446 1679l-12 34M1511 1735l-24 -47M1585 1711l-14 -33M1685 1726l-16 -52M1026 1738l10 -24M1414 1772l-14 -55M1462 1743l19 -32M1462 1773l12 -32M1557 1742l-24 -29M1580 1788l-28 -49M1670 1782l-19 -54M1096 1797l-30 -34M1094 1809l16 -19M1116 1790l-15 -48M1163 1807l7 -30M1162 1808l17 -20M1276 1801l-31 -40M1338 1820l-33 -41M1446 1820l23 -63M1563 1820l-12 -48M1665 1820l21 -32"/>
<path stroke="#0000ff" stroke-width="4.6" d="M1523 1438l-14 -39M1497 1400l13 -26M1552 1407l13 -27M1571 1419l-6 -25M1567 1392l-11 -18M1447 1457l-7 -26M1482 1469l11 -39M1491 1477l-12 -14M1483 1448l14 -18M1480 1451l-10 -40M1561 1475l-19 -31M1536 1457l15 -18M1584 1469l-19 -25M1627 1455l-18 -30M1611 1465l-6 -25M1612 1452l15 -17M1643 1463l-6 -25M1391 1516l-10 -17M1403 1516l-13 -14M1433 1479l16 26M1458 1499l-11 -27M1458 1489l-16 -26M1454 1526l-23 -32M1537 1517l9 -37M1523 1509l22 -29M1579 1496l8 -17M1561 1498l8 -18M1591 1501l-16 -32M1599 1493l9 -25M1589 1504l5 -18M1624 1528l-18 -32M1686 1520l-18 -23M979 1538l3 -8M1010 1546l-20 -30M1003 1553l-15 -25M989 1567l-10 -21M1350 1533l-7 -31M1356 1554l13 -39M1379 1557l-4 -19M1510 1559l-7 -22M1490 1546l20 -24M1596 1536l9 -38M1587 1550l10 -30M1606 1559l-13 -26M1620 1536l21 -34M1710 1530l-17 36M1687 1539l4 -18M1682 1537l14 -20M1700 1545l-5 20M1428 1596l11 -19M1404 1581l10 -20M1427 1579l-11 -40M1444 1598l-13 -28M1462 1593l5 -21M1460 1575l-9 -19M1457 1577l-11 29M1458 1582l15 -33M1476 1600l13 -29M1489 1588l-6 -24M1681 1590l-7 -21M1690 1606l10 -32M1693 1604l9 -37M1674 1579l36 5M1704 1582l-13 -16M1038 1635l10 -18M1068 1615l-13 -34M1035 1643l11 -33M1100 1599l-28 6M1081 1643l-25 -33M1093 1630l11 -31M1269 1631l-8 -30M1399 1636l-24 -30M1427 1651l-18 -33M1423 1621l10 -31M1712 1643l-10 -32M1694 1611l-11 -20M979 1676l7 -17M982 1683l24 -32M979 1662l10 -19M1034 1675l-12 -21M1027 1686l-16 -29M1028 1691l-7 -22M1129 1691l17 -20M1122 1696l17 -32M1154 1667l-19 -32M1135 1686l9 -19M1139 1655l-13 -18M1242 1665l14 -23M1006 1695l16 -27M1033 1727l-11 -18M1140 1744l-32 5M1103 1758l12 -15M1105 1762l25 -31M1219 1744l-13 -14M1209 1768l-10 -38M1202 1744l38 12M1208 1737l13 -20M1246 1757l-24 -29M1229 1747l-12 -36M1302 1765l18 -25M1330 1749l-23 29M1139 1783l19 11M1155 1789l-16 11M1149 1804l8 -20M1134 1787l8 -27M1207 1816l7 -18M1232 1800l27 -31M1250 1804l-11 -35"/>
<path stroke="#0000ff" stroke-width="6" d="M1512 1426l-19 15M1507 1447l-11 -18M1525 1454l-14 -33M1499 1517l-12 -24M1493 1521l-20 -36M1475 1514l-13 -18M1502 1509l-9 -33M1462 1524l23 -33M1524 1486l-14 -15M1512 1494l22 -31M1637 1454l-2 39M1414 1542l7 -18M1447 1535l13 -26M1453 1549l-18 -22M1454 1531l-12 -31M1459 1544l-11 -25M1458 1557l-11 -34M1446 1556l16 -30M1489 1529l-9 -21M1468 1543l9 -20M1493 1546l-6 -26M1484 1560l-19 -29M1469 1572l11 -37M998 1592l8 -19M984 1558l25 7M980 1597l-1 -3M989 1599l-10 -19M986 1597l7 -19M981 1574l11 -17M1030 1568l-5 -19M1005 1573l15 -28M1035 1589l-20 -29M1015 1586l12 -23M1033 1584l-15 -24M1397 1590l-9 -34M979 1588l0 -0M1007 1599l-28 5M1014 1651l-17 -31M999 1635l-10 -28M1037 1629l-17 -37M994 1649l26 -29M1036 1618l-4 -18M1017 1615l18 -29M1017 1607l-10 -17M1305 1645l20 -25M1063 1692l-18 -31M1043 1686l10 -30M1038 1669l20 5M1052 1667l13 -20M1044 1655l16 -32M1041 1672l20 -36M1047 1692l15 -34M1069 1677l-16 -29M1066 1692l-12 -32M1080 1661l-21 -26M1063 1693l13 -24M1081 1658l-22 -27M1086 1664l-19 -35M1078 1664l-9 -24M1077 1689l15 -36M1105 1660l9 -19M1104 1686l-10 -39M1100 1654l12 -21M1104 1660l8 -22M1107 1651l-6 -18M1113 1683l-18 -28M1297 1689l-15 -33M1030 1706l15 -25M1032 1699l19 -24M1056 1708l9 16M1072 1713l-17 -37M1039 1710l23 -30M1036 1707l10 -39M1046 1727l-6 -26M1056 1705l-8 -27M1075 1734l-19 -32M1070 1701l-14 -21M1101 1714l-15 -39M1096 1727l-17 -33M1103 1732l-18 -33M1087 1698l-13 -15M1072 1702l-7 -25M1077 1701l16 -37M1076 1739l9 -41M1079 1715l13 -32M1069 1720l18 -31M1121 1708l15 -21M1092 1727l24 -34M1099 1719l13 -30M1103 1716l-5 -20M1107 1728l12 -18M1129 1708l-14 -23M1101 1700l26 -31M1124 1731l-17 -24M1121 1726l-21 -34M1164 1729l-22 -26M1131 1719l9 -18M1142 1729l7 -20M1132 1737l15 -32M1160 1718l-10 -27M1168 1714l11 -40M1186 1726l-9 -25M1167 1696l19 10M1161 1707l22 -30M1176 1721l-20 -26M1191 1719l19 -32M1223 1731l-13 -17M1226 1730l18 -20M1221 1703l8 -18M1227 1701l8 -17M1246 1700l12 -17M1269 1734l10 -26M1295 1708l-17 -26M1032 1756l16 -39M1067 1751l-20 -33M1075 1738l-15 -25M1049 1756l-8 -20M1045 1756l-7 -24M1054 1744l7 -30M1090 1737l10 -20M1085 1767l15 -34M1102 1771l-17 -31M1144 1755l26 -32M1133 1774l13 -37M1139 1762l24 -31M1154 1765l-15 -23M1187 1778l-21 -27M1179 1741l-7 -19M1170 1770l-15 -19M1192 1755l-11 -23M1160 1761l12 -29M1182 1771l16 -23M1264 1776l9 -24"/>
<path stroke="#1898c0" d="M998 1437l-11 -24M1675 1442l-8 -33M1011 1492l-9 -42M1184 1561l15 -62M1122 1586l-24 -47M1500 1653l-21 -46M1036 1764l-6 -24M1279 1810l9 -41M1619 1820l-16 -25"/>
<path stroke="#1898c0" stroke-width="4.6" d="M1560 1450l25 -30M1524 1492l13 -28M1412 1561l-23 -28M1598 1559l-9 -26M1410 1590l9 -23M1666 1590l-8 -39M1679 1648l14 -23M1012 1662l-8 -26M1015 1694l12 -16M1256 1761l-21 -24M1223 1792l-10 -36"/>
<path stroke="#1898c0" stroke-width="6" d="M1528 1449l-7 -23M1480 1499l-17 -35M1526 1516l-6 -26M1458 1549l-9 -22M1006 1636l-13 -38M1062 1676l-17 -24M1317 1655l15 -28M1189 1708l14 -30M1073 1751l18 -34M1151 1746l-21 -36"/>
<path stroke="#00f0f0" d="M1093 1405l-28 -31M1392 1408l21 -34M1609 1415l-10 -26M1634 1411l8 -37M1002 1455l18 -30M1171 1482l-14 -29M1246 1473l20 -69M1659 1470l18 -45M986 1512l17 -48M1092 1501l26 -33M1362 1499l19 -36M1228 1561l37 -46M1570 1545l19 -48M1068 1580l-15 -22M1585 1598l8 -26M1139 1629l16 -33M1622 1633l23 -34M1210 1675l-16 -39M1612 1685l-37 -62M1372 1707l11 -45M1659 1744l-22 -54M1045 1785l-26 -40M1653 1750l-11 -33M1090 1793l-17 -33M1179 1813l-20 -29"/>
<path stroke="#00f0f0" stroke-width="4.6" d="M1509 1417l19 -25M1547 1413l16 -36M1564 1445l-21 -33M1566 1427l9 -31M1456 1460l12 -23M1473 1473l17 -28M1589 1464l-14 -22M1608 1465l13 -32M1390 1504l-8 -19M1444 1498l21 -28M1534 1510l-8 -29M1581 1521l14 -39M1620 1522l-19 -26M1645 1500l18 -30M991 1498l19 33M1378 1560l14 -35M1519 1545l-13 -21M1667 1543l-7 -22M1405 1571l13 -29M1476 1605l11 -21M1712 1580l-11 -13M1387 1637l-6 -18M1390 1622l-19 -28M1429 1635l-13 -24M1023 1667l25 -32M1255 1689l-9 -25M1006 1676l14 23M1125 1743l-10 -20M1223 1748l19 -25M1281 1763l10 -34M1334 1748l-15 -27M1197 1817l-6 -25M1210 1809l-13 -37M1253 1801l-7 -21"/>
<path stroke="#00f0f0" stroke-width="6" d="M1497 1483l20 -31M1513 1498l-18 -30M1505 1493l-14 -34M1507 1513l-9 -35M1493 1512l21 -32M1430 1507l-23 13M1427 1556l-22 -28M1486 1567l-18 -31M999 1567l-8 -17M1015 1570l12 -22M1361 1569l-19 -25M1411 1583l-13 -21M1024 1646l8 -17M1077 1658l-22 -28M1292 1662l10 -36M1304 1652l-10 -15M1349 1684l-12 -30M1325 1687l14 -35M1080 1709l-14 -22M1085 1678l-29 20M1126 1720l-26 1M1138 1713l11 -24M1177 1696l-6 -18M1184 1732l14 -30M1214 1704l-14 -19M1202 1702l12 -19M1235 1715l16 -24M1238 1675l-8 37M1261 1699l11 -26M1291 1715l11 -26M1320 1674l-12 19M1325 1716l13 -21M1105 1775l-20 -29M1068 1767l27 -30M1163 1774l-14 -22M1251 1770l6 -22"/>
<path stroke="#10c030" d="M1241 1416l18 -30M1621 1439l22 -43M986 1458l25 -32M1346 1486l13 -34M1093 1519l-12 -34M1277 1512l16 -28M1292 1599l-11 -43M1614 1581l25 -35M1408 1671l-10 -38M1396 1715l14 -36M1257 1784l34 35M1262 1806l35 -39"/>
<path stroke="#10c030" stroke-width="4.6" d="M1570 1416l-8 -31M1569 1424l-37 12M1547 1438l9 18M1583 1454l10 -37M1631 1475l-21 -24M1628 1462l20 -29M1549 1524l-8 -37M1535 1522l-10 -33M1672 1512l-25 -29M1349 1543l-20 -23M1342 1569l19 -34M1352 1538l-15 -36M1386 1532l21 -31M1495 1566l16 -32M1650 1556l-15 -20M1661 1539l23 -28M1334 1594l8 -26M1046 1628l7 -32M1254 1615l7 -19M1363 1637l-11 -27M1000 1658l-6 -28M1247 1679l-21 -23M1245 1659l-17 -33M1242 1765l-12 -25M1300 1745l9 -37M1306 1745l18 -22M1240 1799l-18 12"/>
<path stroke="#10c030" stroke-width="6" d="M1648 1504l-8 -17M1640 1500l-6 -24M1433 1557l-10 -31M1413 1533l20 -28M1367 1569l5 -23M1397 1568l4 -18M1400 1607l8 -30M1397 1572l-8 -33M1287 1647l9 -20M1269 1689l-7 -29M1296 1678l6 -19M1332 1662l-17 -27M1315 1661l14 -39M1336 1679l-13 -20M1186 1714l12 -14M1251 1721l12 -27M1247 1718l20 -29M1298 1739l-10 -32M1332 1730l-8 -22M1265 1756l-6 -21M1274 1736l-7 -23"/>
<path stroke="#40e010" d="M1155 1486l11 -34M1321 1503l9 -28M1384 1712l-10 -23M1298 1771l11 28"/>
<path stroke="#40e010" stroke-width="4.6" d="M1547 1425l-25 25M1560 1468l8 -19M1403 1516l18 -21M1427 1503l-11 -16M1325 1547l9 -19M1644 1538l-9 -32M1641 1560l-7 -30M1653 1551l23 -34M1339 1570l-18 -22M1672 1583l12 -23M1260 1639l15 -21M1377 1619l-18 -35M1408 1613l-15 -21M1225 1669l16 -37M1282 1746l16 -35M1315 1757l9 -40"/>
<path stroke="#40e010" stroke-width="6" d="M1643 1522l-16 -21M1650 1520l-13 -15M1430 1529l-18 33M1375 1594l-17 -22M1370 1595l13 -37M1286 1643l18 -27M1320 1619l18 -22M1264 1660l12 -17M1320 1679l-14 -28M1304 1671l23 -33M1304 1703l-10 -17M1311 1706l16 -25M1264 1766l-13 -29"/>
<path stroke="#c8f000" d="M1404 1469l28 -44M1330 1481l-25 26M1408 1820l-33 -52"/>
<path stroke="#c8f000" stroke-width="4.6" d="M1638 1462l16 -29M1442 1489l-15 -22M1339 1541l-18 8M1385 1529l-17 -21M1318 1584l15 -17M1345 1582l-6 -25M1682 1593l-13 -16M1338 1636l13 -18M1395 1618l19 -30M1247 1776l7 -27"/>
<path stroke="#c8f000" stroke-width="6" d="M1370 1581l-15 -33M1390 1579l-14 32M1308 1644l-6 -17M1297 1653l11 -30M1296 1625l10 -32M1320 1631l-12 -17M1315 1623l7 -30M1331 1618l8 -19M1266 1655l9 -27M1286 1681l-17 -33M1301 1681l-9 -35M1272 1694l15 -20M1259 1720l11 -32M1305 1703l-21 -29M1332 1707l16 -32M1324 1709l-10 -39M1344 1706l-9 -23M1247 1754l11 -33"/>
<path stroke="#e8e800" stroke-width="4.6" d="M1402 1492l16 -36M1343 1587l-16 -18M1357 1611l14 -16M1360 1678l13 -30"/>
<path stroke="#e8e800" stroke-width="6" d="M1354 1578l8 -31M1295 1625l-7 -17M1346 1629l-21 20M1273 1676l-12 -17M1267 1694l11 -22M1317 1694l7 -18M1293 1776l-25 -33"/>
<path stroke="#f06010" stroke-width="4.6" d="M1344 1646l20 -32"/>
<path stroke="#f06010" stroke-width="6" d="M1281 1691l-14 -24M1251 1659l6 -21"/>
<path stroke="#e82010" d="M1356 1702l-21 -38"/>
<path stroke="#e82010" stroke-width="4.6" d="M1342 1671l7 -17M1369 1674l10 -16"/>
<path stroke="#e82010" stroke-width="6" d="M1286 1654l11 -37"/>
<path stroke="#c02818" stroke-width="4.6" d="M1377 1694l-10 -40"/>
<path stroke="#000" stroke-width="8.6" stroke-linecap="round" d="M1002.9 1505.6V1509.1M1313.4 1505.6V1528.3M1297.3 1540.0V1545.4M1314.3 1560.9V1595.1M1315.2 1600.0V1601.6M1316.2 1630.6V1651.3M1298.2 1659.3V1666.7M1299.1 1720.4V1742.9M1299.1 1758.5V1771.6M1393.6 1398.6V1409.8M1393.6 1425.3V1425.0M1345.7 1498.0V1572.2M1598.6 1379.5V1398.4M1646.5 1465.4V1480.4M1682.1 1463.6V1503.4M1694.3 1566.5V1595.1M1347.5 1707.5V1718.2M1696.4 1600.0V1613.2M1696.4 1638.7V1651.1"/>
</g>
<path d="M167 87.7H901.2V590.9M167 87.7V592.9H900.2" fill="none" stroke="#000" stroke-width="3.8"/>
<text x="146" y="98" text-anchor="end" class="tk">75</text>
<text x="146" y="182.2" text-anchor="end" class="tk">80</text>
<text x="146" y="266.4" text-anchor="end" class="tk">85</text>
<text x="146" y="350.6" text-anchor="end" class="tk">90</text>
<text x="146" y="434.8" text-anchor="end" class="tk">85</text>
<text x="146" y="519" text-anchor="end" class="tk">80</text>
<text x="146" y="603.2" text-anchor="end" class="tk">75</text>
<text x="167" y="637.9" text-anchor="middle" class="tk">0</text>
<text x="349.9" y="637.9" text-anchor="middle" class="tk">6</text>
<text x="532.8" y="637.9" text-anchor="middle" class="tk">12</text>
<text x="715.6" y="637.9" text-anchor="middle" class="tk">18</text>
<text x="898.5" y="637.9" text-anchor="middle" class="tk">24</text>
<path d="M155 87.7H167M155 171.9H167M155 256.1H167M155 340.3H167M155 424.5H167M155 508.7H167M155 592.9H167M167 592.9V604.9M349.9 592.9V604.9M532.8 592.9V604.9M715.6 592.9V604.9M898.5 592.9V604.9" stroke="#000" stroke-width="4" fill="none"/>
<text x="534.3" y="674.9" text-anchor="middle" class="lb">UT 17.03.2105</text>
<path d="M974.8 87.6H1709.4V590.4M974.8 87.6V592.4H1708.4" fill="none" stroke="#000" stroke-width="3.8"/>
<text x="954" y="97.9" text-anchor="end" class="tk">75</text>
<text x="954" y="182" text-anchor="end" class="tk">80</text>
<text x="954" y="266.2" text-anchor="end" class="tk">85</text>
<text x="954" y="350.3" text-anchor="end" class="tk">90</text>
<text x="954" y="434.4" text-anchor="end" class="tk">85</text>
<text x="954" y="518.6" text-anchor="end" class="tk">80</text>
<text x="954" y="602.7" text-anchor="end" class="tk">75</text>
<text x="974.9" y="637.4" text-anchor="middle" class="tk">0</text>
<text x="1157.8" y="637.4" text-anchor="middle" class="tk">6</text>
<text x="1340.8" y="637.4" text-anchor="middle" class="tk">12</text>
<text x="1523.7" y="637.4" text-anchor="middle" class="tk">18</text>
<text x="1706.7" y="637.4" text-anchor="middle" class="tk">24</text>
<path d="M962.8 87.6H974.8M962.8 171.7H974.8M962.8 255.9H974.8M962.8 340H974.8M962.8 424.1H974.8M962.8 508.3H974.8M962.8 592.4H974.8M974.9 592.4V604.4M1157.8 592.4V604.4M1340.8 592.4V604.4M1523.7 592.4V604.4M1706.7 592.4V604.4" stroke="#000" stroke-width="4" fill="none"/>
<text x="1379.6" y="675.4" text-anchor="middle" class="lb">UT 17.03.2105</text>
<path d="M167 715H901.3V1217.8M167 715V1219.8H900.3" fill="none" stroke="#000" stroke-width="3.8"/>
<text x="146" y="725.3" text-anchor="end" class="tk">75</text>
<text x="146" y="809.4" text-anchor="end" class="tk">80</text>
<text x="146" y="893.6" text-anchor="end" class="tk">85</text>
<text x="146" y="977.7" text-anchor="end" class="tk">90</text>
<text x="146" y="1061.8" text-anchor="end" class="tk">85</text>
<text x="146" y="1146" text-anchor="end" class="tk">80</text>
<text x="146" y="1230.1" text-anchor="end" class="tk">75</text>
<text x="167" y="1266.8" text-anchor="middle" class="tk">0</text>
<text x="349.9" y="1266.8" text-anchor="middle" class="tk">6</text>
<text x="532.8" y="1266.8" text-anchor="middle" class="tk">12</text>
<text x="715.6" y="1266.8" text-anchor="middle" class="tk">18</text>
<text x="898.5" y="1266.8" text-anchor="middle" class="tk">24</text>
<path d="M155 715H167M155 799.1H167M155 883.3H167M155 967.4H167M155 1051.5H167M155 1135.7H167M155 1219.8H167M167 1219.8V1231.8M349.9 1219.8V1231.8M532.8 1219.8V1231.8M715.6 1219.8V1231.8M898.5 1219.8V1231.8" stroke="#000" stroke-width="4" fill="none"/>
<text x="534.3" y="1306.6" text-anchor="middle" class="lb">UT 18.03.2105</text>
<path d="M975.7 715.6H1714.8V1217.2M975.7 715.6V1219.2H1713.8" fill="none" stroke="#000" stroke-width="3.8"/>
<text x="954.3" y="725.9" text-anchor="end" class="tk">75</text>
<text x="954.3" y="809.8" text-anchor="end" class="tk">80</text>
<text x="954.3" y="893.8" text-anchor="end" class="tk">85</text>
<text x="954.3" y="977.7" text-anchor="end" class="tk">90</text>
<text x="954.3" y="1061.6" text-anchor="end" class="tk">85</text>
<text x="954.3" y="1145.6" text-anchor="end" class="tk">80</text>
<text x="954.3" y="1229.5" text-anchor="end" class="tk">75</text>
<text x="975.6" y="1266.2" text-anchor="middle" class="tk">0</text>
<text x="1159.8" y="1266.2" text-anchor="middle" class="tk">6</text>
<text x="1344" y="1266.2" text-anchor="middle" class="tk">12</text>
<text x="1528.2" y="1266.2" text-anchor="middle" class="tk">18</text>
<text x="1712.4" y="1266.2" text-anchor="middle" class="tk">24</text>
<path d="M963.7 715.6H975.7M963.7 799.5H975.7M963.7 883.5H975.7M963.7 967.4H975.7M963.7 1051.3H975.7M963.7 1135.3H975.7M963.7 1219.2H975.7M975.6 1219.2V1231.2M1159.8 1219.2V1231.2M1344 1219.2V1231.2M1528.2 1219.2V1231.2M1712.4 1219.2V1231.2" stroke="#000" stroke-width="4" fill="none"/>
<text x="1379.6" y="1306.9" text-anchor="middle" class="lb">UT 18.03.2105</text>
<path d="M167 1344.4H901.3V1847.5M167 1344.4V1849.5H900.3" fill="none" stroke="#000" stroke-width="3.8"/>
<text x="146" y="1354.7" text-anchor="end" class="tk">75</text>
<text x="146" y="1438.9" text-anchor="end" class="tk">80</text>
<text x="146" y="1523.1" text-anchor="end" class="tk">85</text>
<text x="146" y="1607.2" text-anchor="end" class="tk">90</text>
<text x="146" y="1691.4" text-anchor="end" class="tk">85</text>
<text x="146" y="1775.6" text-anchor="end" class="tk">80</text>
<text x="146" y="1859.8" text-anchor="end" class="tk">75</text>
<text x="167" y="1897" text-anchor="middle" class="tk">0</text>
<text x="349.9" y="1897" text-anchor="middle" class="tk">6</text>
<text x="532.8" y="1897" text-anchor="middle" class="tk">12</text>
<text x="715.6" y="1897" text-anchor="middle" class="tk">18</text>
<text x="898.5" y="1897" text-anchor="middle" class="tk">24</text>
<path d="M155 1344.4H167M155 1428.6H167M155 1512.8H167M155 1597H167M155 1681.1H167M155 1765.3H167M155 1849.5H167M167 1849.5V1861.5M349.9 1849.5V1861.5M532.8 1849.5V1861.5M715.6 1849.5V1861.5M898.5 1849.5V1861.5" stroke="#000" stroke-width="4" fill="none"/>
<text x="537.1" y="1936.3" text-anchor="middle" class="lb">UT 19.03.2105</text>
<path d="M975.9 1345.3H1714.6V1846.8M975.9 1345.3V1848.8H1713.6" fill="none" stroke="#000" stroke-width="3.8"/>
<text x="954.3" y="1355.6" text-anchor="end" class="tk">75</text>
<text x="954.3" y="1439.5" text-anchor="end" class="tk">80</text>
<text x="954.3" y="1523.4" text-anchor="end" class="tk">85</text>
<text x="954.3" y="1607.3" text-anchor="end" class="tk">90</text>
<text x="954.3" y="1691.3" text-anchor="end" class="tk">85</text>
<text x="954.3" y="1775.2" text-anchor="end" class="tk">80</text>
<text x="954.3" y="1859.1" text-anchor="end" class="tk">75</text>
<text x="975.6" y="1896.8" text-anchor="middle" class="tk">0</text>
<text x="1159.8" y="1896.8" text-anchor="middle" class="tk">6</text>
<text x="1344" y="1896.8" text-anchor="middle" class="tk">12</text>
<text x="1528.2" y="1896.8" text-anchor="middle" class="tk">18</text>
<text x="1712.4" y="1896.8" text-anchor="middle" class="tk">24</text>
<path d="M963.9 1345.3H975.9M963.9 1429.2H975.9M963.9 1513.1H975.9M963.9 1597H975.9M963.9 1681H975.9M963.9 1764.9H975.9M963.9 1848.8H975.9M975.6 1848.8V1860.8M1159.8 1848.8V1860.8M1344 1848.8V1860.8M1528.2 1848.8V1860.8M1712.4 1848.8V1860.8" stroke="#000" stroke-width="4" fill="none"/>
<text x="1382.8" y="1936.3" text-anchor="middle" class="lb">UT 19.03.2105</text>
<text x="63" y="54" class="lb">a)</text>
<text x="926.5" y="54.5" class="lb">b)</text>
<text x="64" y="680" class="lb">c)</text>
<text x="925" y="686.5" class="lb">d)</text>
<text x="62.6" y="1313.5" class="lb">e)</text>
<text x="925.8" y="1313.6" class="lb">f)</text>
<text x="199" y="54" class="lb">Northern hemisphere</text>
<text x="1024" y="55" class="lb">Southern hemisphere</text>
<text transform="translate(50.5 331.4) rotate(-90)" text-anchor="middle" class="lb">AACGM latitude</text>
<text transform="translate(96 189.7) rotate(-90)" text-anchor="middle" class="sl">dayside</text>
<text transform="translate(98.5 464.9) rotate(-90)" text-anchor="middle" class="sl">nightside</text>
<text transform="translate(50.5 964.8) rotate(-90)" text-anchor="middle" class="lb">AACGM latitude</text>
<text transform="translate(96 817.0) rotate(-90)" text-anchor="middle" class="sl">dayside</text>
<text transform="translate(98.5 1092.2) rotate(-90)" text-anchor="middle" class="sl">nightside</text>
<text transform="translate(50.5 1585.8) rotate(-90)" text-anchor="middle" class="lb">AACGM latitude</text>
<text transform="translate(96 1446.4) rotate(-90)" text-anchor="middle" class="sl">dayside</text>
<text transform="translate(98.5 1721.6) rotate(-90)" text-anchor="middle" class="sl">nightside</text>
<text x="1752" y="744.5" class="lg" textLength="165.5" lengthAdjust="spacingAndGlyphs">relative STEC</text>
<text x="1782" y="779.5" class="lg" textLength="85" lengthAdjust="spacingAndGlyphs">[TECU]</text>
<circle cx="1766.4" cy="811.8" r="8.6" fill="#c02818"/>
<text x="1809.5" y="822.4" class="lg" textLength="50.5" lengthAdjust="spacingAndGlyphs" xml:space="preserve">> 40</text>
<circle cx="1766.4" cy="852.6" r="8.6" fill="#e82010"/>
<text x="1796" y="863.2" class="lg" textLength="79" lengthAdjust="spacingAndGlyphs" xml:space="preserve">30 - 40</text>
<circle cx="1766.4" cy="893.5" r="8.6" fill="#f06010"/>
<text x="1796" y="904.1" class="lg" textLength="79" lengthAdjust="spacingAndGlyphs" xml:space="preserve">20 - 30</text>
<circle cx="1766.4" cy="934.3" r="8.6" fill="#e8e800"/>
<text x="1796" y="944.9" class="lg" textLength="79" lengthAdjust="spacingAndGlyphs" xml:space="preserve">15 - 20</text>
<circle cx="1766.4" cy="975.2" r="8.6" fill="#c8f000"/>
<text x="1796" y="985.8" class="lg" textLength="79" lengthAdjust="spacingAndGlyphs" xml:space="preserve">11 - 15</text>
<circle cx="1766.4" cy="1016.0" r="8.6" fill="#40e010"/>
<text x="1809.5" y="1026.6" class="lg" textLength="65" lengthAdjust="spacingAndGlyphs" xml:space="preserve">8 - 11</text>
<circle cx="1766.4" cy="1056.8" r="8.6" fill="#10c030"/>
<text x="1809.5" y="1067.4" class="lg" textLength="66" lengthAdjust="spacingAndGlyphs" xml:space="preserve">6 -   8</text>
<circle cx="1766.4" cy="1097.7" r="8.6" fill="#1898c0"/>
<text x="1809.5" y="1108.3" class="lg" textLength="66" lengthAdjust="spacingAndGlyphs" xml:space="preserve">4 -   6</text>
<circle cx="1766.4" cy="1138.5" r="8.6" fill="#00f0f0"/>
<text x="1809.5" y="1149.1" class="lg" textLength="66" lengthAdjust="spacingAndGlyphs" xml:space="preserve">2 -   4</text>
<circle cx="1766.4" cy="1179.4" r="8.6" fill="#0000ff"/>
<text x="1803" y="1190.0" class="lg" textLength="74" lengthAdjust="spacingAndGlyphs" xml:space="preserve">-1 -   2</text>
<circle cx="1766.4" cy="1220.2" r="8.6" fill="#d0a0e8"/>
<text x="1825.5" y="1230.8" class="lg" textLength="41.5" lengthAdjust="spacingAndGlyphs" xml:space="preserve">< -1</text>
</svg></body></html>
